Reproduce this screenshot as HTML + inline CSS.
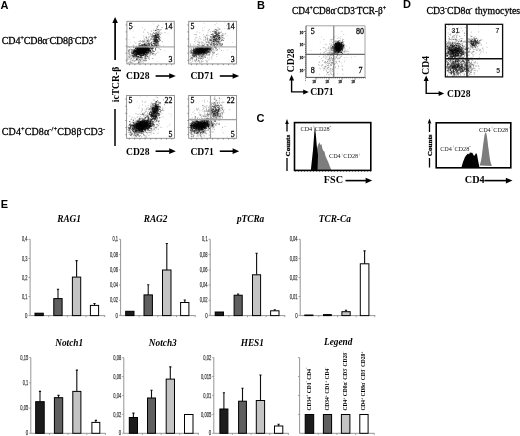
<!DOCTYPE html>
<html><head><meta charset="utf-8"><title>figure</title>
<style>
html,body{margin:0;padding:0;background:#fff;}
body{width:520px;height:436px;overflow:hidden;}
svg{display:block;}
.t{stroke:#000;stroke-width:0.28px;}
.t2{stroke:#444;stroke-width:0.25px;}
</style></head>
<body>
<svg width="520" height="436" viewBox="0 0 520 436">
<defs><filter id="bl" x="-5%" y="-5%" width="110%" height="110%"><feGaussianBlur stdDeviation="0.5"/></filter><filter id="gb" x="0" y="0" width="520" height="436" filterUnits="userSpaceOnUse"><feGaussianBlur stdDeviation="0.3"/></filter></defs>
<rect width="520" height="436" fill="#fff"/>
<g filter="url(#gb)">
<text x="0.6" y="9" font-family='"Liberation Sans", sans-serif' font-size="11" font-weight="bold" font-style="normal" text-anchor="start" fill="#000" >A</text>
<text x="256.9" y="8.8" font-family='"Liberation Sans", sans-serif' font-size="11" font-weight="bold" font-style="normal" text-anchor="start" fill="#000" >B</text>
<text x="256.4" y="121.5" font-family='"Liberation Sans", sans-serif' font-size="11" font-weight="bold" font-style="normal" text-anchor="start" fill="#000" >C</text>
<text x="403" y="8.4" font-family='"Liberation Sans", sans-serif' font-size="11" font-weight="bold" font-style="normal" text-anchor="start" fill="#000" >D</text>
<text x="0.8" y="208" font-family='"Liberation Sans", sans-serif' font-size="11" font-weight="bold" font-style="normal" text-anchor="start" fill="#000" >E</text>
<text x="1.8" y="43.7" font-family='"Liberation Serif", serif' font-size="10" font-weight="normal" font-style="normal" text-anchor="start" fill="#000" class="t" textLength="95.2" lengthAdjust="spacing"><tspan>CD4</tspan><tspan font-size="6.5" dy="-4.2">+</tspan><tspan dy="4.2">CD8&#945;</tspan><tspan font-size="6.5" dy="-4.2">-</tspan><tspan dy="4.2">CD8&#946;</tspan><tspan font-size="6.5" dy="-4.2">-</tspan><tspan dy="4.2">CD3</tspan><tspan font-size="6.5" dy="-4.2">+</tspan></text>
<text x="1.8" y="134.9" font-family='"Liberation Serif", serif' font-size="10" font-weight="normal" font-style="normal" text-anchor="start" fill="#000" class="t" textLength="103.4" lengthAdjust="spacing"><tspan>CD4</tspan><tspan font-size="6.5" dy="-4.2">+</tspan><tspan dy="4.2">CD8&#945;</tspan><tspan font-size="6.5" dy="-4.2">-/+</tspan><tspan dy="4.2">CD8&#946;</tspan><tspan font-size="6.5" dy="-4.2">-</tspan><tspan dy="4.2">CD3</tspan><tspan font-size="6.5" dy="-4.2">-</tspan></text>
<line x1="115.1" y1="60" x2="115.1" y2="22.6" stroke="#000" stroke-width="1.7"/><path d="M115.1 17.1L112.3 23.1L117.9 23.1Z" fill="#000"/>
<line x1="115" y1="109" x2="115" y2="146" stroke="#111" stroke-width="1.6"/>
<text x="0" y="0" font-family='"Liberation Serif", serif' font-size="9.6" font-weight="bold" font-style="normal" text-anchor="middle" fill="#000" transform="translate(119.2 84.5) rotate(-90)">icTCR-&#946;</text>
<clipPath id="c1"><rect x="126.9" y="21.3" width="47.4" height="42.6"/></clipPath><g clip-path="url(#c1)"><g filter="url(#bl)"><path d="M142.2 27.7h0.8M157.8 24.4h0.8M152.3 36.9h0.8M129.6 42.9h0.8M128.7 39.8h0.8M130.2 25.2h0.8M147 56.5h0.8M132.8 30.8h0.8M156.6 61.7h0.8M154.3 38.2h0.8M173.2 23.3h0.8M167.6 33.6h0.8M133.7 26.3h0.8M141.5 56.1h0.8M135.5 46.1h0.8M157.2 37.2h0.8M152.9 24h0.8M129.7 30.1h0.8M159.2 39.5h0.8M141.8 46.2h0.8M148.4 34.1h0.8M164.6 51.1h0.8M138.5 45.8h0.8M151.8 58.6h0.8M161.5 33.6h0.8M173.4 26.3h0.8M146.7 53.6h0.8M134.1 42.1h0.8M128.8 49.8h0.8M163.1 45.7h0.8" stroke="#000" stroke-width="0.8" stroke-opacity="0.25" fill="none"/><path d="M143.5 48.6h1M139.2 48.4h1M137.6 50.3h1M145.4 45.2h1M136.1 52.2h1M147.2 50.2h1M133.1 47.3h1M142.5 48.6h1M137.7 53.4h1M145.7 49.7h1M142.6 51h1M147.8 50.1h1M143.7 51h1M136.2 54.4h1M145.4 50.5h1M133.7 51h1M143.8 46.1h1M141.3 52.6h1M137.3 54.8h1M143.5 49.6h1M143 51.4h1M142.5 52.5h1M138.8 50.2h1M145.5 49.5h1M138.6 53.1h1M146.8 48.2h1M136.2 51.4h1M140.8 50h1M146.3 47.1h1M145.7 46.7h1M138.8 52.4h1M146.2 51h1M142.9 50.4h1M142.4 51.4h1M141 51.1h1M143.7 49.9h1M144.7 50.8h1M149.3 49.1h1M139.7 50.1h1M141.9 52.2h1M140.4 51.5h1M147.2 43.7h1M137.4 51.9h1M143.1 50.5h1M140.2 52.1h1M142.3 49.1h1M150.9 48.8h1M139.4 50.7h1M140.6 50.5h1M130.9 52h1M144.8 47.2h1M141.7 52.3h1M145.5 52.5h1M134.9 51.3h1M140.5 51.9h1M144.3 44.2h1M144.9 46.6h1M143.4 46.9h1M142.7 52.6h1M141 50.9h1M144.6 49.9h1M141.9 53.5h1M145.3 48.8h1M151.3 45.6h1M144.8 49h1M142.3 51.6h1M142.6 51.4h1M135 48.9h1M143.4 48h1M136.9 48.5h1M146.7 50.7h1M146.6 47.2h1M141 48.2h1M145.2 52.8h1M138.9 54.3h1M145.2 49.1h1M134.7 55h1M140.8 49.3h1M143.2 50.8h1M146.7 47h1M146.5 52.2h1M146.9 48.7h1M139.2 53.1h1M142 50.5h1M146.8 48.5h1M132.6 51.8h1M134.9 53.7h1M142.4 48.9h1M141.9 52h1M142.4 52.9h1M141.8 52.5h1M147.9 52.1h1M139.4 52.7h1M133.9 50.1h1M134.6 54.3h1M136.8 51.5h1M140.8 50.5h1M139.4 51.4h1M148.3 48.8h1M144 51.8h1M140.1 48.1h1M139.9 53h1M135 50.8h1M145.7 51h1M141.9 52h1M141.6 48h1M135.3 50.6h1M144.7 48.4h1M137.7 49.8h1M135.6 51.6h1M137.2 52.2h1M132.7 53.3h1M138.1 47.2h1M144.1 49.2h1M132.6 50.8h1M142.4 49.2h1M144.8 51.1h1M144.2 50.4h1M146.9 50.4h1M142.2 45.9h1M145.5 52.1h1M140.1 49.8h1M148 45.2h1M144.4 54.7h1M138.3 52.6h1M148.6 48.4h1M144.1 51.6h1M138 51.1h1M143 51.7h1M141.3 50.1h1M137.5 50.7h1M144.9 49.8h1M137.9 49.6h1M152.1 50.1h1M142.7 44.8h1M144.1 50.7h1M148.1 49.6h1M141.5 51.5h1M134.6 54.2h1M142.4 48.7h1M147.4 52.7h1M135.9 50.4h1M142.7 50.5h1M139.5 48.9h1M150 50.4h1M136.3 48.9h1M148.4 50.7h1M148.8 50.3h1M138.3 51.7h1M133 51h1M141.5 51.5h1M138.7 50.8h1M143.4 50.7h1M144 50.2h1M140.7 52.2h1M141.3 48.8h1M139.1 51h1M141.2 50.8h1M141.6 50.7h1M140.4 48.1h1M143.6 52h1M143.1 49.6h1M142.7 48.1h1M134.4 52.3h1M138.3 52.7h1M136.1 46.3h1M138.3 54.4h1M139.4 48.1h1M138.9 52.1h1M143.5 50.3h1M147.5 50.4h1M141.7 51.6h1M148.2 50.7h1M144.9 47.3h1M141.3 52h1M140.9 52.8h1M144.2 51.6h1M141.9 55.5h1M146.1 48.8h1M143.1 55.4h1M140.6 52.4h1M145.2 49.5h1M137.2 51.9h1M143.4 52.3h1M144.5 49.7h1M145 50.6h1M142.3 50.3h1M140.9 52h1M137.2 50.2h1M140.8 47.6h1M138.9 46.9h1M139.2 52.1h1M143.6 49.8h1M139.9 47.9h1M148.7 49.7h1M145.2 47.7h1M139.9 47h1M144.9 51.5h1M134.3 52.1h1M143 46.4h1M134.1 50.1h1M138.4 48.3h1M141.7 50.9h1M144.2 51.2h1M147.7 51.2h1M136.3 50.7h1M137 49.3h1M141.2 50.5h1M142.6 46.9h1M136.8 51.5h1M140.6 50h1M140.9 49h1M144.3 50.4h1M140.8 49.2h1M139.5 45.3h1M137.8 51.4h1M135.9 52.2h1M141.4 47.6h1M140.4 50h1M143.5 51.2h1M141 48.8h1M140.9 50.4h1M144.4 50.3h1M138.1 48.5h1M139.7 49.3h1M137.2 51.2h1M139.7 51.1h1M143.3 49.1h1M150.1 47.6h1M145.7 49.6h1M144.6 44.7h1M138.8 51.6h1M144.9 54.4h1M143.3 52.6h1M144.9 51.5h1M143.4 49.6h1M142.9 47.8h1M145.5 47.3h1M143.5 54.3h1M140.7 50.6h1M145.9 49.4h1M138.6 51.7h1M144 51.2h1M139.4 54.5h1M147.8 48.9h1M142.3 49.3h1M146.5 47.7h1M143.8 48.8h1M139.2 52.4h1M146.5 49.1h1M139.3 52.6h1M141.5 51h1M147.8 51.2h1M140.6 55.3h1M141.9 51.9h1M139 50.9h1M135.7 55.5h1M146.1 46.8h1M135 48.7h1M145.7 48.4h1M141.1 49.9h1M140.5 48.4h1M140.9 47.6h1M141.4 51.1h1M143.2 49.5h1M138.2 51.6h1M140.4 53.9h1M144.3 49.5h1M139.4 49.5h1M137.8 50.6h1M142.9 51.1h1M144.7 53.9h1M138.8 51.1h1M151.2 44.1h1M139.6 51.2h1M142.3 51h1M140.8 51.3h1M142.1 51.8h1M133.9 50.5h1M141 48.4h1M137.9 52.6h1M139.3 52.2h1M144.5 50.3h1M143.4 49.7h1M136.2 51.7h1M143 48.9h1M141.5 51.9h1M138.5 52.5h1M148.3 47.6h1M142 50h1M147.5 49.6h1M144.6 48.2h1M141.4 50.4h1M135.5 54.9h1M144.1 46.2h1M144.3 49.4h1M143.4 50.7h1M135.7 51.4h1M146.9 47.9h1M137 48.7h1M137 52.2h1M148.1 49.6h1M143.5 54.5h1M139.2 49.6h1M143.8 51h1M137.1 49.1h1M142.7 50.6h1M136.5 51.2h1M139.7 51.8h1M141 50.3h1M140.7 52.8h1M146.6 48.4h1M144.3 48.1h1M142.1 51.8h1M147 48.2h1M141.3 50.9h1M135.8 51.8h1M139.1 51.8h1M136.3 47.6h1M141.8 50.9h1M139.9 52.6h1M140.2 49.5h1M142.5 46.9h1M138.9 51h1M144.6 49.3h1M142.4 48.8h1M143.4 53.3h1M140 55.6h1M139.1 51h1M142.7 52.2h1M135.8 47.5h1M144.2 51.4h1M145.1 54.9h1M142.4 50.7h1M145.2 50.2h1M147.2 46.4h1M138.4 44.1h1M144.4 48.9h1M146 53.7h1M141.4 49.9h1M139.2 49.2h1M139.4 52.2h1M141.7 50.5h1M141.3 52.3h1M143.3 49.7h1M143.9 49.5h1M137.8 54.3h1M142.8 48.1h1M145.7 50.1h1M136.4 55h1M143.2 51.8h1M142.2 49.9h1M136.1 53.7h1M141.5 49.8h1M142.9 50.2h1M143.9 49h1M140.3 46.3h1M140.2 52.1h1M146.4 48.4h1M141.8 53.6h1M140.6 52.1h1M147.9 48.9h1M145.8 47.9h1M142.2 50.1h1M142.5 52.5h1M150.2 46.9h1M139.6 51.9h1M137.7 52.4h1M143.5 49.3h1M142.8 46.9h1M143.6 46.7h1M138.6 50h1M140.4 52.4h1M141.6 49.6h1M144.3 53h1M141.7 51.1h1M146.3 49.8h1M137.8 56.4h1M148.9 44.5h1M141.6 51.2h1M145.5 50.8h1M140 48.6h1M142.4 52.3h1M136.9 49.4h1M140.5 46.7h1M140.3 49.8h1M142.9 48.6h1M138 50.5h1M141 49.2h1M141.9 51.8h1M146.8 52.6h1M138.3 50.3h1M133 56.4h1M138.7 51h1M142.8 47.3h1M143.2 49.9h1M134.7 52.7h1M145.1 45.6h1M144.7 50h1M143.5 50.8h1M146.3 48.7h1M144.6 48.8h1M143.9 48.1h1M141.9 53.9h1M143.1 49.7h1M136.8 49.9h1M142.7 52h1M143.4 51h1M142 53.1h1M139.8 49.7h1M144.9 49.7h1M140.2 49.5h1M140.8 51.9h1M142.3 47.7h1M143.2 50.3h1M138.1 52.8h1M140.3 50h1M145.2 52.2h1M139.1 51.9h1M139.3 55.7h1M140.2 53.2h1M139.4 52.6h1M148.7 43.4h1M140.1 51.8h1M140.8 49.2h1M149.7 48.5h1M135.7 53.6h1M135.5 54.3h1M139.4 51.2h1M146.3 49.4h1M135.4 48.4h1M146.3 50.7h1M138.8 52.8h1M143.7 51.2h1M132.8 51.9h1M145.3 51h1M143.6 44.8h1M142.4 51.2h1M150.7 46.1h1M140.3 50.8h1M144.6 48.7h1M145.5 47.8h1M142.3 49.1h1M141.8 48.9h1M136 54h1M142.4 49h1M142.7 52.1h1M137.7 51.1h1M143.8 50.9h1M139.2 46.6h1M146.4 49.9h1M141.4 49.8h1M142.3 49.3h1M137.3 49.9h1M138.9 49.8h1M137.4 52.7h1M136.9 52.9h1M137.8 52h1M146.8 49.5h1M138.8 51.2h1M141.2 46.9h1M139.3 51.3h1M139.8 51h1M144.6 51.2h1M145.2 50.7h1M140.4 50.6h1M140.3 50h1M140 47.2h1M140.2 50.7h1M137.8 51.3h1M143.4 49.6h1M148.1 43.4h1M139.8 47.1h1M146.5 54.6h1M132.1 53h1M143.3 49.3h1M142.5 45.5h1M144.9 50.3h1M141.3 49.2h1M143.7 48.9h1M142.1 49.2h1M133 52.5h1M142.6 51.7h1M138.2 51.2h1M143.9 50.1h1M147.2 53.1h1M137.1 47.5h1M145.5 52.6h1M145.4 51.1h1M138.8 49.6h1M144.4 47.8h1M134.2 50.2h1M151.9 51.8h1M138.5 49.6h1M142 48.7h1M146.4 49h1M138 54h1M139.4 51.4h1M141.3 49.8h1M142.4 48.7h1M133.5 47.9h1M136.3 50.1h1M141.4 50.5h1M143.7 50.1h1M138.2 49.8h1M133.4 52.1h1M143.6 51h1M141 50.2h1M145.1 49.5h1M144.6 50.8h1M142.9 52.7h1M139.2 50.2h1M138.1 49.6h1M148.2 52.3h1M141.9 51.5h1M146.3 50.9h1M145.5 46.8h1M139.3 51.9h1M147 49.2h1M138.1 50.5h1M138.6 49.4h1M146.9 47.8h1M142.6 54.6h1M146.1 49.9h1M139.4 51.8h1M147.9 50.1h1M146.3 49.4h1M143.4 49.5h1M143.7 52.5h1M136.1 51.6h1M142.1 49.1h1M140.7 52.2h1M149.4 49.7h1M142 47.1h1M148.8 48.7h1M140.8 48.3h1M140.8 48.3h1M142 51.2h1M141.8 50.9h1M139 54h1M138.1 47.5h1M140.4 49.1h1M137.5 50.7h1M142 47.8h1M141.7 53.3h1M144 49.5h1M141.9 50h1M141.7 51.9h1M140 45.8h1M141 48.7h1M143.7 48.6h1M143.1 54.5h1M137 49.2h1M135 47.1h1M134.6 52.9h1M138.2 47.4h1M136.2 53h1M138.4 50.4h1M143.4 52.7h1M149.3 50.6h1M142.1 50.6h1M149 51.5h1M140.5 51.6h1M142.6 50.2h1M139 48.3h1M138.7 47.9h1M146.4 50.3h1M137.6 54.2h1M144 45.9h1M148.9 50.2h1M148.7 46.1h1M143.7 50.7h1M142.3 50.5h1M144.8 46.5h1M136.1 48.9h1M139.1 49.8h1M143 50.6h1M141.3 49.1h1M140.3 52.7h1M144.4 49.9h1M141 53.7h1M139.6 52.2h1M145.7 48.8h1M144.1 47.5h1M145.4 49.8h1M135.8 53.2h1M138.7 53.7h1M138.9 50.7h1M142.4 49.5h1M142.2 49.1h1M144 49.8h1M141 44.9h1M145.9 49.4h1M134.8 52.3h1M143.8 52h1M138.2 54.4h1M142.1 55.2h1M141.3 51.9h1M139.6 48.6h1M146.1 51.1h1M147.7 50.6h1M138.5 47.7h1M138.7 49.7h1M138.7 52.3h1M142.6 49.6h1M142.1 50h1M142.7 51.7h1M144.8 48.2h1M136.5 54.6h1M142.5 52.4h1M135.1 51.3h1M140.9 47.6h1M139.9 52.3h1M146.4 52.5h1M137.6 48.5h1M143.9 51.7h1M141.6 47.7h1M144.8 51.2h1M143.4 48.9h1M143 51.6h1M138.5 47.3h1M143 51h1M142 52.1h1M139.2 50.8h1M140.6 51.8h1M147.4 48.4h1M150 51.4h1M144.8 50.8h1M148.1 48.4h1M140.6 48.4h1M143.9 52.6h1M143.7 50.7h1M140.8 50.9h1M136.6 53.8h1M139.4 48.6h1M138.3 49.5h1M145.2 51.6h1M136.8 53.5h1M144.6 48.4h1M135.5 50.4h1M139.3 51.7h1M139.2 46.8h1M141.6 47.2h1M144.3 47.2h1M138.5 49.4h1M140.1 53.4h1M145 50.8h1M142 47.1h1M139.3 49.8h1M138 52.3h1M138.4 49.7h1M136.6 47.4h1M144.4 52.4h1M141.7 48.3h1M131.3 53.3h1M146.2 49.8h1M145.7 52.4h1M145.6 48.5h1M145.9 50.9h1M135.5 51.1h1M136.1 51.5h1M143.2 47.8h1M134.3 54.9h1M143.6 52.9h1M137 53.7h1M150.3 52.3h1M140.8 51.1h1M141.4 52.5h1M145.5 49.6h1M136.7 53.1h1M140 52.1h1M143.3 53.3h1M145.6 48.5h1M143.7 53.5h1M139.7 51.7h1M146.6 51.7h1M142.8 47.3h1M136.8 52.1h1M144.2 55h1M138.8 53.4h1M143.6 46.4h1M138.5 51.5h1M139.6 50.6h1M142.9 48.4h1M143 48.7h1M139.7 52h1M139.5 51.5h1M147.6 48.9h1M141.3 52h1M140.6 52.8h1M136.9 52.8h1M139.2 49.3h1M147.8 47.1h1M148.5 50h1M146.5 47.1h1M146.7 52.1h1M141 50.3h1M150.9 48.4h1M139.6 49.6h1M143.3 50.6h1M143 53.6h1M140.5 51.6h1M146.5 47.1h1M146.3 53h1M135.8 49.5h1M136.7 47.8h1M142.3 46.4h1M144.1 52.7h1M135.2 51.3h1M134.6 53.7h1M138.6 50.6h1M142 51.4h1M140.2 50.8h1M139.5 51.1h1M137.1 51.6h1M134 51.3h1M148.8 48.7h1M136.9 52.1h1M137 48.1h1M139.1 52.5h1M142.9 49.8h1M137.5 49.2h1M146.7 49.6h1M136.9 47.2h1M137.5 56.5h1M137.1 51.3h1M142.2 49.9h1M139.8 48h1M138.3 54.7h1M139 52.8h1M135 51.5h1M143 52.2h1M137.5 52.6h1M142.6 48.6h1M142.9 48.2h1M138.5 51.1h1M131.2 52.7h1M137 48.5h1M140.3 52.3h1M140.6 53.2h1M136.5 48.9h1M147.6 49.7h1M144.7 47.9h1M144.7 50.1h1M144 49.8h1M145.8 48h1M137.1 48.4h1M145.5 47.9h1M137.1 49.6h1M139.2 48.4h1M140.1 49.5h1M138.9 49.1h1M141.4 49.5h1M142.1 50.8h1M141.7 45.8h1M139.1 49.4h1M143.7 46.6h1M138.7 50.5h1M140.7 52.6h1M140.3 52.7h1M135.1 48.3h1M146.3 50.1h1M143.4 50.2h1M142.7 47.6h1M144.8 48.5h1M145.3 49.6h1M133.4 49.8h1M145.7 49.1h1M140.1 51.2h1M139.6 49.7h1M142 50.6h1M147.3 49.1h1M149.5 52.1h1M148.5 50.8h1M142.1 50.5h1M140.6 49.1h1M140.9 49.2h1M148 49.9h1M138.9 47.1h1M141.1 49.6h1M136.8 49.2h1M133.3 53.6h1M142.5 55.5h1M141.3 50.1h1M147 49.3h1M142 49.5h1M139.9 53.9h1M146.1 52.8h1M140.2 50.8h1M138.6 53.1h1M136.5 52.8h1M146.3 52.1h1M138.5 53.4h1M138.4 49.6h1M137.1 53.9h1M147.5 47.7h1M138.5 50.5h1M151.5 50h1M138.6 47.4h1M139.5 53.3h1" stroke="#000" stroke-width="1" stroke-opacity="0.6" fill="none"/><path d="M152.2 48.2h1M135.7 50.8h1M129.2 57.2h1M134.3 56.6h1M128.7 49.7h1M141.8 48.7h1M145.5 50.6h1M133.5 55.3h1M144.5 44.1h1M152.5 50.8h1M144 44.4h1M135.7 51.4h1M146.3 45.3h1M133.4 46h1M139.2 53.1h1M129.4 51.9h1M144.9 56.2h1M144.5 49.7h1M132.3 50.1h1M136.4 53h1M141.4 57.2h1M141.6 47.6h1M151 52.7h1M140.6 49.1h1M127.9 50.7h1M145.7 47.7h1M132.2 54h1M142.5 53.3h1M145.7 55.4h1M135.9 56h1M134.7 55.2h1M141.8 52.2h1M146.6 50.2h1M148.2 53h1M141 49.5h1M135.3 50.9h1M139.2 51.8h1M159.9 49.7h1M144.8 47.7h1M135.8 51.5h1M141 47.9h1M150.4 47.5h1M145.7 42.4h1M140.7 52.5h1M142.1 53.3h1M142.4 51.8h1M128 51.8h1M142.3 50.5h1M134.9 50.8h1M153.5 54.9h1M141 56h1M129 47.3h1M136.8 49.3h1M137.1 53h1M159.3 45.3h1M141 52.5h1M140.9 54.7h1M150.9 45.1h1M141.3 50.5h1M141.7 46h1M127.7 46.3h1M144 51.5h1M139.3 43.6h1M137.6 49.6h1M130.9 50.5h1M145.3 52.5h1M140.7 53.3h1M136.7 52.7h1M141.1 53.4h1M140 51.2h1M139.2 49.6h1M155.1 50.3h1M144.8 58.6h1M148.3 44.5h1M145.5 53.4h1M153.4 53.4h1M144.6 46.6h1M135.2 53.7h1M143 47.5h1M137.8 50.8h1M141.1 52.6h1M137.8 47.9h1M149.5 55.2h1M140.6 55.2h1M143.8 53.2h1M143 48.4h1M144.9 54.2h1M136.2 59.4h1M155.1 54.8h1M153.7 51.4h1M137.9 50.1h1M135.4 53.1h1M140.8 53.9h1M129.3 62h1M155 48.4h1M145.1 52.3h1M142.1 50.5h1M139.1 49h1M141.6 51.3h1M141.9 48.3h1M140.8 51.7h1M143.6 47.2h1M143.9 54.3h1M144 49.6h1M137.2 51.5h1M146.2 55.8h1M139 49.7h1M143 51.8h1M134.2 50.4h1M140.3 54h1M132.2 49.8h1M142.8 46.9h1M141.4 52.6h1M139.1 48.4h1M139.9 50.6h1M142 48.4h1M146.3 44.6h1M139.4 51.9h1M146.2 48.3h1M143.6 49h1M146.4 56.4h1M138.3 53.6h1M135.3 56.1h1M148.2 50.1h1M133.6 54.5h1M148.6 53.7h1M144.4 44.4h1M137.2 57.2h1M133.5 57h1M153 51.6h1M147.4 49h1M132.6 52.9h1M139.2 51.7h1M144.8 50.2h1M142 52.8h1M141.8 57.7h1M143.4 51.3h1M138.7 49.8h1M149.2 50.3h1M133.2 51.2h1M139.3 50.3h1M146.6 46.3h1M143.7 51.4h1M133 53.3h1M140.3 53.4h1M137.9 53.2h1M129.1 50.2h1M146.2 54h1M140 49.6h1M145.9 43.2h1M135.9 54.9h1M143.9 47.3h1M129.5 59h1M140.8 48.4h1M141.5 54.5h1M143.7 43.7h1M144.1 44.6h1M148 51.4h1M154.4 46.5h1M141.3 55.1h1M135.9 50.1h1M138.1 51.9h1M134 54.7h1M144 51.1h1M151.1 48.2h1M148.4 48h1M143.9 44.1h1M141.6 50.7h1M136.9 50.2h1M137.8 49.7h1M136.6 50.6h1M133.7 52.6h1M145.3 49.7h1M138.3 56.8h1M147.4 53.3h1M147.6 49h1M140.5 55.5h1M136.9 52h1M143.2 52.3h1M139.4 55.2h1M139.9 54.3h1M147.8 52.3h1M144.3 46.8h1M131.7 51.3h1M144.6 55.9h1M132.9 54.3h1M134.6 50.3h1M139.2 54.3h1M142.7 55.2h1M134.9 55.9h1M146.5 50.6h1M143.1 49.1h1M133.3 51.7h1M138.5 62.1h1M138.6 57.7h1M142 52.4h1M144.7 48h1M146.6 51.6h1M131.3 55.6h1M144.3 52.4h1M150.3 48.1h1M144.3 53.4h1M135.6 56.8h1M130.4 49.2h1M143.1 47.3h1M138.6 46.3h1M140.1 47.7h1M141.6 46h1M143.2 50.1h1M140.9 51.3h1M140.4 47h1M134.2 51.4h1M141.8 44.4h1M135.2 50.6h1M134 54.1h1M139 49.1h1M134.8 55.6h1M136.7 54.4h1M142 44.7h1M133.6 53.1h1M143.2 53.7h1M146.3 54h1M138 51.4h1M145.1 49.1h1M146.1 44.9h1M144.5 50.1h1M128.7 57.5h1M142.5 51.2h1M133.3 51.5h1M149.5 46.8h1M132.8 52.8h1M137.4 49.1h1M135.9 56.2h1M132.7 60.1h1M136.3 48.7h1M145.9 52.4h1M134.4 55.5h1M128.2 51h1M147.5 49.2h1M132.6 55.1h1M146.3 50.3h1M128.8 52.9h1M143.7 53.6h1M152.1 48.3h1M137.4 52.1h1M147.5 46.8h1M146.9 40.7h1M145.1 48.3h1M143.9 53.3h1M132.9 52.9h1M142.4 53.2h1M133.9 49.6h1M130.1 62.6h1M139.1 51.1h1M131.7 56.7h1M138.1 57.1h1M145.9 50.5h1M144.3 46.9h1M138 50.1h1M132.4 53.4h1M140.6 56.6h1M134.3 51.3h1M143.5 52.4h1M140.3 50h1M143.9 52.1h1M128.6 53.2h1M130.9 49.5h1M141.5 51.6h1M140.6 48.5h1M138.6 48.8h1M143.4 53.4h1M152.6 53.4h1M135.1 51.2h1M134.7 53.9h1M153.6 51.3h1M132.6 55.1h1M140.7 52.6h1M151.2 46.4h1M136.5 59.3h1M142.1 48.5h1M141.5 54.8h1M139.1 49.5h1M137.1 58.9h1M129.4 54.6h1M141.1 53.6h1M138.3 53.8h1M145.6 50h1M137.5 51.6h1M134.2 52.2h1M138.7 52.7h1M149.9 54.1h1M138.1 54.2h1M142.9 53.7h1M140.8 52.5h1M137 49.6h1M147 54.7h1M145 52.2h1M141.9 49.7h1M129.6 56.2h1M141.4 49.5h1M135.3 57.2h1M130.3 59.9h1M146.2 58.6h1M135.9 52.5h1M137.4 52.8h1M138.6 49.4h1M146.8 47.5h1M137.7 54.1h1M136.8 50.9h1M142.5 49.9h1M132.5 52.9h1M140.3 57.6h1M134.2 56.3h1M135.3 51.5h1M138.6 52.9h1M147.2 56.3h1M137.4 56.9h1M147.4 53h1M136.3 55.6h1M140.1 52.9h1M139.3 54.2h1M148.4 53.9h1M139.9 55.2h1M149.1 46.5h1M148.9 45.2h1M144.4 52.8h1M150.1 50.5h1M136.9 49.6h1M133.1 55.8h1M138.5 49.5h1M143.3 48.3h1M137.4 50.7h1M152.1 54.2h1M138.4 46.6h1M142.3 51.5h1M143.1 53h1M139.1 55.1h1M146 51.2h1M137.6 50.6h1M144.1 47h1M139 49.3h1M132.1 55.5h1M140.4 51.8h1M145 45.4h1M140.3 52.7h1M145 46.9h1M145.2 51.4h1M149.9 53.6h1M145.5 58h1M140.2 50.2h1M137.7 48.9h1M139 45.4h1M140.3 53.1h1M146.6 49.1h1M148.9 47.6h1M138.3 45.5h1M135.1 50h1M150.1 51.4h1M134 54.8h1M143.3 50.2h1M140.4 50.6h1M135.9 46.6h1M140.8 55.9h1M149.2 48.8h1M135.7 51.9h1M146.3 51.6h1M137.1 53.5h1M139.6 53.5h1M137 47.4h1M141.4 54h1M133.6 52.7h1" stroke="#000" stroke-width="1" stroke-opacity="0.4" fill="none"/><path d="M157.5 37.4h1M152.8 48.6h1M156.5 44.2h1M152.5 46.6h1M152.5 36h1M156.1 45.6h1M154.1 35.5h1M157.2 29.8h1M156.4 41.9h1M154.2 41.5h1M156.9 40.7h1M155.5 46.4h1M154.4 39.6h1M153.7 43.8h1M154.4 41.2h1M155.7 39.4h1M159 39.1h1M157.8 43.4h1M158.3 38.6h1M156.9 42.9h1M154.1 40.1h1M155.3 38.8h1M158.6 35.9h1M153.3 30.2h1M155 35.8h1M155.1 41.7h1M158.8 41h1M156.9 35.6h1M155.8 45.7h1M159.5 30h1M156.2 46.8h1M158.2 32.1h1M154.5 41.7h1M156.9 35.2h1M153.1 43.4h1M151.9 45.5h1M155.3 40.4h1M153.2 35.8h1M157.9 32.2h1M160.6 32.9h1M153 38.9h1M156 42.6h1M154.9 37.9h1M155.4 36.2h1M149.7 42.9h1M155.9 39.8h1M154.1 40h1M155.5 38.6h1M158.9 31.1h1M156.7 34h1M153.9 46h1M153.4 38.2h1M153.7 43.4h1M154.7 30.7h1M156.8 37.5h1M154.1 44h1M154 37h1M155.5 41h1M153.8 43.8h1M160.2 37.7h1M160.6 29.5h1M158.5 37.8h1M156 37.4h1M155.1 32.7h1M153.8 45.1h1M158 37.7h1M154.9 35.5h1M151.9 47.2h1M156.7 39.7h1M155.2 34h1M157.6 43.1h1M152.9 43.4h1M152.9 41.7h1M153.9 36.8h1M156.2 41.2h1M158.1 35.3h1M157.8 45.8h1M155.2 41.2h1M154 38.1h1M152.8 39.1h1M155 45.4h1M156.8 43.1h1M154.9 37.8h1M154.7 40h1M151.1 42.1h1M152.7 36.1h1M155.9 36.6h1M158.9 39h1M157.9 45h1M154.2 40.8h1M158.3 37.8h1M156 36.4h1M155.9 37.3h1M155 43.8h1M158.2 40h1M155.3 43.1h1M155.6 33.9h1M158.3 34.9h1M158 34.7h1M159.9 34.6h1M156.2 46.4h1M152.6 45.8h1M155 30.4h1M156.5 42.5h1M156.8 26.9h1M155.6 37.5h1M154.9 37.5h1M152.3 35.8h1M158.1 46.9h1M155.3 35.5h1M155.6 44.2h1M157.7 33.6h1M155.7 39.7h1M157.6 45.1h1M155.7 44.9h1M153.7 46.2h1M154.4 40.8h1M157.9 34.9h1M155.3 30.4h1M155.9 38.8h1M154.5 41.3h1M151.3 38.3h1M155.9 37.8h1M155.9 47.6h1M155.2 34.4h1M154.2 39.3h1M157.2 35.1h1M158.2 34.4h1M156.9 41.3h1M155 49.4h1M155.1 38.1h1M155.9 43.2h1M152.6 39.9h1M153.6 41.8h1M158.2 39.6h1M155.2 39.8h1M149.1 41.8h1M156.5 39.9h1M155.2 35.4h1M154.3 44.7h1M154.4 45.4h1M150.7 36.1h1M156.1 39h1M152.6 35.4h1M158.9 33.2h1M154.3 33.5h1M154 41.9h1M158 29.5h1M158.8 36.6h1M153.2 46.8h1M156.2 33.1h1M154.7 35.4h1M153.7 37.1h1M157 40.9h1M150.9 51.9h1M153.4 39.3h1M155.1 42.6h1M154.5 41.1h1M159.6 40h1M153.1 40.3h1M154.1 37h1M155.7 40.7h1M154.4 43h1M156 32.7h1M157.5 37.5h1M158.4 36.2h1M156.4 40.7h1M151.1 31.1h1M152.3 45.4h1M151.1 42.8h1M157.3 41.7h1M157.2 36.8h1M155.3 40.1h1M155.9 42.5h1M155.6 35.6h1M154.1 40.8h1M153 32.6h1M155 36.3h1M156.7 26.3h1M155 37.7h1M158.4 29.8h1M154.6 41.2h1M155.7 44.8h1M158.3 34.3h1M157 37.6h1M152.9 46.1h1M154.8 34.8h1M155.3 34.8h1M157.3 41.1h1M158 41.4h1M153.6 43.8h1M154.5 36.6h1M155.1 39.1h1M158.3 36.4h1M156.2 39h1M153.7 33.4h1M154.8 40.9h1M155.8 41.4h1M155.9 36.9h1M157 34.3h1M153 37h1M153 36.1h1M154.4 36.1h1M155.9 35.2h1M155.8 30.7h1M156.4 34.8h1M158.2 25.6h1M153.7 39.9h1M150.8 36.6h1M155.6 39.5h1M152.3 39.7h1M156.5 34.4h1M157 39h1M155.8 36.9h1M156.5 39.6h1M157.5 41.5h1M154.4 37.8h1M157.6 37.5h1M155.9 41.6h1M156.7 27.8h1M155.6 40.1h1M156.3 35.4h1M158 38.7h1M154.7 35.4h1M157 33.9h1M152.1 48.3h1M157.4 44.4h1M157.8 42.2h1M151.3 44.2h1M157.7 41.7h1M150.7 44.4h1M158.6 37h1M155.2 42.8h1M154.6 44.2h1M155.2 42.3h1M156.7 31.9h1M151.4 53.9h1M155.2 45.4h1M156.6 47.5h1M157 36.3h1M156.8 29.8h1M154.5 43.3h1M151 39.3h1M156.3 45.6h1M154.1 35.6h1M152.4 33.6h1M155.2 49.1h1M152.3 45.3h1M156.7 36.7h1M161.6 27.5h1M155.2 40h1M158.6 48.2h1M160 40.3h1M156.6 45.8h1M156.3 40.9h1M155.4 37h1M151.7 48h1M156 28.9h1M156.1 38.9h1M154.6 47.8h1M155.5 37.7h1M154 38.7h1M154.5 39.9h1M161.6 41.8h1M152.5 48h1M156.7 43.2h1M156.4 43.1h1M155.9 46h1M156.6 45.8h1M154.5 38.8h1" stroke="#000" stroke-width="1" stroke-opacity="0.4" fill="none"/><path d="M145.6 50.7h1M150.3 38.9h1M157.6 52.2h1M150.8 34.7h1M148.3 46.9h1M147.9 45.7h1M154.5 40.7h1M142.9 51.1h1M146.8 44.8h1M140 40.7h1M139.1 47.5h1M133.4 37.4h1M150.2 34.9h1M144.4 49h1M137.3 58.8h1M144.6 49.6h1M145.2 47.1h1M147.6 43.6h1M132.7 45.3h1M150.7 49.8h1M145.4 48.3h1M149.3 45.3h1M148.4 34.1h1M148 42.2h1M142.9 41.8h1M139.7 43h1M147.9 58.3h1M156.5 37.4h1M148.4 37.2h1M151.8 49.2h1M144 40.2h1M142.9 41h1M138.6 48.5h1M142.5 42.3h1M139.5 43.8h1M152.2 48.6h1M152.1 53.7h1M138.7 51.4h1M140.1 47.9h1M149.1 45.8h1M151.8 37.4h1M139.5 48.1h1M146.7 40.1h1M156.7 47.2h1M140.1 51h1M147.3 32.4h1M147.5 42.3h1M142.7 54.8h1M146.9 41.2h1M151.3 44.8h1M152.9 43.3h1M146 37.7h1M145 46.2h1M137.5 63.3h1M141.9 41.3h1M137.5 52.1h1M145.5 41.5h1M142.2 42.1h1M142.5 46.5h1M145.3 49.2h1M146.6 45.1h1M152.8 47.5h1M151 42.6h1M143.8 41.4h1M147 48.1h1M147.2 41.6h1M135.3 43.1h1M151.7 46.8h1M145.3 37.1h1M146.4 45.7h1M142.8 49h1M143.5 41.5h1M142.3 52.1h1M146.5 39.1h1M143.8 51.5h1M149.5 40.5h1M155.1 36.6h1M144.2 52.5h1M146.9 46.1h1M144.4 39.9h1M139.8 47.9h1M152 34.5h1M155.2 39.6h1M141.5 49.4h1M147.7 38.2h1M136.1 53.7h1M142 50.1h1M135.9 50.9h1M138.3 41.3h1M146.1 45.6h1M140.6 41.5h1M143.3 36.2h1M151.4 43.9h1M158.8 41h1M149.7 43.7h1M143.5 38.6h1M156.6 40.4h1M142.2 40.6h1M156.8 40.3h1M142.3 51.3h1M157.5 36.5h1M148.1 40.8h1M146.5 50.7h1M164.5 32.5h1M148.5 47.6h1M147.3 48.1h1M148.8 36.7h1M140.8 47.9h1M152.4 41.9h1M150.1 33.7h1M148 39.6h1M148.5 44.9h1M141 46.9h1M141.3 49.6h1M140.9 45.3h1M146.4 40.6h1M151.6 37h1M152.5 41.8h1M140.6 47.2h1M141.3 45.8h1M150.6 52.3h1M149 51.9h1M145.9 37.1h1M136 55.7h1M137.9 54.6h1M153.8 41.5h1M145.1 43.8h1M147.6 41.8h1M143 44.6h1M151.8 37h1M145.9 38h1M139.2 41.3h1M147.8 47.5h1M147.3 40.9h1M149.4 40.2h1M149.8 43.6h1M143.1 32.1h1M141.9 52.1h1M152.6 53.3h1M144.2 42.7h1M156.8 40.4h1M158.9 38.6h1M147.9 47.7h1M141.4 45.3h1M143.3 45.3h1M150 39.1h1M147.4 40.8h1M144.3 29.7h1M146.3 45.5h1" stroke="#000" stroke-width="1" stroke-opacity="0.3" fill="none"/><path d="M131.7 60.9h1M139.3 61.7h1M143.6 59.9h1M137.1 54.8h1M136.7 56.7h1M139.4 56.7h1M155.7 53.4h1M144.8 56.6h1M136.6 60.7h1M138 54.5h1M140.4 57.4h1M131.9 55.8h1M140.8 58.9h1M140.4 56.2h1M139.4 57.6h1M136.9 57.2h1M134.7 60.8h1M138.2 62.9h1M142.6 62.8h1M137.3 59.1h1M135.5 57.5h1M128 56.3h1M132.5 56.1h1M145 58.8h1M145.1 60.5h1M143.3 60.9h1M134.5 60.3h1M136.1 56.5h1M132.3 63h1M142.8 55.5h1M139.6 59.1h1M140.2 57h1M130.6 58.1h1M143 60.3h1M141.8 61.2h1M132.3 57.9h1M140 60.9h1M138.9 59.5h1M152.3 58.7h1M127.4 58.4h1M129.7 56h1M139.3 63h1M140.7 59.9h1M143.9 58.6h1M133 57.7h1M139.9 57.2h1M134.1 57h1M129.3 55h1M137.5 57h1M138.2 62.1h1M139.7 57.9h1M131.2 54.9h1M140.2 55.5h1M140.5 54.9h1M138.8 57.8h1M143.8 56.9h1M135.9 58.7h1M138.3 62.9h1M136.5 56.5h1M136.2 59.4h1M139.4 60h1M148.6 57.9h1M131 58.4h1M140.4 51.6h1M138.1 53.7h1M140.6 62h1M144 53.7h1M146 60.6h1M135.9 59.4h1M146.8 57h1M137.9 56.4h1M144.7 51.8h1M146.2 55.2h1M143.3 53.3h1M132.6 56.3h1M142.8 53.3h1M141.5 56.2h1M145.2 57.1h1M140.8 57.5h1M148.4 57h1M138.4 60h1M133.7 58.6h1M134.3 53.7h1M129.8 61.3h1M140.5 53.6h1M148.5 56h1M135.9 58.7h1M131.4 53.3h1M133.7 61.4h1M143.5 53.4h1M145 58.1h1M140.9 58.1h1M140.4 55.1h1M132.8 56h1M135.9 59.8h1M131 62.6h1M134.3 56.3h1M142.1 59.3h1M136 54.9h1M132.2 53.4h1M144.6 61.1h1M148.8 59.4h1M139.9 60.2h1M143.5 57.3h1M128.2 53.9h1M132.4 60.2h1M144.9 57h1M141.9 57.9h1M139.7 56.4h1M137.8 58h1M127.5 59.5h1M138 60.8h1M144.1 60.3h1M142.7 55.3h1M128.1 62.8h1M145 55.2h1M145.5 59.9h1" stroke="#000" stroke-width="1" stroke-opacity="0.35" fill="none"/></g></g><line x1="126.9" y1="46.8" x2="174.3" y2="46.8" stroke="#b0b0b0" stroke-width="1.3"/><rect x="126.9" y="21.3" width="47.4" height="42.6" fill="none" stroke="#8a8a8a" stroke-width="0.9"/><path d="M129.5 63.9v1.3M134.8 63.9v1.3M140.1 63.9v1.3M145.3 63.9v1.3M150.6 63.9v1.3M155.9 63.9v1.3M161.1 63.9v1.3M166.4 63.9v1.3M171.7 63.9v1.3" stroke="#666" stroke-width="0.7"/><path d="M126.9 24.9h-1.3M126.9 31.9h-1.3M126.9 39h-1.3M126.9 46.1h-1.3M126.9 53.2h-1.3M126.9 60.3h-1.3" stroke="#666" stroke-width="0.7"/><text x="128.8" y="29" font-family='"Liberation Serif", serif' font-size="7.8" font-weight="normal" font-style="normal" text-anchor="start" fill="#222" class="t">5</text><text x="172.4" y="29" font-family='"Liberation Serif", serif' font-size="7.8" font-weight="normal" font-style="normal" text-anchor="end" fill="#222" class="t">14</text><text x="172.4" y="62.4" font-family='"Liberation Serif", serif' font-size="7.8" font-weight="normal" font-style="normal" text-anchor="end" fill="#222" class="t">3</text>
<clipPath id="c2"><rect x="188.7" y="21.3" width="47.9" height="42.6"/></clipPath><g clip-path="url(#c2)"><g filter="url(#bl)"><path d="M206 49.5h0.8M219 37.3h0.8M213.7 50.1h0.8M232.2 42.5h0.8M206.1 62.9h0.8M191.4 56.9h0.8M221.4 45h0.8M210.1 53.3h0.8M231.4 52.3h0.8M224.6 22.8h0.8M204.3 27.1h0.8M234.3 59.3h0.8M195.6 46.3h0.8M216.3 23.3h0.8M207.5 53.1h0.8M219.4 33.3h0.8M225.2 33.7h0.8M214.8 39.2h0.8M235.6 48.9h0.8M227.3 50.1h0.8M206.9 62.3h0.8M222.7 50.7h0.8M202 28.2h0.8M216.3 56.5h0.8M226.7 36.1h0.8M195.4 43.3h0.8M230.7 28.2h0.8M224.1 28.6h0.8M203.6 23.6h0.8M203 37.6h0.8" stroke="#000" stroke-width="0.8" stroke-opacity="0.25" fill="none"/><path d="M211.1 47.5h1M202.5 51.6h1M203.3 49.7h1M199.2 52.6h1M203.5 50.9h1M197.8 52.3h1M204 49.6h1M204.2 53.5h1M193.4 53.2h1M195.6 49.4h1M200 51.7h1M200.6 48.7h1M194.8 50.9h1M200.6 49.3h1M195.3 54.7h1M197.3 51.1h1M198.4 50.1h1M200.9 50.1h1M202.9 48.2h1M195.4 55h1M200.8 51.9h1M205.8 50.5h1M200.4 48.1h1M194.6 53.6h1M203.8 50.9h1M193.3 48.6h1M196.1 49.6h1M201.1 48.8h1M207 48.2h1M198.8 52.5h1M201.8 48.9h1M204.8 53h1M195.7 51.3h1M195.7 48.4h1M203.6 51.2h1M204.9 50.4h1M192.6 52.3h1M197.7 49.3h1M196.5 52.8h1M200.3 54h1M202.1 47.1h1M204.9 51.8h1M200.5 48.6h1M207.6 46.9h1M199.8 47.6h1M195.1 48.9h1M205.7 51.6h1M198.7 48.8h1M200.7 51.3h1M194.2 50.1h1M200.6 51.8h1M201.3 51.3h1M194.8 47.7h1M201.8 48.8h1M200.2 50.1h1M202.5 48.9h1M206.7 49.4h1M203.2 51.2h1M205.2 50.4h1M193.4 51.1h1M208.6 49.7h1M203.3 50.9h1M197.9 50.1h1M198.5 53h1M202.9 53.2h1M203.5 53.2h1M202.3 48.3h1M208.1 49.6h1M205.8 49.9h1M199.5 51.2h1M195.8 49.6h1M197 50.5h1M195.2 51.6h1M202.8 53.6h1M208.4 48.9h1M204.4 49.5h1M202.4 50.2h1M198.6 51.2h1M194.8 52.6h1M199.2 49.1h1M199.5 51.8h1M198.2 52h1M203.7 52.6h1M196.3 51.4h1M203.4 52.6h1M202.1 51.6h1M194.5 50.9h1M207.6 48.7h1M209.5 47.5h1M199.1 48.2h1M203.5 50.5h1M209.2 49.1h1M199.3 48.5h1M200.8 52.2h1M204.3 52h1M204.4 49.8h1M203.4 50.3h1M195.9 54.6h1M202 48.5h1M202.5 50.7h1M205.4 52.1h1M206.8 47.7h1M193.2 52.7h1M202.3 50.9h1M196 50.8h1M201.9 51.7h1M210 49.1h1M197.5 47.2h1M205.2 49.4h1M200 49.1h1M203.2 47h1M201.3 50.7h1M202.5 52.5h1M200.4 50.8h1M203.8 47.3h1M199.6 51h1M204.5 48.4h1M204.3 50.5h1M194.1 49.5h1M194.9 52.1h1M201.9 51.6h1M204 49h1M205.6 51h1M202.9 51h1M195.6 52.3h1M196.1 49.5h1M199.4 51.1h1M200.5 50.1h1M196.7 51.8h1M197.2 48.9h1M201.7 52.9h1M198.7 49.2h1M207.2 52.2h1M199.5 50.5h1M202.7 55.3h1M201.7 52.1h1M202 47.2h1M195.8 49.5h1M202.7 50.4h1M208.2 48.6h1M202.1 50.5h1M202.2 54.3h1M202.5 52.8h1M206 48.4h1M203.5 49.4h1M201.3 50.8h1M200.7 49.8h1M207.2 48.8h1M204.3 52.8h1M203.8 51.7h1M207 51.2h1M207.5 46.7h1M209 48.9h1M193.2 51.1h1M194.9 51.8h1M194.2 50.3h1M202.1 50.6h1M197.4 50.9h1M200.4 50.8h1M200.7 50.2h1M203.9 47.2h1M198.8 51.3h1M198.9 50h1M199 51.3h1M206 49.2h1M199.8 51.4h1M199.1 47.6h1M201.8 49.7h1M198.6 52.2h1M200.8 49.6h1M191 49.7h1M200.8 50.4h1M202.7 50.6h1M198.3 48.9h1M196.1 51.3h1M196.2 52.9h1M194.6 48.8h1M199.4 47.8h1M207.3 47.5h1M200.5 50.2h1M196.7 48.4h1M193.3 53.7h1M205.9 53.3h1M194.8 52.8h1M201 52h1M198.9 52.3h1M204.8 50.8h1M206.8 49h1M207 48.1h1M206.8 44.5h1M200.6 49.3h1M201.2 52.3h1M203.9 50.1h1M207.4 46.6h1M197.9 53.8h1M201.4 46.9h1M201.8 48.3h1M207.4 51.2h1M199 53.2h1M197.6 52.9h1M203.2 49.9h1M194.7 51.4h1M191 51.7h1M193.4 54.3h1M195.9 47.4h1M203.4 50.7h1M199.4 54.6h1M204.1 50h1M197 46.3h1M203.2 51.8h1M197.8 48.8h1M200 47.9h1M201.1 51.9h1M207.2 49.7h1M201.9 51.7h1M206.6 48.8h1M195.4 50.4h1M195.2 50.2h1M200.4 51.3h1M201.5 50.6h1M199.4 51.6h1M204.8 51.1h1M207 48.8h1M200.3 53.6h1M201.8 51.1h1M199.7 52.5h1M198.8 49.3h1M200.4 49.9h1M204.2 49.2h1M201.2 50.1h1M202 49.2h1M204.9 47.2h1M198.9 49.8h1M203.5 50.1h1M202.7 49.6h1M197.4 49.4h1M199.2 50h1M202.1 50.9h1M204.9 49.5h1M197.3 49.5h1M201.2 51.1h1M209.1 49.2h1M208.9 52.1h1M196.8 53.6h1M206.1 51.8h1M201.1 52.2h1M198.8 50.9h1M201.5 53.5h1M200.2 52.4h1M200.8 49.4h1M202.1 51.5h1M198 52.3h1M197.5 49.8h1M201.6 50h1M196.1 48.8h1M201 51h1M198.9 51.3h1M194.5 52.6h1M202.6 50.7h1M198.3 51.3h1M201.7 52.3h1M202.1 50.8h1M198.1 52.7h1M205.6 48.7h1M203.6 50.5h1M200.1 48.5h1M207.5 45.9h1M201.9 49.7h1M205.5 48.9h1M201.2 51.6h1M202.5 49.3h1M203.8 50.6h1M204.8 48.9h1M200.5 50h1M197.4 51.8h1M203 52.6h1M199.6 51.5h1M205.6 49.4h1M201.1 50.8h1M197.6 49.6h1M205.5 49.9h1M200 48.6h1M201.7 52.4h1M195.7 50.1h1M206 52h1M207.1 48.3h1M203.1 48.8h1M202.9 49.5h1M202.1 52.6h1M202.1 49.9h1M201.1 51h1M198.7 51.4h1M203.9 52.6h1M191.8 50.5h1M195.9 53.1h1M211.1 48.8h1M201.7 52.4h1M190.5 52.5h1M198.5 50.3h1M202 49.3h1M205.4 49.6h1M203.3 54.5h1M199.3 52.5h1M197.8 53.4h1M204.9 50h1M205.5 52.4h1M206.6 49.4h1M201 52.5h1M194.4 50.9h1M203 51.1h1M209.2 51.9h1M202.3 51h1M195.2 51.5h1M201.8 50h1M201.3 51.5h1M196.6 50.5h1M193.8 54.1h1M195.8 48.7h1M203.9 49.6h1M204.7 49.1h1M209.9 49.9h1M201.5 50.7h1M200.2 52.1h1M209 48.1h1M196.5 52.5h1M204.7 47.2h1M197.6 49.6h1M203.3 50.9h1M197.4 49.4h1M202.9 46.6h1M203.4 49.8h1M209.1 50.5h1M198.3 50.7h1M199.4 49.7h1M201.5 52.1h1M194.5 51.6h1M207.3 50.5h1M197.1 50h1M196.7 48.7h1M205.6 49.7h1M197.4 48.9h1M199 50.1h1M207.8 48.3h1M201.7 52.3h1M203.5 49.7h1M192.3 54.8h1M203.1 49.4h1M200.1 49.1h1M196.6 49h1M203.1 51h1M201.8 51.7h1M203.1 50.3h1M197.4 52.3h1M205.9 50.6h1M205.8 48.7h1M197.2 53.5h1M198.5 51.5h1M200 50.8h1M199.5 50h1M194.1 55.3h1M201 47.3h1M196.7 49.6h1M196.9 47.1h1M203.7 52.8h1M200 52h1M202.8 48h1M205.2 46.8h1M198.3 50.5h1M206 49.7h1M200 49.4h1M201.2 50.6h1M204.3 52.2h1M203.8 50h1M200.7 53.3h1M201.6 50.4h1M208.7 51.6h1M203.1 49.9h1M198.6 52.9h1M199.3 52.6h1M197.6 51.5h1M202.5 50.5h1M201.9 51h1M195.8 49.8h1M200.8 53.7h1M200 49.2h1M198.1 51.2h1M205.5 48.6h1M203.2 50.4h1M199 49.4h1M199.9 49.6h1M202.4 47.3h1M205.7 50.8h1M203.7 52.5h1M202.7 47.3h1M201.2 51.3h1M197.6 49.4h1M202.8 51.1h1M199 50.6h1M198.5 50.1h1M200.9 52.4h1M194.1 51.5h1M207.5 49.7h1M201.7 51.8h1M196.3 49.5h1M193.5 49.7h1M202.1 51.8h1M198.9 49.9h1M202.7 51.2h1M201.2 47.3h1M197.7 47h1M201.5 49h1M198.6 53.6h1M206.4 50.2h1M202 50.6h1M198.4 51h1M208.3 47.5h1M198.1 51.4h1M204.7 51.2h1M196.8 51.2h1M199.3 48.8h1M201 49.8h1M204.7 50.5h1M197.6 51.4h1M199.1 49.9h1M199.2 52.7h1M198.5 48.2h1M197.9 52.6h1M209.2 47h1M199.2 50.4h1M195.2 52.5h1M200.7 51.1h1M209.9 48.2h1M204.3 51.3h1M198 50.2h1M207.4 50.4h1M201 48.7h1M204.6 50.7h1M210.3 51.1h1M204.2 50.3h1M200.9 49.7h1M202.1 50.7h1M203.8 51.8h1M201.9 49.5h1M204.6 52.4h1M197.5 52h1M203.2 51h1M202.8 50h1M201 53.4h1M207.4 46.8h1M190.6 53.5h1M197.9 50.4h1M194.4 52.6h1M200.4 49.8h1M205.3 53.7h1M207.2 51.2h1M199.3 52h1M201 52.5h1M203.2 50h1M202.8 49h1M204.6 52.3h1M199.5 51.8h1M194.3 53.6h1M204 48.2h1M208 49.3h1M193.3 49.9h1M204.3 49.4h1M204.8 47.1h1M200.7 52.3h1M198.3 52.3h1M199.5 51.5h1M202.9 53.9h1M196 52.9h1M205.8 47.6h1M201.9 54.3h1M204.1 44.9h1M199.2 48h1M201.8 49.2h1M198.2 49.7h1M201.8 49.6h1M197 51h1M202.2 48.9h1M204.8 47h1M202.3 49.6h1M207 48.2h1M197.6 49h1M209.1 49.9h1M196.3 51h1M197.4 53.9h1M201.8 46.9h1M202 51.9h1M201 51.4h1M200.4 51h1M201.4 49.3h1M202.3 50.6h1M200.4 49.5h1M196.7 51.9h1M203.3 46h1M199.1 53.3h1M204.3 48.7h1M206 47.8h1M198.2 54.4h1M198.9 50.6h1M193.7 50.4h1M195.9 51.4h1M193.7 53.9h1M199.1 49.9h1M198.5 52.4h1M206.9 48.6h1M208 51.8h1M206.4 49.9h1M194.9 53h1M199.2 51.3h1M193 51.8h1M201.4 48.9h1M202.6 53.1h1M201.5 49.3h1M209.8 45h1M197.2 52.1h1M197.6 47.4h1M202.2 51.7h1M198.1 53.7h1M203.3 52.1h1M194.5 51.9h1M208 52.5h1M206.2 49.5h1M201.3 49.4h1M205.1 48.5h1M200.6 47.1h1M195.2 54.8h1M201.1 50.9h1M191.8 52.5h1M208.8 46.4h1M191 52.4h1M198.5 50.7h1M195.2 49.5h1M196 52.7h1M200.9 52h1M196.6 52.5h1M199 51.1h1M204.6 49.8h1M198.8 48.2h1M201.3 51.8h1M198.2 51h1M193.1 50h1M202.9 52.4h1M198.9 48.2h1M198.7 48.4h1M200.3 54h1M202 50.1h1M204.9 49.1h1M202.2 50.6h1M202.1 47.8h1M204 51.4h1M190.5 48.2h1M197.6 53.8h1M201.1 51.7h1M203.4 51.6h1M198 50.2h1" stroke="#000" stroke-width="1" stroke-opacity="0.5" fill="none"/><path d="M202.9 52.7h1M204.1 51.7h1M197.3 55.2h1M203.7 53.9h1M195.6 52.5h1M196.6 51.1h1M201.5 52.2h1M193.3 45h1M195 53.9h1M194.5 53.7h1M197 49.1h1M208.8 54.8h1M199.3 51.4h1M205.8 46.4h1M194.6 55.7h1M205.9 48.9h1M194.9 53.4h1M190.2 51.6h1M197.2 44.5h1M204.4 52.9h1M206.5 45.9h1M190.8 50.6h1M192.2 59h1M193.2 51.7h1M201.6 52.5h1M209.3 46.5h1M206.1 50.8h1M192.1 53.3h1M191.3 57.8h1M195.5 55.2h1M208.6 48h1M193.9 52.9h1M193.3 55.3h1M200.8 49h1M195.7 54.4h1M191 58.1h1M194.5 51.8h1M194.5 57.3h1M206.3 54.2h1M204.5 50.9h1M212 51.3h1M203.3 52.6h1M205.2 51.3h1M198 46.9h1M213.4 45.1h1M213.9 52.6h1M196 52.9h1M198.8 45.6h1M197.9 52.7h1M207.4 46.4h1M202.3 51.2h1M201.1 51.7h1M196.8 47.8h1M203.3 52h1M204.6 54.4h1M190.3 46h1M193.9 53.7h1M200.3 53.6h1M221.8 46h1M198.5 49.8h1M202 52.6h1M194 56.5h1M208.1 51.3h1M199.1 50.8h1M193 51.1h1M206.4 47.5h1M196.8 54.6h1M212.4 47.1h1M207.3 48.1h1M202.9 52.4h1M192.7 55.8h1M212.4 49.4h1M201.2 47.6h1M212.4 49.4h1M191.6 55.2h1M189.6 51.1h1M214.9 46.8h1M195.2 50.5h1M196.4 53.7h1M209.5 46.7h1M202.1 45.5h1M210.5 49.3h1M196 56.8h1M200 55.6h1M208.3 55h1M194.5 52.5h1M202.4 50.4h1M210.1 47.4h1M207.6 54.2h1M193.5 50.9h1M202.6 50.4h1M200.3 49.9h1M199.7 52.9h1M204.7 48.2h1M198.8 49.3h1M198 47.4h1M206.9 52.2h1M198.8 49.5h1M196.5 50h1M190.2 58.1h1M222 43.8h1M192.3 54.5h1M203.4 46h1M196.6 52.3h1M199.7 49.8h1M198.9 50.7h1M208.5 49.6h1M199.5 49.9h1M195.2 50h1M201 56.8h1M207.8 50.7h1M212 52.4h1M201.3 50.7h1M192.6 53.5h1M197 47.1h1M192.2 58.7h1M201.7 52.6h1M201.1 49.8h1M203.7 54h1M198.1 53.3h1M206.8 48.7h1M200.8 49h1M204 49.6h1M207.5 47.7h1M211.5 48.4h1M193.7 49.8h1M204.1 48.1h1M213.1 53h1M202.8 46.6h1M199.5 49.3h1M214.9 47.1h1M206.2 54.2h1M193.2 51.6h1M202.1 52.5h1M192.2 53.4h1M199.8 54.3h1M196.4 51.1h1M204.7 48.7h1M218.5 46h1M206.3 53.4h1M206.5 49.6h1M194.1 51.7h1M204.7 50.9h1M204.3 52.4h1M193.4 49.7h1M209.7 48.2h1M190 58.8h1M193.8 49.7h1M206.1 46.9h1M194.5 55.6h1M195.7 59.8h1M202.1 59.2h1M200.9 51.4h1M195.5 51.5h1M196.5 51.9h1M204.7 46.7h1M192.6 46.3h1M210.3 49.4h1M199.9 51.2h1M207.1 51.1h1M205.8 49.9h1M199.1 51.4h1M204.7 50.7h1M206.5 55.5h1M213.6 53.2h1M199.5 57.7h1M193.9 52.2h1M206.8 49.6h1M199 50.5h1M208.1 42.5h1M209.3 53h1M199.8 53.1h1M193.9 55.9h1M220.6 45h1M209.6 49.5h1M197.4 50.4h1M198 47.9h1M191.5 58h1M200.2 53.1h1M202.4 52.4h1M204.9 53.6h1M191.8 51.1h1M193 54.6h1M202.4 51.1h1M195.7 53.2h1M199.8 49.2h1M202 49h1M206.9 52.1h1M195.6 54h1M200.1 49.2h1M192.8 47.6h1M192.4 53.8h1M208 48.1h1M201.3 52.2h1M205.6 51.8h1M208.9 52.2h1M195 53.5h1M200.4 53.1h1M198.4 54.2h1M208.7 47.3h1M196.4 52.8h1M203.5 51.2h1M205.1 46.9h1M206 53.9h1M207.9 51.3h1M198.6 52.9h1M198.7 46.8h1M195.8 52h1M196 49.3h1M198.2 50.6h1M200.5 51.2h1M201.7 54.1h1M201.2 52.4h1M190 44.2h1M197.6 53.9h1M197.3 50h1M191.9 55.5h1M196.5 52.8h1M208.1 51.6h1M215.4 48.3h1M207 52.3h1M195.5 52.3h1M195.6 49.1h1M201.7 48.7h1M211.2 47.2h1M196.3 52.3h1M196.5 52.2h1M195.1 47.9h1M210.7 50.9h1M200.8 49.8h1M199.2 52.5h1M190 50.7h1M194.5 56.2h1M193.3 56.1h1M198.2 60h1M199.5 51.6h1M209.8 52.3h1M205.9 47.1h1M208.7 55h1M199 50.1h1M193 55.7h1M202 51.1h1M192.3 57.7h1M206 50.3h1M209.7 46.8h1M205.6 47.4h1M209.6 48.9h1M208.2 48.7h1M203.3 54.3h1M193.8 52.8h1M194.7 54.9h1M195.6 51h1M199.2 55.1h1M192.8 52.6h1M197.4 50.2h1M194.5 51.9h1M200.5 46.6h1M201 47.6h1M201.3 58.1h1M193.3 52.4h1M198.8 54.6h1M195.8 46.7h1M202.3 54.2h1M196.6 54h1M193.3 56.5h1M199.2 49.5h1M202.1 56.3h1M193.5 48.8h1M192.4 49.2h1M199.8 52.5h1M199 52.2h1M208 49.1h1M190.2 46.2h1M201.3 49.1h1M198.5 52.9h1M202.4 46.2h1M193.4 52.8h1M199.6 55h1M195.5 45.9h1M207.2 45.1h1M193.5 53.7h1M194 60h1M201.9 52.7h1M198.1 58.5h1M203.3 48.6h1M207.8 44.9h1M196.1 53h1M200.5 48.4h1M211.7 53.8h1M193.8 53.6h1M195.4 50.9h1M206.9 50.6h1M199.3 51.8h1M192.6 56.4h1M195.5 56.2h1M196.6 50.6h1M210.3 50.2h1M195.3 50.6h1M205.1 56.2h1M204 49.5h1M191.9 50.8h1M199.3 52.3h1M196.1 56h1M193 50.5h1M203.7 52.2h1M197.8 54.7h1M191.1 57.9h1M216.1 54.5h1M201.8 57.1h1M201.1 55.3h1M198.7 52.2h1M202.7 45.6h1" stroke="#000" stroke-width="1" stroke-opacity="0.33" fill="none"/><path d="M213.9 46.3h1M206.5 38.3h1M218.6 40.1h1M215.4 44.9h1M218.7 28.9h1M213.3 36h1M216.8 35.9h1M214.2 46.2h1M205.8 42h1M218.4 41.5h1M216 38.3h1M216.9 39.4h1M213 41.4h1M213.4 37.3h1M215.9 32.1h1M218 38h1M212.4 37h1M210.4 44.3h1M215.9 48.1h1M213.6 41.2h1M213.7 33.3h1M215.4 40h1M219.1 37.2h1M218.6 43.4h1M213.4 36.6h1M211.6 45.9h1M213.5 42h1M219.1 37.3h1M214.2 39.4h1M214.7 31.4h1M212.7 39.1h1M215.1 46.8h1M209.8 39.5h1M211.4 43h1M218.1 39h1M220.9 37h1M215.2 32.6h1M213.8 38.2h1M217 44.6h1M215.8 34.3h1M215.3 35.7h1M214.9 35.8h1M213.3 37.3h1M214.5 36.9h1M211.5 37.9h1M217.2 41.5h1M215.3 32.1h1M212.9 31.5h1M214.3 36.1h1M209.9 40.3h1M211.8 33.8h1M213 41.7h1M222.1 37.3h1M215.5 35.9h1M215.5 37.1h1M224.7 34h1M216.3 34.1h1M217.6 35.7h1M218.7 33h1M222.4 40.2h1M209.9 40.4h1M215.5 32.1h1M217.8 35.7h1M218.8 35.7h1M218.7 39.2h1M217 39h1M215.2 36h1M216.8 41.7h1M212.8 48.7h1M222.3 33.4h1M219.4 38.3h1M217.4 34.3h1M221.9 34.9h1M216.4 34.4h1M220.9 45.2h1M212.3 35.1h1M217.5 36.1h1M215.8 32.6h1M217.7 32.8h1M216.5 50.1h1M213.6 45.8h1M217.7 35h1M215.7 33.2h1M215.8 41.5h1M219.1 37.2h1M212.4 37h1M221 40.3h1M217.6 27.9h1M214.2 40.4h1M211.9 44h1M215 33.5h1M214.3 37.2h1M219.6 35.8h1M210.5 36.7h1M216.3 45.8h1M211.2 44.6h1M217.7 40.6h1M214.4 33.3h1M212.2 42h1M215.8 43.3h1M221.6 39.1h1M214.2 47.3h1M212.3 35.1h1M215.2 36h1M217.2 34h1M220.8 32.1h1M214.9 29.4h1M211.2 40.1h1M218.1 37.4h1M218.1 41.5h1M214.2 37.5h1M215.4 47.9h1M214.3 39.6h1M216.7 44.2h1M216.4 43.4h1M212.9 36.2h1M210 36.7h1M223 40.5h1M216 39.4h1M217.6 31.7h1M214 36.8h1M217.3 34h1M216.3 34.4h1M212.5 34.1h1M212.8 41.6h1M219.7 41.5h1M215.8 35.2h1M211.6 34.6h1M219.9 44.4h1M216.9 37h1M215.6 40.1h1M215.6 40.1h1M213.6 37.8h1M214 43h1M211.1 43.6h1M216.2 35.6h1M216 38.6h1M214.9 39.9h1M215.6 29.6h1M218.2 38.3h1M220.8 40.8h1M208.7 42.9h1M213.4 40.3h1M221.9 44.5h1M212.7 37h1M210.5 40.4h1M218.6 33.4h1M216.6 42.8h1M219.1 35.3h1M214.8 32.3h1M211.7 38.8h1M215 44.3h1M217.1 36.6h1M210.3 44.7h1M216.5 38h1M213.8 32.5h1M218.8 33.7h1M217.3 41.4h1M216.2 30.1h1M216.1 45h1M214.5 31.5h1M219.2 39.3h1M213 43.6h1M214.8 40.1h1M215.4 34.2h1M217.4 34.1h1M211 34.5h1M218.9 44h1M221.9 44h1M220.8 40.1h1M214.3 40h1M212.4 41h1M214.4 39h1M213.5 36.9h1M219.2 37.5h1M213.7 39h1M218.9 37.6h1M213.7 30h1M211 42.4h1M215.3 40.3h1M219.1 40h1M217.9 35.9h1M210.5 40.2h1M215.2 40.7h1M212.8 36.8h1M222.9 35.1h1M215.2 44.4h1M215.2 38.5h1M208.8 40.6h1M213.5 43.9h1M216 36.2h1M217.5 37.2h1M213.1 45.1h1M218.9 39.1h1M217.8 42.4h1M217.7 38.6h1M215.9 40h1M217.4 40.1h1M214.4 37.4h1M218.2 33.6h1M215.3 41.7h1M216.7 36.8h1M216.3 35.8h1M219.3 36.8h1M211.9 31.4h1M216.7 39.2h1M215.6 31.6h1M216.2 34h1M214 37.7h1M213.4 39.1h1M214.1 35.5h1M214.1 44.9h1M220.1 43.4h1M213.7 37.7h1M218.1 42.4h1M211 36.9h1M213.1 41.2h1M218.4 35.9h1M222.8 37.9h1M223.7 38.6h1M214.1 47h1M214.8 35.6h1M220.6 38.7h1M218.5 32.4h1M220.7 43.7h1M216.5 41.6h1M214.8 35.6h1M210.8 39h1M219.1 42.8h1M218.2 41.9h1M214.2 31.4h1M217.8 39.2h1M219.3 37.3h1M212.9 39.7h1M215.6 30.1h1M214.8 33.6h1M213 34.9h1M217 49.6h1M221.7 37.1h1M219.6 38.4h1M217.8 35.1h1M217.1 30.2h1M222.1 35.5h1M218.3 35.6h1M217.8 32.7h1M214.1 42.2h1M219.4 29.3h1M219.7 32.4h1M216.4 40.7h1M214.3 36.2h1M214.9 39.8h1M217.7 45h1M215.3 47.6h1M211.6 45.9h1M214.5 41.5h1M215.5 38.4h1M212.8 39.4h1M222.1 39.9h1M215.9 38.1h1M218.4 37.5h1" stroke="#000" stroke-width="1" stroke-opacity="0.38" fill="none"/><path d="M207.6 45.2h1M218.6 43.7h1M198.1 45.1h1M209.6 48.2h1M213 39.3h1M221 35h1M220.6 45.6h1M218.4 38.8h1M206.6 34.3h1M193.2 48h1M215 46.5h1M209.3 49.6h1M215.3 49.3h1M193.9 46.2h1M197.6 42.7h1M215.6 33.1h1M200.3 45.4h1M211.7 38.3h1M213.6 43.9h1M196 34.9h1M197.3 41.5h1M216.1 34.1h1M200.9 50.1h1M204.7 39.3h1M217.1 44.3h1M206.8 39.2h1M195.3 37.4h1M210.8 44.5h1M200.9 47.8h1M226.1 25.7h1M197.2 53.8h1M202.7 43.3h1M210.9 41h1M215.3 42.7h1M215.3 40.1h1M196.3 59.2h1M198.5 55.9h1M204.8 36.2h1M210 48.2h1M200.2 48.3h1M199.2 42h1M206.5 52.8h1M211.6 41.2h1M206.8 45h1M209.5 43.9h1M198 55.3h1M193.8 34.6h1M208.4 35.3h1M205.8 44.2h1M204.5 49h1M204.4 43.8h1M199.7 46.4h1M200.1 48.3h1M218.9 43.9h1M206.1 35.7h1M216.7 44.6h1M214.6 24.8h1M206.2 42.3h1M211.3 34.4h1M211.1 57h1M208.1 30.3h1M211.1 50.7h1M204.5 49.4h1M203.5 36.4h1M206 52.1h1M213.4 36.4h1M212.7 36.1h1M208.6 43h1M199.4 50.6h1M196.5 32h1M199 43.1h1M198.5 42.5h1M195.3 34.6h1M213.3 40.9h1M208 41.7h1M206.7 42.5h1M195.3 40.8h1M210.4 48.8h1M213.2 51.1h1M197 48.1h1M206.3 52.6h1M217.1 34.8h1M211.3 40h1M199.9 47.4h1M204.4 55.8h1M214.4 47.6h1M202.5 30.6h1M212.7 41.3h1M191.1 53.9h1M218.8 48.5h1M202.3 52h1M208.8 41.9h1M206.6 47.8h1M212.8 45h1M200.5 39.1h1M219.7 45.3h1M203.1 46.1h1M207.5 32.1h1M217.4 54.1h1M206.8 39.4h1M221 36h1M207.2 41.1h1M203.1 34.4h1M194 41.7h1M212.9 40h1M209 29.3h1M207.1 53.6h1M196.3 37.9h1M200.9 45.2h1M210.7 50.6h1M220.5 46.5h1M209.5 39.2h1M199.4 38.6h1M219.3 45.2h1M205.1 39.2h1M213 43.8h1M204.7 37.6h1M207 40.2h1M213.8 44.1h1M208.8 40.2h1M219.6 41.9h1M218.1 43.2h1M212.6 43.4h1M194.5 39.2h1M202.4 50.7h1M213.7 41.3h1M212.9 52.8h1M199.2 36.7h1M195.5 48.5h1M213.9 44.9h1M207.9 48.9h1M204.6 40.6h1M206.6 49.3h1M210.3 34.7h1M200.6 48.5h1M218.1 29.8h1M199.7 51h1M208.7 39h1M208.2 46.5h1M195.1 50.7h1M213.7 46.2h1M214.7 39.1h1M201.1 56.3h1M210.4 37.8h1M217 45.1h1M199.3 32.8h1M201.6 42.1h1M201.1 46.9h1M200.8 50.2h1M216.4 30.7h1M212.5 37.3h1M210.3 41.2h1M213.7 35.4h1M209.8 37.3h1M208.5 43h1M209.9 31.9h1M201.8 56.2h1M214.5 50.9h1M200.6 49.1h1M216.2 50.4h1M205.4 42h1M211.6 40.7h1M204.1 50.7h1M191.2 46.4h1M214.8 36.2h1M205.9 47.1h1M216.1 42.2h1M198.8 44.9h1M213.8 39.3h1M205.2 50.8h1M221 50.4h1M197.7 44.7h1M203.3 48.5h1M207 51.4h1M191.6 59.3h1M201.9 45.1h1M211.4 42.8h1M204.5 55.4h1M209.5 39.3h1M205.2 37.7h1M197.8 47.3h1M209.8 43.1h1M197.8 40.1h1M200.2 58.5h1M207.2 38.6h1M216.6 42.1h1M202.4 42.6h1M215.6 41.2h1M219.1 39.4h1M201.3 43.3h1M203 48h1M210.5 46h1M207 37h1M202.9 40.1h1M206.5 35.6h1M200.6 42h1M202.1 45.1h1M216.5 36.8h1M196.5 48.1h1M213.6 43.8h1" stroke="#000" stroke-width="1" stroke-opacity="0.28" fill="none"/><path d="M199.4 62.7h1M204.5 57.3h1M205.1 53.1h1M197 54.5h1M199 61.7h1M195.1 61.6h1M192 61.1h1M203.8 56.7h1M198.8 57h1M199.1 56.5h1M192.3 56.2h1M198.6 54.4h1M200.7 62.1h1M196.4 57.1h1M198.6 54.9h1M197.8 57h1M197.5 61.4h1M198.8 52.7h1M196 55.2h1M190.1 56.1h1M197.5 55h1M196 59.6h1M202.6 58.6h1M197 53.1h1M202.5 61.3h1M205.4 60.4h1M199.6 58.1h1M197.9 60.6h1M196.4 63.2h1M202.5 56.1h1M198 52.4h1M193.7 56.1h1M212.3 54.7h1M203.4 57.2h1M196.3 58.8h1M209.3 57.9h1M197.6 57.5h1M201.9 55.6h1M198.7 58.5h1M196 58.1h1M199.9 59.1h1M192.3 55.5h1M195.5 60.4h1M199.5 52.2h1M190.6 62.6h1M200 53.3h1M192.7 57.4h1M206.3 61.7h1M195.9 56.1h1M209.2 54.2h1M207.1 58h1M198.6 60.7h1M200.8 54.6h1M201 60.9h1M201.6 61.4h1M202.6 57.6h1M200.5 58.1h1M194.3 56.7h1M198.7 55.7h1M189.5 52.8h1M200.9 58.5h1M198.6 53.6h1M203 55.9h1M201.1 55.7h1M206.6 60.9h1M199.5 52.1h1M195.8 56.2h1M200.7 56.6h1M200 52.3h1M194.3 61.2h1M189.5 59.7h1M211.5 58.9h1M189.9 60.6h1M195.6 60.6h1M204.9 57.5h1M208.4 59.8h1M195.2 54.2h1M212.3 55.8h1M200.4 56.7h1M195.2 52.4h1" stroke="#000" stroke-width="1" stroke-opacity="0.3" fill="none"/></g></g><line x1="188.7" y1="46.8" x2="236.6" y2="46.8" stroke="#b0b0b0" stroke-width="1.3"/><rect x="188.7" y="21.3" width="47.9" height="42.6" fill="none" stroke="#8a8a8a" stroke-width="0.9"/><path d="M191.4 63.9v1.3M196.7 63.9v1.3M202 63.9v1.3M207.3 63.9v1.3M212.6 63.9v1.3M218 63.9v1.3M223.3 63.9v1.3M228.6 63.9v1.3M233.9 63.9v1.3" stroke="#666" stroke-width="0.7"/><path d="M188.7 24.9h-1.3M188.7 31.9h-1.3M188.7 39h-1.3M188.7 46.1h-1.3M188.7 53.2h-1.3M188.7 60.3h-1.3" stroke="#666" stroke-width="0.7"/><text x="190.5" y="29" font-family='"Liberation Serif", serif' font-size="7.8" font-weight="normal" font-style="normal" text-anchor="start" fill="#222" class="t">5</text><text x="234.6" y="29" font-family='"Liberation Serif", serif' font-size="7.8" font-weight="normal" font-style="normal" text-anchor="end" fill="#222" class="t">14</text><text x="234.6" y="62.4" font-family='"Liberation Serif", serif' font-size="7.8" font-weight="normal" font-style="normal" text-anchor="end" fill="#222" class="t">3</text>
<clipPath id="c3"><rect x="126.6" y="95.5" width="47.9" height="42.8"/></clipPath><g clip-path="url(#c3)"><g filter="url(#bl)"><path d="M155.6 96.2h0.8M170.9 114.3h0.8M155.1 130.4h0.8M139.8 96.8h0.8M170.8 107.1h0.8M128.6 101.4h0.8M174.3 127.2h0.8M136.7 101.8h0.8M169.6 124h0.8M154.5 101.1h0.8M146.4 136h0.8M126.8 113.4h0.8M129.3 138.2h0.8M131.6 136.3h0.8M166.9 126.8h0.8M128.6 125.3h0.8M150.2 116.5h0.8M133.6 117.4h0.8M165 101.1h0.8M168.6 113.5h0.8M139.3 105.7h0.8M148.6 123.2h0.8M153.9 133.6h0.8M151.1 117.4h0.8M174 104.7h0.8M127.4 109.6h0.8M141.6 100.8h0.8M146.6 97h0.8M170.7 116.2h0.8M168.7 125.4h0.8" stroke="#000" stroke-width="0.8" stroke-opacity="0.25" fill="none"/><path d="M139.7 121.8h1M139.9 129.6h1M143.7 128h1M134.6 124.6h1M143.9 126.9h1M144.4 120.9h1M143.7 124.9h1M142.3 126.5h1M139.5 121.9h1M136.1 123.2h1M135.7 126.4h1M146.9 122.7h1M137.6 123.6h1M134 127.3h1M139.3 125.4h1M137.5 127.5h1M136.5 127.9h1M139 127.9h1M137.8 127.3h1M143.4 124.9h1M148.7 124.4h1M137.9 127.9h1M137.6 125h1M141.6 125.9h1M148.1 120h1M140.9 128.3h1M141 126.4h1M147.6 121.3h1M142.1 127.3h1M138.1 122.1h1M137.2 126.9h1M143.2 129.5h1M146.6 120.8h1M146.5 126.6h1M148.5 123.6h1M139.1 126.4h1M148.6 125.5h1M149.3 125.7h1M138.4 123.8h1M148.9 120.3h1M139.8 125.1h1M137.2 125.1h1M142.7 130.9h1M141 124.4h1M142.5 127.5h1M137.7 125.3h1M134.2 128.7h1M145.2 128.3h1M137.3 131.6h1M145.2 124.1h1M139.6 125.2h1M136.6 128.4h1M138.5 124.4h1M143.8 125.3h1M138.8 125.5h1M140 129h1M145.5 122.9h1M142 128.7h1M141.1 129.8h1M143.8 126.6h1M132.8 129.4h1M143.3 126.5h1M143.9 126.2h1M139.7 128h1M141.3 123.1h1M137.1 126.8h1M141.9 120.2h1M133 129.8h1M142.8 132h1M134.7 126.4h1M139.1 127.3h1M148.5 127.9h1M137.7 129.2h1M136.3 127.3h1M142.6 126.8h1M138.6 129.3h1M141.2 125.5h1M139.8 123.3h1M144.8 125.6h1M144.4 129.3h1M137.6 125.7h1M141.9 127.4h1M141.2 127.8h1M142.7 121.1h1M137.5 121.5h1M140 124.8h1M144.2 125.3h1M141.8 128.4h1M143.5 122.1h1M138.6 126.9h1M148.9 123.5h1M140.9 126.3h1M144.9 124.6h1M142.6 124.3h1M138.7 124.2h1M144.1 123.6h1M144.1 125.9h1M144.5 118.5h1M136.7 123.6h1M141.2 127.5h1M153.4 126.7h1M147.7 125.1h1M140.1 127.1h1M132.4 129.7h1M141.8 126.9h1M136.4 124h1M138.7 126h1M142.9 124.4h1M143.4 126.7h1M136.4 126.4h1M134.4 125.7h1M145.1 123h1M149.9 124.9h1M145.5 124.9h1M145.8 127.2h1M141.7 124.2h1M140 130.4h1M140.5 124.6h1M137.6 122.3h1M139.5 126.7h1M139 124.2h1M143.5 126.2h1M139.7 126.6h1M137.6 128.4h1M137 125.7h1M141.9 124.4h1M137.5 131.4h1M147.3 120.1h1M141.4 122.5h1M142.2 122.2h1M144.3 126.2h1M149.6 126.7h1M139.9 128.1h1M139.4 125.7h1M138.4 121.9h1M143.2 120.3h1M140.7 126.9h1M141.2 121.8h1M139 127.7h1M147.1 128.1h1M133.7 128.2h1M139.8 127.7h1M134 126.8h1M144.3 123.4h1M139.4 123.6h1M145.8 121.4h1M137.3 125.6h1M141.1 130.6h1M142.3 123.3h1M144.2 125.7h1M142.7 125.1h1M143 122.4h1M136 125.7h1M137 128.1h1M150.6 126.5h1M143.6 125.9h1M137.9 123.2h1M143.2 121.6h1M142.8 124.9h1M144.8 124.9h1M141.7 124.1h1M133.8 126.3h1M145.1 127.2h1M147.1 121.9h1M137.7 128h1M140.8 131.8h1M142.1 121.7h1M139.8 129.6h1M133.6 127.6h1M136.2 130.5h1M139 123.6h1M133.6 125.5h1M130 126.8h1M151.1 123.7h1M139.8 123.1h1M142.8 124.1h1M138.4 129.5h1M143 123.1h1M148 124h1M143.8 125.4h1M147 125.8h1M140.3 127.5h1M139.8 126.2h1M148.2 121.5h1M136.8 125.6h1M139.9 128.9h1M135.6 132.2h1M148.3 123h1M142.1 124.5h1M144.8 126.4h1M145.2 126.5h1M149.9 123.3h1M144.5 124.4h1M141.8 126h1M141.4 126.3h1M137.7 125.9h1M138.3 123.4h1M138.1 125h1M140.1 122.1h1M139.8 123.2h1M138 126.7h1M146.5 125.1h1M139.1 125h1M146.6 120.5h1M145.8 121h1M138.7 126.2h1M141.3 129.5h1M143.7 124.9h1M145.7 124.7h1M138.5 128.8h1M148.7 127h1M137.3 131h1M140 127.7h1M147.9 129.8h1M133.9 124.7h1M146.9 125.5h1M138.7 119.1h1M143.4 124.7h1M131.3 134.1h1M130.2 126.6h1M141.6 126h1M144.7 124.2h1M137.4 125.5h1M131.7 124.9h1M149.9 122.1h1M142.1 129.9h1M146.2 124.8h1M144.6 124.2h1M138 128.6h1M142.9 129h1M140.2 124.9h1M142.9 124.7h1M139.7 123.7h1M142.8 126h1M149.6 123.7h1M134 128.2h1M151.4 122.3h1M137.9 125.9h1M128.7 127.4h1M139.9 122.2h1M143.6 123h1M133 125.6h1M145.2 129.3h1M147.1 124.8h1M139.1 125.4h1M145.5 123.4h1M143.8 127.3h1M137.2 125h1M143.5 125.1h1M140.7 124.4h1M142.1 129.8h1M146.7 120.5h1M141.8 125.7h1M141 122.3h1M141 126h1M138.6 126.9h1M130 124.3h1M142.1 126.3h1M140.5 124.6h1M142.8 127.8h1M145.4 124.5h1M140 128.4h1M144.3 127h1M139.9 123.8h1M142 123.9h1M147 126.4h1M132.2 129.1h1M147.9 126.6h1M139 124h1M146.3 126.9h1M141.2 122.8h1M134.9 127.5h1M137.5 124.7h1M144 127.5h1M132.1 125.9h1M147.2 124.2h1M140.3 127.3h1M135.9 123.8h1M142.4 129.1h1M146 124.5h1M145.8 123.6h1M135.5 122.8h1M143.1 127.3h1M143.1 125.1h1M140.3 128.4h1M140.6 122.2h1M147.2 122.7h1M143.2 125.1h1M146.3 125.1h1M147 124.8h1M139.2 124.8h1M144 123h1M145.5 124.1h1M137 124.4h1M141.7 129.7h1M144.9 124.8h1M138.4 130.7h1M140.3 125.8h1M140.3 129h1M142.1 124.3h1M141.8 123h1M136.8 126.1h1M129.4 130.9h1M149.7 121.1h1M140.1 122h1M142.4 125.8h1M144.1 121.7h1M138.5 124.6h1M141.5 131h1M140.6 125.6h1M139.6 127.8h1M153.4 125.8h1M147.7 121.6h1M146.2 124.6h1M147.5 126.8h1M143.6 121h1M141.8 124.2h1M143.5 125.2h1M145.4 120.8h1M138.2 126h1M142.7 124.3h1M141.4 125.7h1M146.1 124.3h1M141.7 121.1h1M129.2 124.6h1M142 119.9h1M143.3 124.9h1M141.2 123.8h1M140 127.8h1M143.1 125.1h1M139.4 126.4h1M146.8 124.3h1M139.3 123.1h1M141.5 123.3h1M135.6 128.9h1M137.7 121.4h1M139.2 130.4h1M140.4 122.5h1M137 128.2h1M143.4 125.6h1M140.9 126.8h1M148.6 125.2h1M140.1 122.4h1M144.2 128.7h1M143.8 122h1M143 128.3h1M138.9 127.2h1M147.7 128.1h1M133.6 123h1M143.5 126.8h1M139.9 125.8h1M140.3 128.7h1M131.8 128.2h1M135.5 125.1h1M134.3 124.8h1M141.4 125.6h1M149.3 123.3h1M143.2 126h1M143.4 128.6h1M142.2 125.7h1M141 125.6h1M141.7 127.9h1M141.6 125.6h1M141.7 127.3h1M139.9 128.1h1M139.3 127.6h1M150.1 124.2h1M140.5 122.9h1M144.8 124.8h1M145.2 123.1h1M144.7 129.2h1M143.1 124.4h1M135.7 126.7h1M144.7 126.3h1M136 124.2h1M136.7 124.1h1M140.4 126.4h1M150.1 124.1h1M147.1 120.3h1M148.7 125.9h1M143.9 127h1M145.2 129.3h1M144.2 120.7h1M134.5 130.9h1M141.8 128.6h1M139.7 124.3h1M140.1 126.6h1M142 123.9h1M144.2 126.4h1M136.9 123.8h1M132.6 126.6h1M141.2 123.9h1M138.8 125.8h1M141.9 126.8h1M145.4 125.7h1M146 122.2h1M144.4 125.8h1M136.5 124.9h1M143.5 125.3h1M135.6 125.4h1M148.7 126h1M142.5 128.5h1M137.4 126h1M145.6 123.8h1M136.8 127.9h1M147.4 118.1h1M141.6 122.5h1M139.5 122.5h1M152.7 121.5h1M141.3 123.8h1M136.9 125.4h1M143.3 129.4h1M143.5 128.9h1M136.8 126.7h1M138.8 122.3h1M158 121.4h1M142.2 123.5h1M138.4 123.6h1M145.9 123.6h1M140.9 126.1h1M136.2 127.2h1M141 126.7h1M139.8 126h1M144.3 127.3h1M138.9 128.4h1M137 126h1M142.2 125.7h1M129.9 125.6h1M141.1 127.8h1M139.1 129.7h1M133.5 127.4h1M143.9 125h1M143.1 127.4h1M138.2 127.6h1M146.1 124h1M130.6 124.9h1M137.2 123.9h1M143 123.2h1M152.8 124.5h1M135.6 126.1h1M148.6 125.6h1M137.5 128.9h1M140.5 131.1h1M139.3 127.4h1M143.8 123.9h1M141.4 128.3h1M143.7 124.9h1M144.3 129.1h1M145.9 125.7h1M142.2 121.6h1M141.9 124.2h1M144.5 123.4h1M143 122.6h1M145.1 123h1M141.7 126.9h1M140.1 125.8h1M147.1 128.6h1M133 125.1h1M145 127h1M139.4 126.2h1M141.8 131h1M140 122.9h1M134 124h1M147.1 123.4h1M150.5 125.1h1M143.5 126.6h1M145.5 126.9h1M136.9 125.1h1M139.1 126.3h1M139.8 122.9h1M139.3 130.3h1M150.5 121.5h1M143.2 125.1h1M138.1 128h1M142 129.4h1M143.4 124.3h1M129.7 127.8h1M144.9 123h1M145.8 126.2h1M133.6 126.7h1M143.3 126.9h1M142.2 125.3h1M139.8 125.2h1M141 123h1M144.2 124.1h1M143.6 123.8h1M143.4 125.4h1M145.7 125.7h1M145.6 124.2h1M141.1 124.9h1M135.9 126.4h1M146.7 126.3h1M137.9 127h1M144.2 121.6h1M143.2 125.9h1M145 125.4h1M132.8 122.5h1M150.1 122.7h1M147.8 127.2h1M141.3 122.8h1M147.6 124.1h1M144 126.1h1M146.2 126.9h1M134.5 123.6h1M142.1 125.4h1M144.9 124.5h1M141.7 130.4h1M148.2 126.9h1M145.7 122.7h1M141.1 125.4h1M136.2 124.5h1M141.6 122.5h1M144.1 126.1h1M140.3 124.9h1M144.4 126h1M142.5 122.3h1M135.3 131.8h1M138.4 125.3h1M133 125.4h1M138.6 128h1M129.1 124.8h1M139.4 124.8h1M137.8 125.2h1M134.6 127.6h1M146.9 124.7h1M139.7 128.9h1M143.2 122.7h1M138.7 124.6h1M141.9 128.3h1M138.3 125.8h1M141.4 122.6h1M139.7 127.4h1M145.6 120.1h1M144.5 124.2h1M147.5 125.7h1M150.4 124.4h1M139.3 124h1M135.4 128.1h1M144.2 126.9h1M142.3 121.7h1M139.6 125.3h1M142.6 127.1h1M147.9 124.8h1M131.8 125.1h1M131.6 125.8h1M136.3 127.2h1M141.1 128.3h1M146.1 123.4h1M145.7 124.6h1M144.2 128.2h1M136.4 126.4h1M148 122.3h1M142.5 125.6h1M139 122.9h1M138 123.9h1M146.4 125.1h1M144 122.1h1M143.8 125.4h1M145.8 122.8h1M145.8 127.9h1M149.1 121.7h1M135.8 123.2h1M146.1 126h1M142.6 123.2h1M147.9 128h1M141.3 125.3h1M147 125.5h1M147.3 123.3h1M142.8 124.4h1M138.8 125.4h1M140.5 126.9h1M140.2 125.9h1M137.3 123.4h1M147.4 121.9h1M150 125.9h1M131 126.2h1M139.7 125.9h1M140.4 124.3h1M147 124h1M145.4 123h1M139.1 129.2h1M139.7 123.2h1M141.3 128.1h1M140.4 124h1M144.8 127.2h1M140.4 125h1M141.2 132.1h1M141.5 129.7h1M141 126.6h1M132.5 127.8h1M141.6 124.7h1M139 122.8h1M135 127.3h1M138.6 125.9h1M140.5 124.5h1M139.2 130.5h1M136.4 125.4h1M139.6 123.1h1M137.7 128.4h1M145.7 124.9h1M156.3 124.3h1M146.6 122.5h1M147.1 128.3h1M140.7 130h1M137.4 123.7h1M140.9 123.7h1M143.8 122.4h1M140.9 120.9h1M141.9 127.9h1M140.5 126.5h1M145.8 122h1M135.9 126.9h1M142.6 124.6h1M137.8 129.2h1M136.2 126h1M141.7 127.2h1M139.1 124h1M150 121.7h1M145 124.4h1M139.4 125.8h1M140.5 126.5h1M130.2 127.8h1M141.4 123.2h1M140.9 131.2h1M150 125.2h1M142.4 124.6h1M147.5 123.2h1M138.2 127.9h1M136.8 124.6h1M147.2 120.4h1M141.3 125.8h1M142 121.9h1M140.3 124.9h1M150.5 126h1M138.6 128.2h1M144.4 124.6h1M140.3 125.1h1M134.4 125.5h1M146.4 127.9h1M149.6 122.9h1M143.1 119.4h1M139.7 122.9h1M144.4 120.9h1M136.4 123.9h1M143.7 127h1M138.3 130.5h1M141.8 123.4h1M143.1 125.1h1M145.4 125.5h1M151.8 126.1h1M139.1 127.9h1M144.4 122.5h1M137.8 124.4h1M130.9 129.3h1M141.2 128.5h1M139.1 126.2h1M145.2 127h1M142.4 122.8h1M151.7 125.4h1M148.4 127.9h1M148 125.1h1M143.9 126.5h1M135.2 128.8h1M137.4 127.4h1M137.4 128.1h1M140.6 131.7h1M142.6 126.5h1M137.4 125.7h1M141.1 124.9h1M139.2 123.9h1M144.7 123.9h1M138.1 127.1h1M137.8 125.9h1M138.8 123.9h1M140.1 123.8h1M136.1 127.5h1M139.5 122.4h1M139.9 126.3h1M143.6 125.9h1M142.9 126.6h1M139 124.1h1M144.1 124h1M141.9 127h1M146.3 127.4h1M138.3 125.3h1M143.3 121.7h1M136.2 128.1h1M138.4 124h1M145.4 126h1M145.4 123.9h1M140.1 125h1M141.9 120.6h1M138.8 127.8h1M138 126.1h1M142.3 126.6h1M138.9 123.4h1M152.2 121.5h1M148.3 119.9h1M141.9 124.9h1M150.9 128.4h1M145.4 122.3h1M137.6 124.5h1M139.4 126.6h1M137.9 125.7h1M148.8 127.4h1M132.8 125.1h1M140.5 128.8h1M141 130.2h1M143.9 128.4h1M137.6 125.6h1M146.3 125.8h1M133.1 126.6h1M142.6 126.8h1M139.6 130.1h1M142.9 128.7h1M143.4 125.3h1M139.6 123.1h1M145.7 126.4h1M145.5 123.8h1M136.9 125.6h1M140.2 125.8h1M145.5 122.5h1M139.7 127.5h1M146.6 129.7h1M143.5 123.1h1M136.6 124.7h1M142 126h1M141 124.2h1M140.7 125.5h1M144.2 125.1h1M137.4 123.6h1M148.1 123.9h1M140.8 125.6h1M146.4 123.7h1M142.2 124.8h1M143.6 122.6h1M143 127.6h1M147.1 125.8h1M143.6 128.8h1M145.4 128h1M135.7 124.1h1M145 124.1h1M139.2 123.7h1M147.5 121.4h1M141.3 122.2h1M141.9 130.8h1M152.1 122.1h1M137.9 130.1h1M136.9 122.2h1M142.6 122.7h1M135.7 129.4h1M137.8 123.8h1M142.2 124.9h1M146.6 124.7h1M149.1 126.6h1M150 126.4h1M142.1 126.7h1M140.9 121.9h1M136.7 128.3h1M130.7 125.8h1M135.9 126.6h1M137.1 127h1M140.5 124.6h1M136.8 121.2h1M141.3 122.5h1M140.4 126.6h1M146.5 126.1h1M147.4 120.9h1M145.3 128.4h1M142.8 122.6h1M143.1 123.9h1M139.2 128.5h1M140.2 123.1h1M139.5 130.6h1M138.2 127.8h1M142.9 128h1M139.9 123.6h1M138.3 123.8h1M153.1 123.5h1M140.8 128.6h1M144.4 124.5h1M144.4 125.5h1M147.3 128.2h1M140.2 125.7h1M141.4 128.4h1M143.6 126.9h1M145.2 123.2h1M142.8 128.5h1M146 126.5h1M140.2 124.9h1M137.7 125.7h1M140.6 122.3h1M146.3 122.7h1M143 126.6h1M138.3 121.9h1M146 125.5h1M141 128.3h1M145 122.5h1M140.4 121.6h1M141.1 128.9h1M138.3 128.1h1M134.8 126.2h1M146.5 128.5h1M143.9 126.8h1M148 118.3h1M135 131.4h1M152.7 124.5h1M142 126h1M141.4 124.1h1M141.4 125.2h1M144.8 126.4h1M146.2 125.9h1M138 129.6h1M129.9 128.2h1M142.8 124h1M149.3 121.3h1M136.2 125.4h1M143.8 126.9h1M142.4 126.9h1M138.2 124.8h1M141.5 122.3h1M142.2 124.4h1M144.1 122.6h1M139 124.7h1M139.5 123.6h1M139.8 122.7h1M144.2 126.5h1M141.4 125.1h1M137.2 124.1h1M140.2 123.6h1M136.5 127h1M141.3 124.6h1M138 126.1h1M138.3 125.2h1M142.7 127h1M144.6 123.4h1M146.3 121.7h1M141.5 128.6h1M152 123.6h1M139.8 125h1M136.2 126.3h1M139.4 124.2h1M146.4 122.6h1M149.4 125.8h1M144.1 123.6h1M138.4 121.4h1M142.6 124.6h1M142.9 123.6h1M143 121.6h1M132.3 128.6h1M144.7 117.4h1M147 123.5h1M140.1 122.2h1M137.6 128h1M138.3 126.1h1M141.9 130.1h1M144.8 121.7h1M138.9 123.3h1M135.2 125.2h1M146.4 124.6h1M144.4 124.6h1M139.8 126.1h1M142.2 129.9h1M149.6 124.7h1M143.2 120.4h1M142.2 131h1M138.5 128.1h1M146.7 123.5h1M140.4 124.7h1M145 124.8h1M148.7 126.8h1M142.8 131.4h1M139.9 124.4h1M140.1 123.7h1M139.7 125.7h1M144.7 121.1h1M135.1 125h1M140.5 126.8h1M138.9 129.6h1M139.2 125.5h1M142.4 128.1h1M142.9 125.3h1M139.3 126.4h1M143.1 124.3h1M140.6 121.3h1M139.8 128.7h1M147.7 124h1M133.1 131.7h1M142.1 131.5h1M140.3 128.2h1M139.5 129.2h1M146.1 122h1M148.6 130.8h1M140 122.9h1M142.6 124.3h1M134.5 124.5h1M141.9 121.8h1M146.5 125.5h1M141.5 128.8h1M137.9 127.9h1M135.5 126h1M144.1 123.7h1M141.4 127.1h1M148.8 127.1h1M143.4 124.5h1M136.1 130.7h1M148.6 118.9h1M145.3 124.6h1M144.8 125.6h1M140.7 125.7h1M141.9 128.2h1M140.2 124.5h1M144.7 126.4h1M143.6 125.7h1M148.5 126.7h1M142.4 124.8h1M143.5 120.6h1M138.9 124.4h1M142.1 124.5h1M152.6 124.9h1M144.4 130.3h1M141.4 124.8h1M147.3 126.2h1M146.1 127.4h1M139.7 124.3h1M138.5 126.4h1M145.4 122.2h1M138.6 122.9h1M150.6 125.5h1M141.9 122.5h1M136.8 125h1M141.1 122.6h1M141.2 128.5h1M141.6 125.7h1M132.3 126.8h1M140.6 124h1M135.5 126.6h1M136.8 125.2h1M134.6 126.7h1M145.1 122.7h1M142.2 121.7h1M144.3 126.2h1M140.3 127.9h1M137.8 126.4h1M148.8 123.9h1M137.2 129.2h1M143.7 124.4h1M132.8 122.9h1M135.7 130.3h1M142.4 123.3h1" stroke="#000" stroke-width="1" stroke-opacity="0.55" fill="none"/><path d="M149.1 130.5h1M135.3 129.2h1M129.9 129.8h1M151.7 119.2h1M140.5 124.1h1M140 126.9h1M143 129.4h1M144.6 129.7h1M148 129.3h1M136.4 128.8h1M137.5 123.9h1M153.7 125.3h1M139.5 118.8h1M139.5 129.6h1M138.9 124.7h1M150.1 123.6h1M138.3 126.5h1M139.7 130.6h1M144.3 125.6h1M138 126.1h1M151.5 123.4h1M143.9 120h1M143.1 128.6h1M149.2 126.2h1M144.6 127h1M148.9 132.7h1M141.4 123.3h1M144.4 125.4h1M145.3 128.6h1M141.3 124.7h1M141.8 121.6h1M141.8 122.9h1M143.6 126.4h1M138.4 122.4h1M140.5 123.9h1M140.1 129.2h1M146 120.7h1M147.6 130.4h1M148.2 126.2h1M141.1 133h1M137.5 121.3h1M141.3 127.4h1M133 123.3h1M153.7 124.6h1M145.3 123.4h1M130.5 127.6h1M149 122.5h1M128.6 127.9h1M138.7 126.9h1M133.5 126.6h1M137.5 130.3h1M142.1 129.5h1M138.9 118.8h1M128 130.7h1M146.9 128.7h1M138.9 120.1h1M137.6 128.5h1M149.4 123.6h1M136.4 124.3h1M147.9 128.5h1M129.3 133h1M133.6 122.2h1M129.6 125.7h1M157.5 133.1h1M131.9 125.5h1M141.9 127.8h1M136.4 121.3h1M137.4 124.5h1M128.8 129.1h1M129.8 121.8h1M151.2 128.2h1M150.2 125.2h1M137.8 126.7h1M132 130.8h1M142.2 125.1h1M128.2 128.3h1M152.2 129.9h1M146.1 124.2h1M141.8 128.4h1M142.5 130.1h1M134.7 118.8h1M131.9 130.5h1M147.7 125.2h1M144.2 126.1h1M141.4 124.6h1M138.7 131.3h1M138.8 126.7h1M149.1 128.7h1M138.2 127.9h1M134 128.1h1M142.7 126.1h1M141.9 127.6h1M140.8 124.6h1M134.1 126.7h1M151 123.8h1M136 125.5h1M133 129.6h1M134.7 131h1M146.9 127.5h1M147.4 125h1M128.9 128.3h1M143.8 120.1h1M133.2 131.9h1M144.3 130.9h1M145 126h1M144 129.1h1M140.3 125.8h1M142.5 125h1M156 120.9h1M129.7 123.5h1M147.2 123.8h1M141.5 125.5h1M141.5 120.9h1M140.8 124.3h1M148.2 127.5h1M131.6 124.4h1M145.1 130.2h1M145.6 125h1M146.4 116.6h1M136.4 123.5h1M134.1 129.8h1M142.6 127.2h1M140.1 128.9h1M145.4 123.5h1M146.2 122h1M151.4 119.7h1M138 122.9h1M141.7 131.3h1M136.8 133.9h1M150.2 126.2h1M137.3 130.5h1M147 125.2h1M156.7 121.1h1M131.6 127.3h1M145.5 132.1h1M129 129.1h1M148.6 122.5h1M136.8 122.6h1M146.2 128.6h1M144.7 126.7h1M147.1 124.9h1M145.9 128.6h1M149.6 126.8h1M141.6 129h1M129.1 121.8h1M151.5 125.1h1M133.2 125.6h1M139.6 126.9h1M136.1 131h1M134.4 133.9h1M144 119.5h1M132.4 128.2h1M142.1 124.6h1M140.8 127.1h1M133 128.1h1M155.4 121.4h1M134.2 130.1h1M150.3 128.7h1M136.3 127h1M141.8 125.5h1M144 130h1M144.3 125.8h1M140.4 133.3h1M133.6 135.3h1M145.6 125.9h1M136.8 134.1h1M149.4 128.4h1M153.5 117.4h1M141.1 125.2h1M135.7 127.6h1M144.5 127.8h1M138.8 121.8h1M144.8 128.1h1M155.5 127.4h1M140 122.2h1M158.6 120.8h1M142.4 129h1M144.9 130.8h1M133.2 125.2h1M141 121.7h1M137.3 132.3h1M142.5 125.8h1M136.8 127.3h1M139.7 122.5h1M145.1 120.8h1M149.1 123.7h1M142 122.9h1M153.8 129.4h1M155.5 127.3h1M149.4 122.6h1M149.2 123.3h1M139.4 121.5h1M141.2 127.9h1M139.4 122.5h1M147.3 128.8h1M140.5 129.5h1M146.7 121.7h1M139.1 119.6h1M133.8 129.3h1M134.9 129h1M141.7 118.4h1M138.3 132.7h1M140.8 126.9h1M134.7 121.4h1M138.8 123.5h1M140.1 119.2h1M151.3 131.2h1M135.7 128.6h1M135 130.8h1M134.7 127h1M149.9 126.9h1M137.4 121.2h1M130.5 132.9h1M144.1 126.1h1M149.3 125.5h1M135.5 127h1M139.9 126.6h1M158.1 125.6h1M142.3 125.2h1M135.3 123.6h1M127.4 127h1M128.9 121.4h1M132.8 120.1h1M150.9 129.5h1M135.3 135.3h1M143.5 116.3h1M140.1 122.7h1M128.4 127.6h1M148.8 126.7h1M130.1 125.8h1M136.1 131.7h1M139.3 122.9h1M133 120.2h1M135.3 130.9h1M127.5 129.5h1M140.3 129.7h1M133.3 131.3h1M152.8 133.2h1M129.3 128.4h1M139.2 127.2h1M134.3 130.9h1M157.8 129.3h1M133.6 125.5h1M145.7 126.1h1M136.1 132h1M144.8 129.7h1M140.2 131.5h1M136.6 122.9h1M139.6 121.3h1M149.7 127.7h1M129 129.2h1M146.2 124.1h1M143 123.8h1M140 126.3h1M143.3 122.3h1M133 129.1h1M137.4 129.1h1M136.2 122.2h1M145.8 126.6h1M145.4 124.3h1M138.9 131.7h1M130 135.1h1M144.1 125.7h1M141.6 128.6h1M135.4 128.5h1M132.7 120.7h1M142 126.6h1M145.4 127.8h1M145.9 128.6h1M134 132.3h1M158.7 121.1h1M132.3 130.6h1M147.6 129.2h1M150.3 119.4h1M143.5 127.8h1M148.6 121.6h1M140.5 125.1h1M139.3 126.1h1M138.3 120h1M140.3 126.8h1M135.5 113.6h1M135.3 124.9h1M135.6 133.6h1M146.8 124.7h1M134.1 129.5h1M137.4 132.8h1M148.1 124.7h1M144.2 122.8h1M130.1 131.6h1M151.7 123.4h1M135.7 120.4h1M154.6 119.4h1M133.7 126.9h1M149 125.2h1M140.4 126.6h1M146.4 125.3h1M141.6 126h1M133.7 132.9h1M134.8 122.4h1M137.5 127.2h1M145.2 120h1M131.8 128.7h1M142.4 121.9h1M132.8 128.5h1M138.4 120.6h1M135.4 133.1h1M133.9 131.7h1M130.9 134h1M151.2 122.2h1M136.2 129.7h1M132.3 130.1h1M149.1 126h1M142.7 125.5h1M146.9 122.2h1M151.5 124.5h1M137.2 120.8h1M137.6 127.9h1M148.1 118.9h1M139.2 124.1h1M132.2 128h1M135.8 130.7h1M143.9 124.6h1M140.8 122.7h1M132.8 125h1M139.6 123.4h1M137 123.8h1M141.4 121.9h1M140.4 126.9h1M146.7 122.5h1M131.6 122.3h1M145.3 123.2h1M147.3 125h1M137.4 119.8h1M136.3 130.3h1M136.7 129.8h1M129.8 132.3h1M160.5 127.3h1M141.9 121.5h1M136.4 124.7h1M140.5 118.7h1M135 130.5h1M142 129.1h1M145.7 121.2h1M131.5 129.9h1M140.8 126.8h1M135.5 131.3h1M144.7 130.2h1M138.5 129.5h1M139.5 123h1M138.9 120.4h1M139.4 127.4h1M144.6 121.7h1M130.8 125.4h1M158.7 123.8h1M134.8 124.9h1M152 120h1M139.7 126.3h1M135 124.7h1M128.3 125.4h1M150.4 130.2h1M139 129.5h1M143.8 126.4h1M140.4 131.2h1M144.3 125h1M139.5 130.3h1M135.9 124.5h1M138.3 125h1M149.5 126.3h1M139.5 124.6h1M150.6 126.4h1M155.5 127.4h1M138.7 124.7h1M138.7 127.5h1M146.3 127.4h1M150.4 118.9h1M139.8 121.1h1M133 125.5h1M135.4 123.7h1M130.7 132.6h1M138.9 130.5h1M131.3 119.1h1M137 130.5h1M136.9 128.7h1M134 133h1M144.2 129.9h1M139.4 131.6h1M140.7 124.6h1M136.1 127.5h1M133.4 123.1h1M141.9 129h1M139 130h1M150.6 119.8h1M141.6 122.6h1M136.2 128h1M146.7 127.5h1M146.2 132.5h1M138.7 131h1M150.8 126.6h1M128.1 128.1h1M137.4 120.8h1M140.6 129.4h1M138.6 126.1h1M150.2 122.4h1M134 127.8h1M148.6 127.4h1M140.7 124.6h1M149.6 128.3h1M128.7 129.9h1" stroke="#000" stroke-width="1" stroke-opacity="0.35" fill="none"/><path d="M146.9 116.6h1M156.7 109.1h1M151.7 109.3h1M149.6 112.9h1M155.4 103.3h1M153 116.8h1M151.8 109.1h1M158.7 113.5h1M152.9 112h1M157.6 107.5h1M156.2 104.2h1M152.5 103.6h1M156.2 113.4h1M154.8 117.4h1M154.3 112.6h1M154.9 113.8h1M152.3 109.6h1M154.1 111.6h1M152.8 110.4h1M155 112.5h1M154.9 115.5h1M154.7 116.2h1M154.9 118.2h1M156.8 109.1h1M158.8 118h1M156.7 115.6h1M156 106.4h1M156 110.2h1M156.1 101.7h1M159.6 107.3h1M151.3 112.9h1M156.8 108.3h1M154.2 112.6h1M154.2 113.9h1M156.8 110.4h1M148 120.1h1M154.8 106.8h1M155.6 114.6h1M150.2 121.6h1M147.3 115.7h1M154 112.8h1M155.5 110.7h1M156.8 105.9h1M151.3 119.5h1M146.8 115.3h1M150.1 106.2h1M157.1 110.2h1M154.9 104.4h1M154.4 110.6h1M154.8 104.1h1M154.4 113.5h1M156.6 114.5h1M156.8 117.8h1M145.7 117.1h1M155.5 106.8h1M154.4 116.1h1M152.2 105h1M156.8 109.5h1M157.8 113.4h1M154.8 105.2h1M158 104.2h1M152.9 104.8h1M156.6 120.2h1M154.4 109.6h1M154.7 117.5h1M149.9 120.8h1M152.6 116.4h1M148.8 109.7h1M150.4 119.9h1M155.5 105.7h1M160 109.7h1M156 105.9h1M155.9 112.8h1M154.3 109.5h1M154 107.9h1M149.6 116h1M158.3 105.9h1M151.2 112.6h1M160.2 112.1h1M154 110.2h1M155.3 110.9h1M156 116.6h1M154 118.9h1M154.6 108.9h1M164 104.8h1M153.5 100h1M156.6 107h1M159.6 102.8h1M154.6 109.7h1M150.5 115.8h1M153 113.2h1M153 111.8h1M153.3 111.5h1M155.1 108.4h1M155.8 111h1M153.4 106.2h1M154 117.7h1M151.8 108.8h1M154.3 116.4h1M157.6 106.7h1M153.5 115.5h1M155.3 110.6h1M151.4 111.5h1M154.3 111.6h1M156.7 117.8h1M152.3 112h1M153.6 111.7h1M157.4 116.6h1M155.4 108.6h1M153.7 113h1M152 116.1h1M156 106.2h1M162.9 99.9h1M154 110.8h1M155.6 117.1h1M156.2 119.4h1M155.1 112.2h1M157 112h1M152 108.6h1M155.4 114.7h1M150.4 116.1h1M157 105h1M154.4 116.3h1M156.2 110.5h1M151.2 116h1M155.1 111.6h1M154.8 106.6h1M150.4 108.7h1M156.3 115.6h1M151 117.9h1M155.1 106.9h1M155.2 118.3h1M155 105.8h1M157.2 100.6h1M152.8 118.3h1M156 108.4h1M156.8 109.8h1M158 110.7h1M159.9 111.3h1M156.1 107.4h1M151 112.2h1M156.5 107.4h1M156.4 110h1M153.2 110.8h1M154.6 115h1M157 114h1M153.6 108h1M156.8 106.4h1M154.5 109.7h1M154 112.2h1M155.1 119.5h1M155.4 116.6h1M150.7 115.4h1M159.3 106.3h1M161.3 110.6h1M146.6 117.8h1M155.6 108h1M151.8 115.9h1M155.6 110h1M158.4 108.1h1M153.1 108.4h1M151.9 114.1h1M155.2 106.7h1M155.8 102.4h1M154.8 112.1h1M156.3 110.8h1M156.6 107.6h1M154.4 112.2h1M150.9 113.3h1M154.8 111.8h1M151 120.1h1M155.4 108.1h1M151.7 113.6h1M154.9 107.8h1M151.6 115.2h1M153.5 116.2h1M155.9 106.2h1M156.2 113.5h1M153.3 109.7h1M151.2 114.6h1M152.9 113.4h1M155.4 110.5h1M155.7 110.6h1M152.1 108.9h1M150.7 114.1h1M156.8 109.3h1M155.7 113h1M158 108h1M155.7 107.1h1M151.2 117.1h1M150.7 106.1h1M154.8 115.3h1M155 102h1M149.9 112h1M156.1 116.2h1M151.1 117h1M153.3 114.1h1M152.1 118.4h1M155.8 101.6h1M153.5 112.1h1M156 108.5h1M155.3 106.3h1M153.8 111.7h1M153.1 119h1M149.1 112.5h1M156.9 106.6h1M154.7 111.5h1M151.2 114.1h1M158.3 115.7h1M155.1 116.7h1M153 115.7h1M152.3 111.8h1M154.6 117.8h1M154.2 110h1M155.7 111.4h1M153.9 115.1h1M151.6 114.9h1M155.7 110.6h1M152.2 107.9h1M153.3 115.6h1M148.9 113.4h1M156.3 106.6h1M156.1 113.8h1M156.7 107.4h1M150.8 114.8h1M157.4 114h1M154.6 109.4h1M149.2 114.7h1M152.8 116.9h1M151.5 115.7h1M152.1 113.6h1M158.6 109.3h1M156.7 112.1h1M152 111.8h1M156.9 108.8h1M154.5 108.8h1M152.9 110.1h1M157.1 109.8h1M157.9 110.6h1M151.6 115.8h1M158.6 109.5h1M157.3 106.7h1M154 109.6h1M157.7 106.4h1M154.1 108.1h1M156.2 106.1h1M148 123.1h1M156.8 105h1M158 106.2h1M148 117.6h1M158.5 108.6h1M151.3 112.9h1M158.7 115.4h1M157.5 106.7h1M149.8 112.1h1M156.8 112.7h1M152.9 117.6h1M151.2 115.8h1M157.2 109.3h1M154.7 112.1h1M157 107.6h1M153.8 111.7h1M154.5 111.6h1M155.3 110.8h1M152.1 115.7h1M153.3 109.7h1M153.7 105.9h1M155.6 111.6h1M153.6 113.4h1M153.3 114.4h1M158.4 114.2h1M151.9 118.6h1M158.1 104.7h1M157.4 113.3h1M157.9 107h1M153.2 108.1h1M157.1 106.9h1M151.7 115.2h1M152.8 111.6h1M154.4 103.5h1M154.4 110.9h1M150 114.8h1M155.4 115.9h1M154.6 106.2h1M154.1 112.2h1M154.8 108.8h1M153 107.6h1M154.9 109.3h1M158.8 111.4h1M156.1 109.8h1M155.2 107.1h1M155.1 104.6h1M148 116h1M151.5 112.7h1M154.9 108.9h1M156.9 109.5h1M156 110.2h1M155.7 116.3h1M153.4 116.3h1M153.9 118.6h1M156 104.7h1M154.7 112.7h1M153.9 110.4h1M155.3 105.9h1M159.5 109.2h1M153.8 103.9h1M152.5 110.8h1M157.3 115h1M154.2 105.6h1M151.9 110.4h1M157.1 109.9h1M156 120.9h1M157.4 102.2h1M157.2 111.8h1M154.9 116.2h1M152 111.1h1M155.8 108.3h1M156.3 111.4h1M151.3 119.4h1M153 118.7h1M152.9 115.9h1M152.5 111.7h1M159.6 102.7h1M156.1 110.6h1M156.9 113h1M155.8 105.9h1M162.3 110.1h1M154.6 108.1h1M153.5 112.3h1M150.1 115.2h1M153.2 113.9h1M150.1 107.9h1M154.2 109.6h1M152.6 112.4h1M156.6 107.5h1M149 113.4h1M152.5 115.9h1M156.7 111.6h1M151.5 109h1M151.3 116.4h1M149.4 114.4h1M151.5 108h1M152 107.6h1M153 112.8h1M152.3 114.1h1M158.4 113.3h1M152 110h1M154.7 109.9h1M155.9 117.2h1M158.6 115h1M148.4 109.2h1M157 108.4h1M152 115.1h1M156.1 106.7h1M156.7 97.7h1M155.9 106.2h1M155.7 106.3h1M152.9 108.7h1M162.4 108.1h1M152.3 108.4h1M156.1 115.6h1M156.5 110.5h1M155.7 108.2h1M155 107.9h1M152.2 106.2h1M158.6 114.4h1M152.8 110.5h1M152 116.5h1M155.2 108.7h1M155.7 113.3h1M153.8 107.7h1M156.7 104.4h1M151.2 115.3h1M155.2 116.9h1M154.1 108.6h1M154.4 109.2h1M157.8 111.3h1M158.5 109.2h1M153.5 118.8h1M153.5 108.2h1M155 104.1h1M154.5 108.5h1M160.2 110.8h1M148.4 114.2h1M156.8 111.9h1M154.3 114.8h1M153.1 111.3h1M152.9 118.8h1M157.6 113.1h1M150.3 114.5h1M153 116.5h1M154.4 112.3h1M156.9 108.7h1M150.3 121h1M151.4 115h1M155.1 115.5h1M159.3 106.5h1M159.1 103.1h1M154.2 113h1M155.6 116.8h1M152.6 109.7h1M154.9 108.3h1M153.3 108.1h1M155.6 118.1h1M154.3 119.3h1M156 106.8h1M152.7 111.9h1M155.5 117.4h1M151.3 115.1h1M152.5 113.7h1M154.9 118.5h1M153 112.2h1M156 109.9h1M154 114.1h1M151.4 107.6h1M159.4 114.9h1M155.3 103.1h1M151.6 113.1h1M155.5 113.8h1M156.6 109.2h1M159.5 107.6h1M156 110.6h1M149.4 114.3h1M153 114.4h1M157.3 113h1M153.2 110.1h1M152.6 117.7h1M154.6 118.9h1M157.1 108.6h1M155.5 116.3h1M153.6 113.4h1M155.2 105.8h1M153.4 114.8h1M156.2 101.5h1M151.3 115.7h1M153.7 116.5h1M153.2 109.2h1M153 107.5h1M155.5 112.4h1M153 112.5h1M151.9 109h1M152.7 104h1M152.6 105.8h1M156.6 118.5h1M158.1 109.7h1M157.3 106.9h1M152.9 112.2h1M150.5 111.3h1M158.3 102.8h1M149 108.7h1M154 112h1M151.1 113.3h1M155.6 108.4h1M158 113.6h1M154 120.1h1M153.6 110.2h1M150.7 109.4h1M152.6 122.7h1M155.5 112.7h1M152.5 107h1M151.7 104.3h1M154.4 112.9h1M152.6 110h1M151.8 113.7h1M156.6 109.4h1M154.8 105.8h1M150.8 120.8h1M153.4 115.2h1M154.1 118.3h1M154.8 107.3h1M155.8 116.2h1M151.6 115.9h1M154.5 111.3h1M158.2 115h1M155.6 110.3h1M153.7 116.2h1M156.4 108.5h1M155.7 111.2h1M155.4 110.8h1M151.2 103h1" stroke="#000" stroke-width="1" stroke-opacity="0.45" fill="none"/><path d="M138.3 107.9h1M146.4 132.8h1M150.2 112.1h1M142.1 104.9h1M152.6 120.9h1M144.5 110h1M151.5 110.7h1M145.4 120.3h1M153.1 128.2h1M154.4 128h1M146.2 109.3h1M148.1 117.3h1M160.3 117.7h1M159.9 103.8h1M153.4 130.1h1M144.1 122.3h1M153.5 105.8h1M143.4 114.8h1M152.2 117h1M149.9 120.4h1M142.2 118.3h1M157.4 125.1h1M147.9 117.5h1M155.5 112.3h1M156 113.1h1M155 113.4h1M139.8 116.5h1M156.7 124.6h1M157.3 108.2h1M158.1 101.8h1M146.3 124.9h1M142.5 127.5h1M152.2 118.6h1M142.5 123.7h1M153 113.1h1M153.8 113.1h1M148.8 114.2h1M139.8 121.6h1M148.1 111.4h1M131.6 117.2h1M154.5 110.8h1M147.9 126.1h1M141.8 110.4h1M142.4 114.5h1M143.7 113.3h1M149.9 119h1M144 118.3h1M149.9 121.7h1M146.4 123.6h1M154.3 111.2h1M141.4 119.4h1M136.1 121.4h1M140.6 120.9h1M147.6 121.1h1M150 118.7h1M148.6 118.6h1M143.8 124.8h1M159 117.4h1M141.8 124.4h1M141.4 127.2h1M145.2 115.6h1M142.9 118.8h1M144.6 112.4h1M149.1 118.1h1M150.7 114.8h1M155.8 128.4h1M154.7 114.7h1M142.2 125.6h1M142 101.8h1M148.3 119.6h1M148.5 117.4h1M151.8 124.5h1M149.1 114.2h1M153.8 128.2h1M141.2 117.9h1M150.3 116.5h1M154.3 122.5h1M155.8 114.6h1M147.9 116.6h1M150.1 122.9h1M137.2 116.9h1M142 114.1h1M147.9 125.8h1M137.2 128.8h1M139.7 121.1h1M141.3 114.5h1M139.8 123.3h1M149.5 124h1M157.4 108.3h1M142.4 118.8h1M153.8 119.8h1M144.2 123.2h1M151.7 122.8h1M144.9 117.6h1M138.6 113.9h1M151.9 119.5h1M155.2 113.9h1M142.2 114.4h1M138.9 118.1h1M150.1 116.2h1M134.6 125.6h1M142.7 113.1h1M149.6 119.7h1M137.4 114.5h1M147 119.6h1M151.8 125.7h1M145.3 111.5h1M150.1 110.8h1M152.2 114.8h1M151.5 107.3h1M153.5 116.3h1M145.2 124.1h1M162 109.8h1M143.1 119.3h1M156.2 113.1h1M154.1 108h1M149.9 104.1h1M146 116.2h1M149.4 125h1M145.7 121.2h1M161.3 113.7h1M143.1 115.1h1M137.9 126.9h1M156.8 119h1M156.7 126.7h1M144.4 102.6h1M145.7 124.5h1M148.6 122.7h1M159.9 103.1h1M160.2 107.8h1M139.9 123.4h1M151.1 110.6h1M153.9 106.5h1M150 122.3h1M144.8 115.1h1M150.1 120.3h1M162.5 116.8h1M158.5 109.4h1M138.4 123.4h1M142.2 113.8h1M144.8 118.8h1M151.4 121.3h1M146.7 126.3h1M150.8 120.5h1M150.8 106h1M154.6 107.1h1M154 120.8h1M147.8 105.6h1M152.8 122h1M147 117.1h1M154 124.8h1M141.6 114.6h1M139.8 118.8h1M147.8 119.7h1M141.6 108.9h1M141.3 126.7h1M147.5 107.5h1M145 101.3h1M163.3 110.6h1M140.3 126.2h1M146.2 114.9h1M145.1 117.4h1M144.3 113h1M146.7 122h1M146.4 108.4h1M150.6 126.7h1M157.8 122.3h1M136.7 117.3h1M128.9 116.2h1M142.2 113.4h1M139.4 118h1M149.8 121.9h1M145.1 106.1h1M155.4 109.4h1M142.2 120.9h1M140.9 111.8h1M154.9 107.9h1M146.4 122.1h1M159.3 112.7h1M144.3 122.8h1M155.7 114.4h1M150.1 112h1M141.8 109h1M140 114.3h1M153.2 124.3h1M130.5 119.5h1M142.4 120.3h1M152 108.5h1M147.7 126.1h1M152 118.1h1M150.2 110h1M147 112.9h1M144.3 120.6h1M146.1 109h1M145.7 123.1h1M151.2 119.6h1M143.4 114.3h1M154.6 116.8h1M134.7 132.7h1M145.9 123.4h1M156.1 109.3h1M143.3 122.2h1M150.5 119.4h1M140.8 123.9h1M155.5 116.9h1M155.7 120.4h1M147.5 126.4h1M145.8 111.3h1M147.2 119.5h1M154.6 122.3h1M147.3 113.7h1M159.4 106.6h1M146.5 124.9h1M142.9 114.8h1M146 127.1h1M142.2 121.8h1M144.7 117.9h1M143.8 121.1h1M155.1 119.8h1" stroke="#000" stroke-width="1" stroke-opacity="0.25" fill="none"/><path d="M134.8 129h1M128.1 132.5h1M137.2 132.9h1M128.6 130.6h1M132.5 134.5h1M134.5 134.4h1M140.1 126.7h1M135.6 136.3h1M133.9 132.9h1M136.2 128.8h1M150.1 132.1h1M140.8 131.2h1M145.4 136h1M144.1 135.4h1M141.2 136.7h1M139.4 132.9h1M141.9 129.8h1M137.9 130.4h1M135.4 129.7h1M131.9 133.1h1M137.7 135h1M136.4 134.4h1M141.1 130.4h1M135.5 130.9h1M150.3 130.5h1M139.9 130.2h1M141.2 128.7h1M142.7 133.1h1M134.6 128.9h1M147 130.8h1M145.7 125.3h1M147.7 132.6h1M143 134.4h1M134.8 132.9h1M130.1 128.5h1M137.7 134.7h1M138 128.9h1M142.1 132.8h1M141.5 131.7h1M135.4 135.7h1M145.3 128.9h1M130.3 135.4h1M139.2 132.7h1M131.1 135.6h1M138.1 133.2h1M139.3 131h1M139.4 132.9h1M141.3 133.7h1M129.3 130.4h1M135.4 136h1M133.1 135.9h1M143.5 135.2h1M150.6 132.5h1M138.9 136.2h1M139.4 135.5h1M136.2 136.8h1M139.1 126.8h1M143.5 132h1M131.7 131.6h1M135.3 136h1M139 132.3h1M136.9 129.9h1M133.1 131.1h1M135.6 129.1h1M134.6 135.5h1M139.7 132.5h1M139.1 131.8h1M129.9 135.2h1M150.5 134.1h1M129.7 134.1h1M134.9 131.7h1M139.4 127.8h1M135.7 131.1h1M131 134.4h1M146.9 133.8h1M143.2 134.8h1M136.6 134.3h1M145 131.3h1M136.1 128.4h1M142.4 133.6h1M138.6 136.5h1M137.5 134.9h1M145.3 130.1h1M131.8 133.7h1M136.7 130.8h1M136.2 130.4h1M137.8 131.4h1M147.2 129.4h1M140.5 132.8h1M146.5 129.7h1M134.2 137.7h1M133 131.4h1M134.6 129.6h1M144.4 137.1h1M136.1 130.3h1M128.8 134.5h1M133.8 134.2h1M140.8 133.8h1M137.8 132.5h1M134.9 131.2h1M137.9 134.1h1M142.6 131.9h1M144.4 129.8h1M148.5 135.4h1M145.7 137.3h1M129.8 132.2h1M139.8 135.7h1M137.5 128.7h1M144.4 132h1M139.6 131.6h1M136.3 128.5h1M141 130.7h1M136.8 135.4h1M141.9 128.9h1M135.9 132.5h1M137.5 129.4h1M137.5 135.5h1" stroke="#000" stroke-width="1" stroke-opacity="0.3" fill="none"/></g></g><rect x="126.6" y="95.5" width="47.9" height="42.8" fill="none" stroke="#8a8a8a" stroke-width="0.9"/><path d="M129.3 138.3v1.3M134.6 138.3v1.3M139.9 138.3v1.3M145.2 138.3v1.3M150.6 138.3v1.3M155.9 138.3v1.3M161.2 138.3v1.3M166.5 138.3v1.3M171.8 138.3v1.3" stroke="#666" stroke-width="0.7"/><path d="M126.6 99.1h-1.3M126.6 106.2h-1.3M126.6 113.3h-1.3M126.6 120.5h-1.3M126.6 127.6h-1.3M126.6 134.7h-1.3" stroke="#666" stroke-width="0.7"/><text x="128.5" y="103" font-family='"Liberation Serif", serif' font-size="7.8" font-weight="normal" font-style="normal" text-anchor="start" fill="#222" class="t">5</text><text x="172.4" y="103" font-family='"Liberation Serif", serif' font-size="7.8" font-weight="normal" font-style="normal" text-anchor="end" fill="#222" class="t">22</text><text x="172.4" y="136.8" font-family='"Liberation Serif", serif' font-size="7.8" font-weight="normal" font-style="normal" text-anchor="end" fill="#222" class="t">5</text>
<clipPath id="c4"><rect x="188.7" y="95.5" width="47.9" height="42.8"/></clipPath><g clip-path="url(#c4)"><g filter="url(#bl)"><path d="M195.3 131.5h0.8M226.9 136.8h0.8M221 102.4h0.8M208.9 138.1h0.8M188.7 110.1h0.8M195.8 102.8h0.8M201.9 122h0.8M191.9 132.6h0.8M209.3 102.9h0.8M193.5 118h0.8M205.4 116.9h0.8M193.9 110.7h0.8M212.9 99.1h0.8M212.7 131.5h0.8M217 101h0.8M218.9 99h0.8M195.5 95.9h0.8M214.1 103.1h0.8M202.1 100.7h0.8M231.6 101.7h0.8M221 130h0.8M210.2 120.4h0.8M204.7 130.5h0.8M221.5 98.8h0.8M222.4 101.5h0.8M211.7 103.4h0.8M211.9 123.5h0.8M223.8 109.4h0.8M191.3 114.8h0.8M232.5 119.1h0.8" stroke="#000" stroke-width="0.8" stroke-opacity="0.25" fill="none"/><path d="M193.2 123.7h1M191.5 122.5h1M206.8 123.3h1M200.3 124.1h1M199.3 128.7h1M190.9 124.5h1M199.9 123.4h1M203.2 127.5h1M204 126.3h1M199 127.5h1M195.3 123.4h1M198.2 125h1M205.1 122.5h1M204.7 123h1M193 122.7h1M198.9 122.4h1M200.5 125.3h1M197 121.6h1M197.2 126.6h1M191.2 127.9h1M199.4 124.2h1M200.7 126.5h1M199.2 123.7h1M203.1 123.4h1M201.5 127.1h1M206.2 127.7h1M204.4 124.9h1M198.6 125.8h1M202.9 131.1h1M202.4 123.2h1M206.3 121h1M203.9 122h1M194.2 125h1M197.8 122.7h1M202.4 124.7h1M205.6 122.3h1M191.1 127.9h1M198.7 127.5h1M200.5 129.3h1M193.1 122.2h1M197.7 128.5h1M206.7 121.5h1M196.1 121.9h1M195.2 123.9h1M201.9 127.4h1M210.8 123h1M203.5 125.2h1M200.7 129.2h1M203.3 128.1h1M201.2 126.9h1M201.9 124.8h1M196.1 124.9h1M199.5 124.5h1M197.7 124.1h1M203.5 124.2h1M198.9 124.9h1M205.6 123.3h1M206 122.6h1M207 125.5h1M197.3 126.6h1M204.6 122.6h1M198.5 126.1h1M198.4 124.9h1M199.7 125.9h1M203.6 127.8h1M198.8 131.6h1M198.5 129.2h1M198.5 122.4h1M197.3 124.9h1M204 120.4h1M196.5 125.5h1M202.7 125.7h1M203.5 124.4h1M198.7 127.9h1M207.8 124.9h1M200 123.4h1M209.6 124.7h1M202 121.6h1M203.1 129.9h1M198.7 125h1M206.8 123.9h1M204.1 128.7h1M193.7 124.4h1M202.8 125.1h1M199.7 124.9h1M200.2 126h1M197.2 125.1h1M200.3 122.9h1M201 120.5h1M202.5 124.6h1M194.3 128.9h1M194.5 130.3h1M196.4 128.3h1M199.7 128.7h1M198.8 127.6h1M197.5 121.7h1M201.5 126h1M201.9 128.5h1M195.6 122.9h1M200.5 123.7h1M199 125.4h1M196 128.1h1M199.5 129.1h1M201 127.3h1M198 124.1h1M196.8 123.8h1M201.7 125.3h1M194 122.9h1M194.9 122.1h1M194.9 122.8h1M202.5 122.4h1M196.7 125.4h1M199.8 126.2h1M203.3 126.1h1M198.3 128.1h1M201.1 123.6h1M206.3 121.9h1M202.1 127.6h1M200.2 125.9h1M200.3 126.6h1M200.6 125.2h1M202.3 120.9h1M200.6 124.5h1M208.9 124.6h1M196.6 127.1h1M197.4 123.1h1M198.4 126.5h1M205.4 126.7h1M200.6 124.8h1M200.8 127.7h1M199.3 127.8h1M195.8 125.8h1M203.4 126.2h1M200.3 124.1h1M190.9 125.6h1M195.4 125h1M206.7 122.7h1M203.5 124.7h1M194.4 126.3h1M202.7 122.4h1M194 125.3h1M202.8 123.6h1M201.6 126h1M199.7 126.2h1M205.4 124.1h1M200.7 122.9h1M196.1 125.6h1M203.1 123.4h1M193.3 128.1h1M209.9 118.4h1M194.6 126.3h1M201.5 123h1M201.4 127.3h1M198.4 127h1M199.9 123.3h1M196.5 124.4h1M206.1 126.8h1M200.2 121.9h1M197.1 124.8h1M190.5 126.5h1M200.5 122.4h1M197.4 124.6h1M208.3 125.5h1M203.1 125h1M193.8 128h1M195.8 121.8h1M202.8 124.1h1M199.7 126.4h1M198.6 126.3h1M205.4 123.8h1M197.9 125.6h1M202.4 124.1h1M199.7 123.8h1M199.3 126.5h1M195.7 125.5h1M192.5 124.8h1M200 126.3h1M194.7 125.8h1M195.3 126.6h1M200.9 126h1M198.1 122.5h1M196.5 122.9h1M196.4 125.6h1M204.3 123.3h1M196 126.2h1M190.5 130.7h1M192.7 128.4h1M204.3 126.6h1M199.2 126.9h1M198.2 127.5h1M196.3 124.1h1M201.1 124.1h1M202.4 123.1h1M200.5 123.1h1M199.7 129.8h1M194.2 123.5h1M192 125.9h1M206.9 123.3h1M203.8 124.3h1M197.2 129.8h1M204 120.8h1M195.1 126.8h1M202.5 124.4h1M201.1 126.2h1M198.2 127.6h1M195.8 127.4h1M203.8 125.1h1M197.9 125.5h1M189.3 127.3h1M192.4 122.1h1M202.8 122.9h1M201.2 125.2h1M191.1 124.6h1M198.4 126.4h1M199.5 122.7h1M197.1 125.9h1M193.5 125.2h1M196.4 121.3h1M207.7 126h1M197.6 127.5h1M195.1 129.1h1M197.8 125.8h1M196.9 125.9h1M201 125.2h1M195.9 127.4h1M202.1 124.9h1M204.1 123.1h1M205.4 124.1h1M206.4 123.4h1M198.4 125.9h1M205 127.5h1M197.2 124.1h1M203.4 127.3h1M202.7 124.2h1M205.4 124.4h1M200.5 126.5h1M196.2 121h1M200.7 126.6h1M201.7 126.1h1M200.6 127.3h1M200.5 128.3h1M200 126.9h1M197.1 126.3h1M201.5 125.3h1M206.6 124.4h1M204.8 125.3h1M204.3 122.8h1M198.1 127.5h1M195.9 126.6h1M202.2 125.3h1M201.7 126.1h1M198.5 126.3h1M197 124.7h1M192.2 126.1h1M191.7 126.5h1M200.2 122.9h1M199.9 125.8h1M197.6 123.7h1M199.1 126.2h1M204.3 128.7h1M190.5 127.3h1M201.3 123.7h1M201.6 129.4h1M200.4 128h1M204.3 123.7h1M206.1 120.7h1M198.4 124h1M200.5 125.3h1M204.6 123.4h1M207.9 120.6h1M201.3 130.7h1M199.2 126.7h1M198.3 132.4h1M203.5 124h1M190.8 127h1M202.3 120.6h1M197.4 126.8h1M191.8 123.6h1M201.7 127.4h1M204.7 123.2h1M201.3 121.3h1M192.9 127.4h1M197.4 123.5h1M190.8 126h1M209.2 119.7h1M195 128.3h1M190.5 125.3h1M200.1 127.6h1M199.7 129.1h1M199.3 125.1h1M201.6 125.7h1M192.3 124.3h1M198.5 126.2h1M193.7 124.6h1M196.2 126.5h1M197.7 126.8h1M201 123.2h1M197.8 122.9h1M200.2 126.9h1M194.4 122.3h1M201.8 124.4h1M199.5 126.3h1M201.5 127h1M196.8 121.1h1M197.2 125h1M197.7 126.4h1M198.7 128.1h1M196.6 125.7h1M198.5 129.9h1M194.8 123.9h1M198 127.1h1M199.5 124.9h1M192.1 122h1M198.4 124.9h1M207.8 124.9h1M201.8 127h1M195 123.3h1M198.2 128.6h1M203.9 123.5h1M194 128h1M204.2 122.3h1M206.7 122.7h1M202.9 124.4h1M197.8 124.3h1M202.9 126.1h1M203.2 124.2h1M196.2 130.3h1M207.4 123.8h1M194.6 129.1h1M200.1 125.3h1M203.6 125.5h1M200.6 129.3h1M190.9 127.9h1M194.9 126.1h1M198.8 126h1M210.2 122.9h1M203.9 126h1M200.7 124.1h1M202.5 125.4h1M206.5 126.1h1M195.3 119.7h1M206.7 125.3h1M200.1 123.9h1M211.6 126.4h1M199.8 124.5h1M202.6 127.7h1M202.2 126.9h1M200.8 125.9h1M193.6 126.4h1M199.7 125.1h1M198.5 126.1h1M196.7 125.3h1M194.1 131h1M195 123.4h1M196.9 124.8h1M193.8 121h1M207.5 126.3h1M197.9 126.7h1M193.8 122.7h1M201.2 126.3h1M196.3 125.7h1M204.5 125h1M200.5 126.4h1M189.3 124h1M193.6 126.6h1M196 121.8h1M203.6 124.3h1M204.8 128.8h1M191.4 123.7h1M205 127.5h1M201.5 125.8h1M203 126.2h1M193.7 127.7h1M204 123.8h1M195.1 124.9h1M196.9 126.8h1M203.2 124.8h1M197.5 121.8h1M197.2 123.5h1M197 126.4h1M201.3 132.5h1M195.2 124.8h1M194 125.5h1M198.4 127.6h1M190.6 128.5h1M202.4 123.8h1M196.3 126.2h1M201.9 124.6h1M198.8 125.4h1M194.5 126.6h1M202.2 125h1M194.1 126.1h1M199.1 126h1M197.8 127.3h1M204.9 126.3h1M201 127.7h1M199.3 125h1M192.7 126.3h1M205 122.5h1M202.8 122.2h1M201.4 128.9h1M199.4 122.9h1M200.8 124.8h1M203.1 123.7h1M191.2 125.5h1M202.6 127h1M200.8 125.2h1M202.7 124.4h1M197.4 126.1h1M204.5 123.6h1M201.6 123.7h1M196.1 126.1h1M193 124.4h1M193.7 124.9h1M195.8 130.7h1M202.4 125.1h1M192.5 121.3h1M201.4 123.7h1M204.3 123.8h1M193.1 124.9h1M191.9 123.4h1M202.7 123.8h1M202.6 123.7h1M198.2 124.3h1M196.7 124.3h1M206.5 124.2h1M190.8 130.1h1M205.7 126.8h1M198.9 125.1h1M197.2 125.9h1M201.7 125h1M195.3 123.9h1M207.8 127.6h1M193.4 124.8h1M199.4 126.5h1M199 125.9h1M201.5 127.4h1M193.6 128.4h1M201.7 126.1h1M192.3 125.8h1M198.4 126.8h1M202.9 126.3h1M193.7 128.7h1M200 127.2h1M199.2 123.9h1M212 124.9h1M202.9 123.9h1M198.7 127.7h1M202.1 128.6h1M204.8 122.3h1M192.5 128.7h1M202.2 124.4h1M197.9 124.4h1M207.9 123.8h1M193.2 128.1h1M199.1 126.1h1M197.6 125.5h1M190.7 127.7h1M196.1 125h1M201.3 127.7h1M202.3 127h1M195.2 126.6h1M201.6 126.9h1M196.4 125.4h1M197.3 127.9h1M204.5 123.7h1M198.8 125.9h1M195.1 125.7h1M203.7 126.3h1M196 124.5h1M198.5 122.5h1M200.9 125.4h1M193 125.7h1M196.2 125.2h1M195.7 128.6h1M195.1 127.5h1M200.8 128.1h1M199.1 125.4h1M199.2 121.5h1M210.8 123.3h1M197.6 123.3h1M199.2 128.6h1M196 126.7h1M204.6 126.5h1M197 122.1h1M201.5 126.2h1M197.8 124.7h1M207.3 121h1M196.8 124.5h1M191.8 125h1M196 128.3h1M190.8 123.8h1M200.2 122.1h1M189.7 125.4h1M193.4 124.2h1M198.8 126.3h1M196.3 125.2h1M202.8 124.6h1M202.7 123.7h1M202.1 127.5h1M193.7 132.2h1M197.8 124.9h1M198.8 126.4h1M193.7 126.2h1M197 128.5h1M191.4 127.8h1M197.7 124.1h1M200 124.8h1M199.7 125.8h1M205 123.7h1M206.6 118.9h1M208.4 126.5h1M206.9 124.7h1M200.5 123.1h1M205.4 122.2h1M195.6 125.9h1M200.6 125.9h1M193.8 125.4h1M202.1 127.3h1M203.2 125.6h1M198 124.4h1M197 125.5h1M201.8 124h1M208.9 122h1M203.2 124.4h1M198.6 124.7h1M206.6 123.7h1M202.1 125.2h1M203.1 126h1M207 122.8h1M196 129.2h1M205.5 124.6h1M198.1 126h1M205.4 123h1M206.3 124.3h1M197.6 124.8h1M189.6 127.4h1M193 125.1h1M195.2 126.4h1M202.8 124.9h1M200.4 126h1M207.2 125.4h1M206.8 124.2h1M200.9 123.8h1M202 123.3h1M201.5 123.8h1M198.1 128h1M200.3 126.8h1M197.8 121.8h1M206.3 124h1M196.6 127.6h1M193.8 124.6h1M204.7 123.2h1M204.7 124h1M198.4 125.6h1M197.3 127.8h1M204.6 124.7h1M202.5 126h1M207 121.1h1M204.5 126.5h1M197.9 125.6h1M198.1 128h1M194.2 127.3h1M205.7 125.6h1M197 124.8h1M204.3 122.8h1M191.6 126h1M192.5 127.2h1M195.6 127.8h1M198.5 122.6h1M195.6 124.6h1M195.8 128.3h1M194.8 126.7h1M196.8 126.9h1M192.2 123.2h1M202.2 127.8h1M192.8 125.7h1M196.8 123.9h1M204 124.8h1M192.8 125.8h1M205.5 123.1h1M196.8 124.1h1M200 124.1h1M203.4 123.1h1M192.6 127.2h1M200.8 125.6h1M196.6 124.9h1M202.9 132.3h1M195.6 125.5h1M197.4 126.7h1M199.6 126.4h1M207.1 123.7h1M198.2 126.3h1M209.3 123.2h1M207.8 126.5h1M194.9 126.8h1M205.7 124.6h1M200.8 129.5h1M201.7 129.3h1M195.6 129.2h1M196.4 120.9h1M195.4 125h1M199.4 126.9h1M202.8 125.9h1M196.4 129.3h1M205.1 124.6h1M196.7 125.6h1M198.2 124.1h1M199.2 124.1h1M202.3 123.6h1M201.8 125.6h1M200.4 126.3h1M195.3 131.1h1M196.4 127.2h1M199.4 124.5h1M208 126.3h1M198.3 126.6h1M203.1 128h1M204.2 124.3h1M197.9 123.2h1M200.9 126.9h1M197.8 126.9h1M199.9 124.3h1M194 128.3h1M211.6 124.7h1M194 124h1M200.8 126.5h1M206 119.6h1M208.3 124.4h1M200.2 126h1M197.7 125h1M204 121.2h1M199.1 126.5h1M191.6 126.1h1M206.8 125.1h1M203 126.3h1M200.6 125.9h1M195.5 125.5h1M207.9 121.7h1M198.3 123h1M196.7 124.2h1M193.7 126.6h1M195.1 127h1M207.3 119.1h1M198.1 121.3h1M199 126.2h1M200.8 127.6h1M199.7 121.8h1M206.4 122.5h1M199.1 126h1M195.3 126.1h1M206.1 121h1M191.4 125.6h1M198.3 122.9h1M201 122.5h1M202.2 124.8h1M199.9 122.6h1M198.6 126.4h1M190.8 124.4h1M204.6 128.6h1M202.6 124.8h1M194.2 125.3h1M198.4 126.4h1M199 130.4h1M205.2 120.1h1M193.9 126.1h1M204.3 125.5h1M206.1 125.6h1M211.9 125.2h1M202.1 128h1M197.2 124.5h1M194.7 126.5h1M201.8 126.9h1M206.5 125.6h1M205.3 124h1M195.1 127.4h1M204.7 127.3h1M198.6 124.5h1M197.9 126.3h1M199.2 125h1M200.6 124.6h1M200.9 123.9h1M192 125.7h1M208.3 122.4h1M204.2 127.4h1M197 126.2h1M206.9 124.7h1M189.9 125.5h1M196 126h1M200.7 124.3h1M197.8 123.9h1M202.3 125.3h1M201 124.1h1M201.8 124.4h1M200.9 124.8h1M196 123.6h1M190.2 123.8h1M202.6 131.5h1M191.4 124.8h1M200.4 132.4h1M198.2 123.1h1M202.1 129.2h1M205.1 122.2h1M198.8 124.1h1M202.7 121.9h1M201 125.5h1M202.3 125.8h1M199.7 121.7h1M197.7 123.6h1M202 124.5h1M200.5 127.4h1M199.5 128.8h1M203.1 121.8h1M197.1 128.1h1M197.5 128h1M196.8 125.4h1M204 121.5h1M199.7 124.4h1M200.8 128.6h1M201.5 122.3h1M203.9 123.8h1M200.6 127.5h1M198.3 127.4h1M200.1 123.4h1M197.6 122.8h1M205.2 124.8h1M203.8 122.4h1M203.2 122.3h1M200.8 125.1h1M196.8 126.3h1M199.4 123.5h1M195.6 123.2h1M206.1 124.7h1M198 126.9h1M195.1 123.5h1M201.6 128.3h1M201 125.4h1M207.4 121h1M213.7 121h1M198.8 122.7h1M193.7 125.6h1M210.9 121.8h1M196.6 126.3h1M194.6 125.5h1M202.8 120.4h1M198 124.9h1M197 125.4h1M190.8 125.6h1M196.7 123.6h1M206.1 128.5h1M203.1 123h1M206.4 125.4h1M195.8 127.1h1M196.9 126.8h1M204.2 127h1M194.5 125.8h1M199.2 122.8h1M201.7 126.4h1M192.8 125.1h1M193.9 123.5h1M194.8 128.8h1M196.2 125h1M204.5 126.7h1M205.6 120.2h1M202.6 121.3h1M196.4 124.9h1M197.3 129.6h1M199 127.8h1M198.6 125.3h1M202.1 125.9h1M201.4 121.5h1M202 125.6h1M202.3 124.8h1M201.1 122.4h1M204.5 122.1h1M206.5 126.4h1M199.1 124.7h1M203.1 124.2h1M193.9 126.7h1M193.6 125.2h1M208.3 125.7h1M197.3 125.5h1M196.4 125.7h1M192.8 127.6h1M199.4 124.1h1M197.3 131h1M197.3 124.6h1" stroke="#000" stroke-width="1" stroke-opacity="0.55" fill="none"/><path d="M195.4 124.9h1M210.1 127h1M203.3 126.8h1M190.4 118.8h1M211.6 126.9h1M201.7 126.7h1M201.5 125.9h1M197 118.6h1M204.2 125.6h1M207.4 126h1M198.2 128.4h1M201.2 124.3h1M197 124.9h1M197.6 124.8h1M208.7 135.1h1M199.7 130h1M196.4 126h1M193.8 122.1h1M193.4 125.1h1M201 124.7h1M190.9 126h1M210.8 121.4h1M201 129.4h1M193.7 124.9h1M222.1 127.3h1M196.2 127.1h1M200.8 126.4h1M203.3 124.5h1M200.5 121.1h1M198.3 131.5h1M201.4 123.5h1M201.5 129.5h1M194.9 125.2h1M199.1 124.1h1M200.8 126.2h1M191 125.1h1M190.9 128.3h1M202.3 128h1M193.2 125.1h1M208.2 126.4h1M204.8 126.1h1M203.2 128.9h1M210.4 131.7h1M198.4 129.2h1M206.6 126.6h1M201.4 121.3h1M207.6 121.8h1M194.7 123.7h1M203.7 122.1h1M203.7 127.5h1M200.6 124.7h1M205.1 129.9h1M196.1 122.8h1M195.1 123.6h1M198.2 125.7h1M193.8 125.4h1M192.6 127.9h1M205.4 118.9h1M202.4 131h1M198.4 129.5h1M201.9 122.5h1M207.1 122.9h1M202.4 124.2h1M198.5 126.8h1M209 118.8h1M191.8 127.5h1M207.1 124.3h1M198.9 128h1M211.2 121.2h1M205 120.7h1M208.8 128.1h1M205.4 122.3h1M190.7 129.6h1M202.3 128.1h1M208.8 128.3h1M197.9 126.3h1M203.7 128.1h1M198.3 124.4h1M193.3 130.6h1M199.1 114.1h1M202.3 123.7h1M190.3 125.6h1M190.3 125.8h1M196.2 128.3h1M191.6 120.8h1M194.8 121.9h1M205.4 124.5h1M199.8 125.9h1M202.7 129.1h1M208.1 124.4h1M190.2 126.1h1M204.4 122.1h1M208.9 121.4h1M192 130h1M199.4 127.2h1M197.7 126.4h1M196.6 133.1h1M204.8 124.9h1M203.9 128.4h1M196.2 127.2h1M201.2 123.8h1M194.2 126.1h1M197.6 124.9h1M204.9 125.6h1M213.1 127.2h1M197 124h1M203.5 124.2h1M197.7 125.5h1M204.6 126h1M214.6 121.3h1M199.4 127.2h1M196.5 124.7h1M212.2 119.2h1M201.7 119.6h1M201.6 119h1M191.9 131.1h1M211.5 124.8h1M201.3 121.9h1M196.7 121.8h1M199.3 125.8h1M201.3 128.6h1M194.2 119.1h1M190.7 122.9h1M197.1 124.9h1M200.3 130.7h1M199.7 122.3h1M197.3 123.3h1M198.5 128.2h1M192 129.6h1M213.9 129.4h1M212.1 124.6h1M191 134.3h1M199.7 126.8h1M196.9 123.1h1M203.9 120.5h1M190.1 129.3h1M196.8 123.5h1M204.4 130.4h1M197.8 125.8h1M204.6 128.6h1M208 127.3h1M195.3 128.5h1M199.2 120.2h1M209.4 126.7h1M210.1 124.4h1M205.3 125h1M201.6 129h1M200.7 128h1M200.3 130.2h1M204 119.6h1M212.5 125.8h1M195.9 124.4h1M214.7 124.2h1M204.1 127.5h1M196.4 132.6h1M215.2 121.1h1M207.6 119.2h1M197.5 126.6h1M200.7 127.9h1M203.2 126.9h1M199.1 127.2h1M196.8 133.3h1M201.1 130.2h1M200.7 125.4h1M198 121.8h1M215.5 125.3h1M200.7 124.3h1M209.3 123.5h1M196.3 124.6h1M211.5 125.5h1M198.6 124h1M209.6 125.7h1M198 129.4h1M206 121.7h1M209 128.5h1M197.6 121.7h1M207.9 123.7h1M198.4 125.2h1M198.4 129.1h1M192.2 129h1M209.1 128.4h1M205.5 126.2h1M198.5 125.8h1M194.4 132.6h1M198.7 122.7h1M206.9 130.3h1M201.9 124.6h1M192.2 129.3h1M197.9 124h1M203.8 121h1M204.3 117h1M194.8 121.8h1M198.6 129h1M191.2 132h1M194.8 125.1h1M207 122.5h1M210.6 123.8h1M198.9 122.8h1M208.4 124.6h1M196.1 123.3h1M195.4 126.3h1M195.2 129.4h1M199.5 123.9h1M204.1 130.4h1M208 125.4h1M205.4 119.9h1M195.1 130.2h1M199.4 126.3h1M204.8 126.6h1M203.1 123.9h1M198.5 130.7h1M195.8 121.6h1M198 129.4h1M213.2 124.7h1M195.9 128.7h1M202.9 129.7h1M204.2 128h1M204 126.9h1M193.4 126.4h1M212.4 128.9h1M207.3 126.3h1M199.5 127.3h1M198.2 130h1M197.5 123.7h1M194.2 123.9h1M203.9 131.6h1M204.8 124.2h1M203.9 122.6h1M198.3 126.3h1M200.6 128.6h1M205 131.8h1M206.1 124.2h1M201.6 122.9h1M195.6 125.5h1M207.2 122.6h1M191.4 126.6h1M197.4 122.4h1M194.3 125.4h1M203.3 127.6h1M209.6 123.8h1M204.8 125.6h1M192 125h1M215.9 123.2h1M212.5 127.1h1M212.1 123.7h1M206.8 124h1M191.7 123.2h1M202.6 120.1h1M202.5 122.7h1M202.2 121h1M206.3 124.3h1M199.9 120.4h1M202.9 127.3h1M196.2 131.3h1M210.8 125.6h1M203.8 127.1h1M199 130.7h1M195.2 118h1M200.6 127.4h1M205.7 121.4h1M209.9 121.8h1M205.2 127.8h1M202.1 129.6h1M197.7 133.4h1M203.6 124.1h1M219 123.3h1M189.3 132.4h1M211.1 122.5h1M193.7 130.8h1M200.3 122.7h1M196.9 126.7h1M208.1 130.2h1M196.6 131.8h1M189.8 129.9h1M199.5 127.6h1M196.8 124h1M202.9 129.5h1M196.9 122.8h1M190.9 129.1h1M204.6 127.6h1M195.7 125.1h1M212.8 122.9h1M201.7 129.2h1M212.5 125.5h1M203.7 132.1h1M196.6 120.3h1M194.8 125.7h1M209.9 125.7h1M209 125.1h1M200.3 124h1M191.7 128.9h1M203.2 127.5h1M196.3 125.1h1M203.3 127.6h1M214.2 121h1M207.8 128h1M198.5 126.7h1M200.6 131.2h1M218.7 124.5h1M198.9 129.4h1M203.8 124.8h1M206.1 128.1h1M197.9 129.2h1M198.2 126.8h1M190.6 132.4h1M197.7 126.9h1M200.4 128.6h1M196.5 129.1h1M193.7 121.8h1M204.1 126h1M205.7 118.5h1M200.8 123.7h1M198.8 124.8h1M197.3 124.1h1M206.8 119.1h1M214.4 121.4h1M193.3 122.9h1M193.6 131.2h1M205.6 128.3h1M202.9 126.4h1M195.7 123.3h1M206 133.7h1M198.3 130.6h1M195.3 126.8h1M212.5 124h1M204.6 123.4h1M213.2 119.9h1M204.2 124.6h1M201.9 127h1M210.2 127.6h1M208.1 126.1h1M193.3 131.6h1M211.6 126h1M205.9 124.4h1M190.4 130.7h1M196 133.2h1M205.3 125.2h1M196 126.9h1M192.9 125.7h1M211.6 123.3h1M213.5 123.8h1M202.9 122.4h1M197.9 124.8h1M191.2 133.9h1M204.5 125.1h1M192.5 127.2h1M192.3 123.7h1M200 133.5h1M195 116.7h1M190.1 126.9h1M200.4 123.3h1M213.3 126h1M195 121h1M201.2 123.5h1M207.1 121.4h1M208.7 123.2h1M201.6 124.9h1" stroke="#000" stroke-width="1" stroke-opacity="0.35" fill="none"/><path d="M216.2 116.3h1M214.1 106h1M220.5 116.1h1M220.5 116.1h1M214.2 118.3h1M213.3 108.1h1M213.3 113.5h1M212.5 109.2h1M212.6 108.9h1M217.8 116.4h1M212.3 122.4h1M212.5 112.3h1M215.4 99.9h1M210.2 115.7h1M207.3 123.3h1M214.5 111.7h1M219.2 111.4h1M213.6 107.3h1M211.6 112.6h1M213.2 112.7h1M210.6 107.6h1M221.5 113.4h1M213.8 116h1M214.7 117.9h1M210.7 113.5h1M211.1 113.1h1M221.8 119.1h1M212 112h1M217.2 107.4h1M216.8 105.7h1M217.5 115.4h1M214 113.7h1M223 111.1h1M208.7 111h1M214.3 106.6h1M217.2 115.8h1M215.7 118.6h1M213.4 108.2h1M218.7 98h1M205.9 110.6h1M214.4 110.7h1M211.8 111h1M219.1 108.2h1M217.1 110.1h1M214.5 111h1M219.6 113.8h1M217.2 111.6h1M207.3 113.7h1M214.9 111h1M214.7 103h1M218.4 120h1M221.7 102.8h1M217.9 105.3h1M214.9 108h1M213.7 106.5h1M212.9 113.9h1M219.6 115.8h1M215.2 109.8h1M214.3 110.3h1M213.2 109.3h1M218 110h1M212.5 109.5h1M215.4 110.2h1M213.6 113.7h1M215.8 105.7h1M217.5 107.5h1M216.9 114.8h1M216.4 112.3h1M210.8 108.8h1M214.9 113.6h1M211.5 109.1h1M209.9 110.5h1M215.2 111.1h1M219.9 114.9h1M214.9 107.7h1M213 114h1M218.5 108.7h1M215 108.4h1M217.2 111.8h1M213.4 105.9h1M220.5 104.7h1M222.2 109.2h1M217.4 113.7h1M216.9 116.4h1M213.5 110.2h1M217.8 113.7h1M213.2 106.5h1M210.1 110.9h1M214.6 102.9h1M213 111.7h1M215.8 109.6h1M215.1 113.7h1M211.8 106h1M217.6 114.5h1M211.1 106.3h1M219.2 114.9h1M213.7 115.2h1M218.4 118h1M211.6 103.6h1M213.4 110h1M213.7 111.5h1M219 116.6h1M218.3 111.1h1M220.1 113.6h1M215.9 110.6h1M207.2 119.6h1M214.2 114.7h1M222.7 110.9h1M210.4 114.6h1M216.6 106.2h1M218.2 111.1h1M214 98.1h1M211.5 111.7h1M210.8 114.5h1M222.1 113.3h1M215.9 110.3h1M217.9 111.2h1M217.3 117.8h1M218.7 106.5h1M217.5 109.7h1M215.3 115.3h1M212.7 111.1h1M220.6 107.5h1M213.8 113.8h1M213.4 115.2h1M213 102.9h1M216.4 110.1h1M215.3 115.2h1M218.8 109.5h1M215.4 101.2h1M211.6 111.1h1M217 103.7h1M217.7 110.8h1M219 109.5h1M219.2 105.9h1M209.6 105.7h1M217 112.9h1M208.7 110.1h1M215.9 118.8h1M217.2 113.4h1M209.5 111.4h1M208.8 108h1M214.6 105.8h1M211.8 109.3h1M217.5 107.8h1M215.5 114h1M213.4 119.5h1M214.6 106.9h1M207.9 114.4h1M217.5 110.1h1M216.2 110.1h1M218 111h1M215.9 110.3h1M214 99.6h1M217.9 105h1M215.8 113.7h1M221.9 108.1h1M214.8 115h1M213.3 107.4h1M214.8 120.4h1M217.8 115.6h1M211.3 113h1M219.9 105.3h1M215.2 109.6h1M218.6 102.8h1M217.4 110.9h1M215.9 100.5h1M208.6 106.8h1M216.9 112.9h1M218.9 103h1M214.6 116.9h1M209.4 112.7h1M212.2 112.7h1M216.7 103h1M210.5 115.8h1M213.7 116.2h1M215.4 114.9h1M213.6 111.3h1M213.1 114.5h1M212.2 115.4h1M221.3 105.8h1M214 112.9h1M220 116.9h1M216.8 102.5h1M218.3 108.3h1M215.4 112.5h1M209.5 114.7h1M217.6 113.7h1M216.7 112.5h1M210.8 107.3h1M218 109.5h1M214.8 112.3h1M215.1 111.8h1M216.7 110.8h1M211.6 108.6h1M218.8 107.9h1M216.4 112.2h1M214.4 96.9h1M215.6 106.9h1M212.2 114.5h1M212.2 111.7h1M215.3 111.5h1M223.3 102.5h1M218.4 110.4h1M214.7 107.3h1M215.1 110.8h1M210.7 117.6h1M212.7 109.5h1M210.7 110.5h1M215.3 115.8h1M218.7 108.8h1M220.4 111h1M218.8 119.4h1M214.6 105.3h1M215.7 117.5h1M215.5 115.8h1M216.3 115h1M219.7 109.9h1M210.5 109.1h1M213.4 104.5h1M213.9 113.7h1M210.2 102.4h1M218.4 106.9h1M212.6 116.6h1M218.5 112.8h1M219 98.2h1M216.6 112.6h1M210.3 110.6h1M216.6 110.2h1M216.9 115.1h1M215.4 109.4h1M210.2 115.1h1M212.9 111.7h1M219.5 115h1M210.9 109.4h1M214 102.5h1M211.9 112.8h1M216.3 109.8h1M216.6 105.2h1M212.6 109.3h1M217.9 109.5h1M214.2 112h1M220.9 105.5h1M216.6 111.7h1M214.6 111.6h1M208.5 109.5h1M215.3 104.7h1M217.9 110.4h1M213.3 113.8h1M212.6 106.7h1M217 115h1M222.1 109.6h1M211.5 102.8h1M211 110.3h1M214.8 107.3h1M212.3 106.7h1M212.9 115.8h1M216 117.2h1M217.1 114.5h1M218.5 113.3h1M219.2 116.7h1M220.9 112.6h1M210.4 121.7h1M213.7 112.8h1M214.4 107.1h1M217.4 105.6h1M213.4 117h1M214.8 114.4h1M216.8 112.7h1M214.9 113.4h1M211.4 112.7h1M212.1 106.4h1M214.2 104h1M208.2 111.1h1M216.2 113.9h1M222.2 112.6h1M218.1 107.5h1M218.3 105.6h1M222.3 107.2h1M213.1 113.7h1M206.7 115.4h1M211.7 110.9h1M218.1 111.8h1M218.5 108.7h1M218.8 100.8h1M220.6 108.3h1M212.2 110.1h1M221.2 108.2h1M215.2 108.8h1M213 103.9h1M216.4 114.1h1M212.4 111.1h1M216.2 112.5h1M214.4 110.6h1M216.8 105.7h1M213.9 114.1h1M212.1 116.3h1M215.1 105.3h1M215.2 104.1h1" stroke="#000" stroke-width="1" stroke-opacity="0.35" fill="none"/><path d="M206.7 105.8h1M206.5 114.8h1M206.2 119.2h1M207.4 112.1h1M211.4 110.6h1M217 119h1M212.2 119h1M199.5 124h1M196.3 121h1M204.2 100.1h1M199.5 115.3h1M200.7 119.8h1M208.1 107.8h1M197.5 109.4h1M196.3 108.5h1M198.1 124.2h1M210.7 108.6h1M207.2 110.8h1M219.3 120.3h1M201.3 116.2h1M222.1 117.5h1M208.7 119.2h1M195.3 120.8h1M204.6 116.4h1M204.6 107.2h1M205.9 130.6h1M195.3 123.1h1M213.4 115.5h1M202.9 107.9h1M199.4 110.2h1M221.4 110h1M212.6 114.1h1M207.7 123.3h1M214.8 115.6h1M213.1 117.3h1M206.3 119.2h1M206.9 114.5h1M217.5 123.9h1M197.2 131h1M207.4 123.6h1M199.5 119.1h1M213.8 111.6h1M206 108.7h1M203.9 128.7h1M207.8 115h1M194.6 116.4h1M199.8 119.8h1M204.5 113.5h1M202.7 119.2h1M211 104.5h1M200.5 127.1h1M196.1 119.6h1M213 124.4h1M209.5 121.6h1M205.7 111.5h1M202.5 105.2h1M216.8 120h1M207.9 120.8h1M204 127.4h1M200.3 114.6h1M196.8 110.4h1M217.3 123.2h1M196.7 120.7h1M208.5 111.5h1M197.3 123.8h1M214.2 112.6h1M198.8 118.7h1M193.6 123.3h1M218.5 116.6h1M207.6 118.5h1M203.8 118.7h1M203.4 119.2h1M204 119h1M211.7 113.2h1M199.6 123.6h1M203.9 114.5h1M208.5 109.7h1M215 115.1h1M200.3 115.3h1M203.6 112h1M207.1 101.2h1M207 113.7h1M201.3 123.4h1M205 120.1h1M203.2 116.3h1M213.3 118.6h1M213.8 112h1M216.2 108.5h1M192.4 112.2h1M194.7 117.5h1M195.8 124.6h1M207.1 115.7h1M208.3 114.5h1M204.4 115.4h1M204.1 110.3h1M220.1 118.5h1M213.7 127h1M203 124.2h1M197.7 125.3h1M204.8 123.9h1M210.5 120.2h1M212.6 116.2h1M209.7 124.9h1M210.8 117h1M216.1 109.1h1M222 114.5h1M203.4 108.6h1M214.4 109.7h1M208 116.2h1M215.3 115.4h1M192.7 119.9h1M209.9 115.5h1M214 115.7h1M216.1 106h1M217 112.7h1M211 118.2h1M206.8 120.8h1M207.7 120.4h1M205.2 124.7h1M194.8 118.8h1M207.4 117.4h1M200.5 117.2h1M211.7 120.1h1M214.5 108.6h1M205.7 114.7h1M195.4 119.8h1M210.9 104.9h1M229.3 109.6h1M219.3 110.1h1M192.6 127.2h1M216.2 106.9h1M217.8 114.7h1M214.5 116.6h1M212.9 116.9h1M216.4 113.4h1M212.6 115.6h1M205.5 111.2h1M191.9 118.1h1M194.4 113.6h1M210.8 111.7h1M224.6 126.4h1M211 110.7h1M209.1 113.5h1M214.9 125.1h1M221.6 116h1M214.1 123.6h1M215.2 117.1h1M197.4 117.6h1M207.6 114.3h1M197.8 108.2h1M201.7 118.4h1M206.1 109.5h1M211.3 125.4h1M202.6 105.7h1M205.8 116.7h1M216.2 112h1M217.4 112.2h1M218.9 118h1M218.1 110.9h1M222.6 132.8h1M199.3 121.8h1M208.3 110.6h1M212.3 111.9h1M213 113.8h1M203.7 124.8h1M223.4 112.7h1M204.1 106.4h1M209.2 114.6h1M196.2 109.6h1M212.9 119h1M218.4 124.4h1M195.2 125.2h1M210.9 123.1h1M204.1 111.3h1M207.9 118.4h1M199.8 115h1M211.4 119.3h1M206.9 119.3h1M202.7 116.3h1M211.2 120h1M217.5 109.1h1M215.8 123.9h1M211.7 110.9h1M205.8 107.3h1M190.7 120.4h1M198.4 112.2h1M212.8 109.7h1M207.9 116h1M202.4 111h1M214.6 98.6h1M208.9 119.5h1M205.4 116.3h1M209.9 115.9h1M207.9 122.6h1M214.8 121.4h1M202.1 105.8h1M194.4 119.9h1M205.5 106.1h1M206.9 124.3h1M207.4 111.2h1M206.7 117h1M203.4 116.1h1M203.4 119.6h1M222 117h1M205.3 132.3h1M202.3 109.5h1M197.5 122.5h1M206.9 111.9h1M201.1 118h1M210.8 118.3h1M204.1 102h1M203.9 119.6h1M211.9 118.5h1M201.5 129.5h1M198.5 119.6h1M202.6 115.4h1M204.2 123h1M213.5 114.6h1" stroke="#000" stroke-width="1" stroke-opacity="0.25" fill="none"/><path d="M189.7 130.2h1M196.8 133.2h1M193.9 131.3h1M212.4 132.2h1M195.4 125h1M192.7 136.7h1M202 128.6h1M201.7 132.5h1M192.5 134.3h1M193.5 131.2h1M197.2 132.6h1M194.6 132.9h1M197.1 132.6h1M199.4 130.2h1M204.3 133h1M198.4 129.9h1M190.4 128.5h1M191.8 131h1M197 127h1M193.9 132.7h1M199.3 134.2h1M195.1 131.6h1M195.7 133.6h1M193.1 131.6h1M198 131h1M190.8 135.9h1M200 129.4h1M208.5 129.8h1M192 131h1M200.2 136.3h1M205.1 133.6h1M197.5 133.9h1M192.5 130h1M200.2 132.6h1M198.5 129.1h1M198.5 127.9h1M202.5 132.1h1M193.4 130.7h1M193 135.9h1M197.2 132.8h1M191.5 128.3h1M198.5 130.8h1M200 135h1M196.4 133.6h1M198.1 132.7h1M194.1 132.7h1M199.6 132.2h1M194.5 127.9h1M190.9 136.5h1M203 132.9h1M198.8 131.6h1M201.1 134.8h1M195.7 132.9h1M202.7 127.5h1M191.7 130.4h1M190.4 130.8h1M192.2 130.9h1M199.9 128.7h1M197.7 136h1M198.2 128.5h1M193.6 135.4h1M195.6 130.2h1M201.7 130h1M190.7 133.8h1M197.2 130.2h1M199.8 135.2h1M203.4 132.3h1M199.8 133.4h1M193.3 130.4h1M192.4 129.3h1M203.5 132h1M193.8 126.8h1M198.1 131.9h1M191.2 131.7h1M190.1 133.4h1M197.7 126h1M190.6 130.2h1M201.7 133.7h1M200.8 136.8h1M195.5 130.6h1M200.4 129.6h1M192.1 134.7h1M204.6 126.9h1M199.8 132h1M202.4 131.1h1M196.4 136.1h1M193.7 133.2h1M200.8 131.7h1M202.2 133.5h1M201.9 127.2h1M191.1 132.9h1M203.9 136.1h1M197.2 129.9h1M190.8 126.5h1M194.2 133.7h1M196.7 127.8h1M196.6 132.2h1M192.8 136.2h1M199.6 135.2h1M197.7 129.2h1M203.4 135.2h1M193.8 128.2h1M201.8 130.4h1M190.4 131.8h1M200.3 129.9h1M197.3 134.9h1M201.4 127.6h1M201.3 137.1h1M202.4 131.8h1M199.3 127.5h1M193.8 130.5h1M209.1 132h1M191.5 136.9h1M204.2 127.3h1M196 127.2h1M203.1 125.5h1M207.8 129h1M200.2 133h1M202.1 129.2h1M202.2 131.2h1" stroke="#000" stroke-width="1" stroke-opacity="0.3" fill="none"/></g></g><line x1="210.5" y1="95.5" x2="210.5" y2="138.3" stroke="#a0a0a0" stroke-width="1.2"/><line x1="188.7" y1="119.6" x2="236.6" y2="119.6" stroke="#a0a0a0" stroke-width="1.2"/><rect x="188.7" y="95.5" width="47.9" height="42.8" fill="none" stroke="#8a8a8a" stroke-width="0.9"/><path d="M191.4 138.3v1.3M196.7 138.3v1.3M202 138.3v1.3M207.3 138.3v1.3M212.6 138.3v1.3M218 138.3v1.3M223.3 138.3v1.3M228.6 138.3v1.3M233.9 138.3v1.3" stroke="#666" stroke-width="0.7"/><path d="M188.7 99.1h-1.3M188.7 106.2h-1.3M188.7 113.3h-1.3M188.7 120.5h-1.3M188.7 127.6h-1.3M188.7 134.7h-1.3" stroke="#666" stroke-width="0.7"/><text x="190.5" y="103" font-family='"Liberation Serif", serif' font-size="7.8" font-weight="normal" font-style="normal" text-anchor="start" fill="#222" class="t">5</text><text x="234.6" y="103" font-family='"Liberation Serif", serif' font-size="7.8" font-weight="normal" font-style="normal" text-anchor="end" fill="#222" class="t">22</text><text x="234.6" y="136.8" font-family='"Liberation Serif", serif' font-size="7.8" font-weight="normal" font-style="normal" text-anchor="end" fill="#222" class="t">5</text>
<text x="126" y="79.4" font-family='"Liberation Serif", serif' font-size="9.6" font-weight="bold" font-style="normal" text-anchor="start" fill="#000" >CD28</text>
<line x1="155.6" y1="76" x2="169.7" y2="76" stroke="#000" stroke-width="1.6"/><path d="M175.8 76L169.2 73.2L169.2 78.8Z" fill="#000"/>
<text x="190.4" y="79.4" font-family='"Liberation Serif", serif' font-size="9.6" font-weight="bold" font-style="normal" text-anchor="start" fill="#000" >CD71</text>
<line x1="219.8" y1="76" x2="233.1" y2="76" stroke="#000" stroke-width="1.6"/><path d="M239.2 76L232.6 73.2L232.6 78.8Z" fill="#000"/>
<text x="126" y="154.7" font-family='"Liberation Serif", serif' font-size="9.6" font-weight="bold" font-style="normal" text-anchor="start" fill="#000" >CD28</text>
<line x1="155.6" y1="151.2" x2="169.7" y2="151.2" stroke="#000" stroke-width="1.6"/><path d="M175.8 151.2L169.2 148.3L169.2 154Z" fill="#000"/>
<text x="190.4" y="154.7" font-family='"Liberation Serif", serif' font-size="9.6" font-weight="bold" font-style="normal" text-anchor="start" fill="#000" >CD71</text>
<line x1="219.8" y1="151.2" x2="233.1" y2="151.2" stroke="#000" stroke-width="1.6"/><path d="M239.2 151.2L232.6 148.3L232.6 154Z" fill="#000"/>
<text x="292" y="13.5" font-family='"Liberation Serif", serif' font-size="9.3" font-weight="normal" font-style="normal" text-anchor="start" fill="#000" class="t"><tspan>CD4</tspan><tspan font-size="5.8" dy="-3.8">+</tspan><tspan dy="3.8">CD8&#945;</tspan><tspan font-size="5.8" dy="-3.8">-</tspan><tspan dy="3.8">CD3</tspan><tspan font-size="5.8" dy="-3.8">-</tspan><tspan dy="3.8">TCR-&#946;</tspan><tspan font-size="5.8" dy="-3.8">+</tspan></text>
<clipPath id="c5"><rect x="306" y="25.8" width="59" height="51.6"/></clipPath><g clip-path="url(#c5)"><g filter="url(#bl)"><path d="M319.8 42.1h0.8M341.8 69.1h0.8M329.6 62.8h0.8M319 74.4h0.8M325.6 44.2h0.8M331.1 55.6h0.8M331.2 65.5h0.8M323 68.6h0.8M326.8 52.4h0.8M342.2 66.3h0.8M337.7 68.5h0.8M329.4 50.2h0.8M332.1 70.8h0.8M322.7 64.8h0.8M330.8 74.7h0.8M337.2 73.8h0.8M329.2 54.9h0.8M324.7 44.5h0.8M326.5 44.8h0.8M334.9 59.3h0.8M337.9 66.8h0.8M344.2 57.6h0.8M334.6 57.7h0.8M330.9 50h0.8M326.4 49.6h0.8M331.7 54.2h0.8M332.8 63.4h0.8M344.7 59.9h0.8M344.8 49h0.8M334.4 59.9h0.8M330.2 54.8h0.8M324.4 76.3h0.8M320 69.1h0.8M330.9 50.2h0.8M326.3 74.8h0.8M327.1 59.7h0.8M329.2 63.1h0.8M333.1 57.8h0.8M320.9 37.1h0.8M335.6 36.1h0.8" stroke="#000" stroke-width="0.8" stroke-opacity="0.25" fill="none"/><path d="M335.9 47h0.9M337.6 45.1h0.9M339 47.6h0.9M336.1 50.2h0.9M336.5 42.8h0.9M340.5 46.4h0.9M341 48.2h0.9M335.8 49.8h0.9M338.8 49.4h0.9M337.8 50.8h0.9M339.8 46.5h0.9M334.4 47.1h0.9M337.9 44.9h0.9M337.3 50.7h0.9M336.7 49.8h0.9M335.7 45h0.9M339.8 46.8h0.9M338.2 49.6h0.9M341.3 44.4h0.9M339 47.7h0.9M338.1 51.4h0.9M337.2 45.9h0.9M338.8 42.5h0.9M338.5 45.2h0.9M338.5 45.5h0.9M338.9 46.6h0.9M336.2 48.5h0.9M339.4 43.5h0.9M334.9 46.6h0.9M336.9 50.3h0.9M341.2 48.3h0.9M340.1 46.5h0.9M334.7 47.9h0.9M333.9 51h0.9M338.3 49.9h0.9M336.3 43.5h0.9M337.3 48.3h0.9M337.3 46h0.9M337.9 46.8h0.9M340.8 44.2h0.9M332.9 47h0.9M338.3 43.7h0.9M337.6 48.2h0.9M338.5 47.9h0.9M336.1 43.9h0.9M339.8 46.4h0.9M334.7 50.8h0.9M339.4 40.7h0.9M343.4 47.6h0.9M334.2 49.4h0.9M338.5 50.1h0.9M337.8 43.4h0.9M337.4 46.2h0.9M338.4 46.8h0.9M339 44.4h0.9M336.5 46h0.9M338.6 43.3h0.9M337.7 52.7h0.9M333.8 49.6h0.9M337.9 49.5h0.9M337.8 47.8h0.9M338.5 48.3h0.9M335.1 46.9h0.9M341.7 50.5h0.9M335.9 45h0.9M337.3 49.7h0.9M339.7 45.9h0.9M332.5 47.1h0.9M334.1 50h0.9M341 48.8h0.9M339 48.5h0.9M341.8 49.7h0.9M340.9 44.6h0.9M336.6 47.2h0.9M332.8 46.6h0.9M337.7 47.1h0.9M343.3 46.7h0.9M337.3 46.9h0.9M337 43.9h0.9M340.2 47.3h0.9M338.5 47.3h0.9M336 43.5h0.9M337.1 48.4h0.9M337.5 48.9h0.9M336 46.5h0.9M338 47h0.9M338.1 50.5h0.9M336.8 47.5h0.9M336.3 48.5h0.9M338.2 45.5h0.9M335.5 44.4h0.9M337.1 47.6h0.9M336.6 47h0.9M338 52.7h0.9M340.3 52.6h0.9M338 47.7h0.9M342 48.1h0.9M339.2 46h0.9M336.5 49h0.9M336.4 45.7h0.9M334.4 47.9h0.9M337.5 48.5h0.9M335.8 44.3h0.9M340.1 47.3h0.9M339.5 44.5h0.9M334.9 41.3h0.9M338.4 49.5h0.9M340.6 51.3h0.9M333.7 44.7h0.9M336.5 45.4h0.9M337.2 45.4h0.9M334.5 47.1h0.9M338 45.4h0.9M337.8 44.2h0.9M337 46.4h0.9M336.7 47h0.9M334.9 44.1h0.9M335.9 48.9h0.9M335.6 45h0.9M342.1 46.6h0.9M336.9 45.2h0.9M341 48.4h0.9M338.3 50.9h0.9M335.1 43.3h0.9M340.2 48.2h0.9M336.6 49.1h0.9M337.5 51.7h0.9M334.9 48h0.9M339.9 49.3h0.9M336.9 46.3h0.9M336.7 48.8h0.9M336.8 46.9h0.9M340 46.9h0.9M338.2 46.9h0.9M337.7 42.1h0.9M335.6 48.1h0.9M336.3 45.8h0.9M337.8 52.5h0.9M336 45h0.9M333.7 48.3h0.9M337.6 45.3h0.9M336.8 49.5h0.9M340 48.1h0.9M340.3 49.6h0.9M336.7 49h0.9M338 49h0.9M338.3 52.2h0.9M334.9 48h0.9M335.3 52.6h0.9M336.6 46.3h0.9M337.7 47.1h0.9M341.5 47.1h0.9M338.3 49.7h0.9M341 45h0.9M338.4 44.1h0.9M338.8 50.5h0.9M336.5 46.6h0.9M340.3 48.2h0.9M339.5 46.1h0.9M337 46.3h0.9M341.2 43.7h0.9M336.6 50.8h0.9M337.5 44.7h0.9M338.2 46.7h0.9M337.4 48.4h0.9M339.4 43.7h0.9M338.1 50.7h0.9M334.7 47h0.9M335.1 48.8h0.9M335.8 46.4h0.9M336.8 48.3h0.9M334.8 43.9h0.9M338.1 50.4h0.9M336.6 48.2h0.9M338.3 47.5h0.9M337.7 45.9h0.9M337.2 50h0.9M338.7 50.2h0.9M336.1 47.5h0.9M336.3 44.1h0.9M339.7 46.5h0.9M338.2 43.9h0.9M337.1 46.9h0.9M336.8 49.6h0.9M338.7 47.5h0.9M338.2 46.2h0.9M336.1 46.5h0.9M335.4 46.8h0.9M337.4 49.8h0.9M336.7 52.9h0.9M336.5 47.5h0.9M337.6 45.8h0.9M337.6 43.1h0.9M340.2 45.8h0.9M337.6 43h0.9M338.9 44.2h0.9M340.7 44.8h0.9M336.1 48.8h0.9M340.5 42.6h0.9M334 51h0.9M338.7 43.6h0.9M336.7 48.8h0.9M336.8 50.7h0.9M336.1 47.6h0.9M340.2 50.7h0.9M338.2 48.6h0.9M336.9 47h0.9M336.4 48.1h0.9M339.5 44.8h0.9M335.1 47.3h0.9M342.1 47.7h0.9M338 47.1h0.9M334 45.5h0.9M341 42.3h0.9M341.6 44.4h0.9M342.2 53.4h0.9M341 46.9h0.9M339 45.9h0.9M336.7 47.7h0.9M330.7 48.5h0.9M337 44.6h0.9M337.1 48.7h0.9M336 48h0.9M334.7 47.4h0.9M335.1 49h0.9M335.4 48.7h0.9M333.3 47.6h0.9M340.1 45.2h0.9M337.8 45.2h0.9M338.7 49h0.9M340.2 50.3h0.9M340.6 45.5h0.9M337.9 48.4h0.9M338.1 44.1h0.9M342.1 53.2h0.9M337.8 41h0.9M341.7 46.8h0.9M342.7 44.7h0.9M338.8 49.1h0.9M334.5 46.4h0.9M338.8 48.8h0.9M338.5 41h0.9M332.4 48.1h0.9M341.2 43.6h0.9M338.5 49.4h0.9M335.5 43.4h0.9M338.3 46.1h0.9M337.5 46.7h0.9M337.4 47.9h0.9M336.5 47.1h0.9M336.4 45.1h0.9M338.4 45.2h0.9M338.9 47.1h0.9M340.1 48.6h0.9M333.3 47.1h0.9M339.1 47.5h0.9M337.8 49.8h0.9M339.2 44h0.9M337.9 49.6h0.9M338 44.2h0.9M339.4 48.6h0.9M340.2 47.6h0.9M337.9 49.2h0.9M335.3 51.3h0.9M338.6 47.7h0.9M339.3 49.1h0.9M332.8 49.4h0.9M337.4 45.3h0.9M339.7 49.4h0.9M338.5 45.7h0.9M337.9 44.9h0.9M343.2 45.6h0.9M339.6 51.1h0.9M335.8 45.9h0.9M332.7 46.6h0.9M334.8 47.6h0.9M337.2 47.2h0.9M337.8 46.1h0.9M337.9 47h0.9M336.1 46.4h0.9M336.4 44.1h0.9M337.6 42.8h0.9M338.8 47.1h0.9M338 49.9h0.9M339.8 46.1h0.9M338.4 50h0.9M337.3 48.1h0.9M338.6 44.7h0.9M338.3 46.3h0.9M337.1 48.2h0.9M339.1 45h0.9M337.1 46.7h0.9M335.6 48.1h0.9M337.2 45.5h0.9M339.7 47h0.9M335.1 47h0.9M337.3 47.9h0.9M342.6 48.5h0.9M340.8 46.8h0.9M338.7 48.4h0.9M337.4 47.8h0.9M336.7 48.8h0.9M335.7 51.3h0.9M329.5 43.9h0.9M337.4 48.1h0.9M338 43.3h0.9M338.6 45.1h0.9M338.1 46.2h0.9M337.1 43.6h0.9M334.8 45.9h0.9M335.3 47.8h0.9M334.6 47.7h0.9M338.9 45.4h0.9M335.6 46.4h0.9M339.4 50.5h0.9M342.4 47.4h0.9M339 47.6h0.9M337.6 44.6h0.9M336.9 49.8h0.9M340.7 45.8h0.9M334.1 51.7h0.9M337.7 48.3h0.9M337.3 42.9h0.9M338.4 44.9h0.9M337 45.7h0.9M337.1 52.9h0.9M341 42.5h0.9M334.3 46h0.9M336.2 49h0.9M341.1 45.4h0.9M338.9 46.7h0.9M333.3 50h0.9M341.5 45.2h0.9M339.1 46h0.9M337.5 46.1h0.9M337.4 47.3h0.9M336.3 47.8h0.9M334.8 49.1h0.9M335.6 42.8h0.9M339.5 46.4h0.9M336.5 49.4h0.9M337.6 51.8h0.9M338.6 43.8h0.9M336.6 45.6h0.9M337 51.2h0.9M343.7 51.3h0.9M338.7 48.5h0.9M338 41.9h0.9M340.7 51.9h0.9M336.5 47.1h0.9M336.1 46.7h0.9M335.8 44.5h0.9M340.3 42.6h0.9M339.9 44.5h0.9M337.1 42.4h0.9M339.1 44.8h0.9M343.2 45h0.9M338.2 48.8h0.9M335.5 45.2h0.9M335.3 48.5h0.9M338.3 49.6h0.9M334.5 45h0.9M337.4 46.1h0.9M338.4 49.9h0.9M338 45.3h0.9M337.6 45.5h0.9M336.2 51.6h0.9M339.2 51.5h0.9M337.2 47h0.9M334.9 47.8h0.9M339.3 48.8h0.9M335.1 47.4h0.9M339.7 46.1h0.9M339.2 46h0.9M337.7 45.8h0.9M334.4 45.2h0.9M338 46.5h0.9M337.7 45.8h0.9M339.6 46.8h0.9M338.5 46.1h0.9M340.5 46.9h0.9M338.6 52.4h0.9M338.6 43.5h0.9M336.2 48h0.9M334.8 43.7h0.9M337.4 43.4h0.9M340.1 48.2h0.9M337 50.1h0.9M336.2 44.4h0.9M339.7 47.2h0.9M337.2 49.7h0.9M337.4 48.7h0.9M338.2 49.9h0.9M338.9 46.1h0.9M341 46.3h0.9M341.5 44.2h0.9M337.8 41.9h0.9M338.8 50.4h0.9M336.8 48.3h0.9M337.2 50.6h0.9M338.4 48h0.9M340.1 43.6h0.9M339.2 47.5h0.9M340.5 47.3h0.9M339 47.1h0.9M335.5 46h0.9M337.3 44h0.9M337.6 46.1h0.9M341.7 46.6h0.9M338 47.4h0.9M339.2 43.4h0.9M333.8 51h0.9M335.8 45.1h0.9M340.3 47.9h0.9M335.9 49h0.9M335.2 51.1h0.9M337 48h0.9M337.7 51.8h0.9M335.6 47h0.9M342.4 42.3h0.9M336.6 47.9h0.9M337.2 48.3h0.9M340.2 44.5h0.9M336.3 50.3h0.9M342 40.8h0.9M338.9 49.6h0.9M336.2 45.1h0.9M335.2 46.7h0.9M335.2 48.9h0.9M336.2 48.4h0.9M334.2 49.3h0.9M339.2 49.4h0.9M338.3 52.7h0.9M339.8 47.3h0.9M341.2 46.3h0.9M338 51.1h0.9M336.7 47.2h0.9M338.2 47.6h0.9M337.2 49.6h0.9M342.4 46.3h0.9M334.5 46.1h0.9M334.6 44.2h0.9M335.4 49.7h0.9M338 48.9h0.9M337.5 49.6h0.9M336.8 50.3h0.9M339.6 47.7h0.9M334.5 44.6h0.9M338.3 44.7h0.9M337.3 46.8h0.9M340.7 45.6h0.9M338 46.1h0.9M336 48.2h0.9M339.8 43.8h0.9M341 52.5h0.9M338 48.4h0.9M335.4 46.2h0.9M338.4 47h0.9M340.7 45.1h0.9M337.2 48.5h0.9M337.5 46.6h0.9M337.4 48.2h0.9M333.5 53.4h0.9M339.3 44.7h0.9M335.7 44.5h0.9M338.7 42.8h0.9M343.1 45.9h0.9M334.6 52.1h0.9M337.7 48.4h0.9M337.3 46.6h0.9M342.2 42.5h0.9M338.3 45.4h0.9M336.9 47.1h0.9M333.7 48.7h0.9M338.1 48.5h0.9M336.4 49h0.9M336.7 49h0.9M340.7 48.7h0.9M334.5 47.4h0.9M335.4 51.8h0.9M338.1 44.2h0.9M334.4 50.3h0.9M335.5 48.2h0.9M337 46.9h0.9M336.7 47.2h0.9M341.3 45.1h0.9M338.8 48.3h0.9M336.2 44.6h0.9M335.7 48.6h0.9M338.1 49.6h0.9M338.5 47.5h0.9M337.7 47.8h0.9M337.8 48.8h0.9M335.8 49.7h0.9M341.3 47h0.9M339 44.4h0.9M337.9 43.8h0.9M339.9 47.3h0.9M340.1 49.9h0.9M336.1 49.1h0.9M341.1 52.4h0.9M337.5 48.5h0.9M336.3 48.7h0.9M339 50.6h0.9M337.4 47.4h0.9M338.8 46.8h0.9M342.3 42h0.9M333.9 46h0.9M339.2 47.3h0.9M338.6 43.6h0.9M339 48.5h0.9M341.3 49.2h0.9M336.4 45.5h0.9M335.2 46.1h0.9M337.5 50.2h0.9M341.4 47.4h0.9M339 46.8h0.9M334.9 48.5h0.9M336.1 43.4h0.9M335.9 50.7h0.9M335.2 50.4h0.9M334.7 47.1h0.9M338.8 46.3h0.9M335.6 47.2h0.9M341.4 48.8h0.9M338.2 48.6h0.9M340.3 50.3h0.9M337.1 45.1h0.9M335.5 47.4h0.9M337.1 47.2h0.9M336.4 53.1h0.9M336.2 50.6h0.9M335.8 45.4h0.9M335.1 44.7h0.9M334.1 45.3h0.9M337.2 48.8h0.9M333.8 48.3h0.9M337.5 47.2h0.9M332.9 48.3h0.9M339.2 49.9h0.9M337.1 50.1h0.9M337.9 45.1h0.9M338.9 49.5h0.9M338.2 47.1h0.9M337.2 48.8h0.9M333.7 47.9h0.9M334.9 46h0.9M338.2 50.1h0.9M337.7 45h0.9M343.7 48h0.9M331.7 47h0.9M336.1 45.8h0.9M340 52.2h0.9M337.9 44.1h0.9M339.6 47.4h0.9M336.8 47.7h0.9M335.1 47.7h0.9M338.5 50h0.9M342.2 45.7h0.9M338.6 45.4h0.9M338 49.9h0.9M339.1 46.5h0.9M341.7 49.3h0.9M340.4 47.4h0.9M340.7 46.9h0.9M339.7 47.3h0.9M337.7 43.6h0.9M339.9 48.6h0.9M336.3 47.4h0.9M339.1 48.7h0.9M333.1 50.7h0.9M335.4 51.7h0.9M340.3 47.5h0.9M338.2 47.9h0.9M336.8 50.8h0.9M336.2 46h0.9M337.2 43.5h0.9M340 44.4h0.9M341.1 49.4h0.9M342.2 45.8h0.9M337 46.2h0.9M339.5 45.1h0.9M337 41.8h0.9M337.8 47.7h0.9M342.2 45.2h0.9M339.9 48.6h0.9M339.7 44.6h0.9M329.9 46.1h0.9M339.9 47.6h0.9M341 52.3h0.9M336.2 46.3h0.9M341.2 43.3h0.9M332.1 47.9h0.9M338.5 50.8h0.9M339.4 47.1h0.9M336.4 42.9h0.9M338.9 45.8h0.9M336.9 48h0.9M333.1 47h0.9M336.3 51.9h0.9M337.5 49.9h0.9M335.5 43.5h0.9M339.7 46.4h0.9M334.7 49.8h0.9M338.9 43.1h0.9M337.2 52h0.9M338 44h0.9M335.8 50.5h0.9M341.1 48.9h0.9M334.3 49.2h0.9M335.9 46h0.9M336.6 49.8h0.9M338.9 48.6h0.9M336.7 46h0.9M340.2 45.8h0.9M337.1 48.5h0.9M337.3 49.6h0.9M339 48.8h0.9M343 45.9h0.9M342.5 44.1h0.9M335.9 41.2h0.9M336.2 45.3h0.9M339.3 50.2h0.9M343 45.9h0.9M340.2 46.8h0.9M333.5 37.2h0.9M336.9 42.6h0.9M339.7 45h0.9M339.2 45.6h0.9M338.8 44.9h0.9M338.6 51.6h0.9M338.6 43.9h0.9M335.9 47.5h0.9M339.6 44.2h0.9M335.6 43.3h0.9M341.7 47.9h0.9M338.5 46.2h0.9M342.1 48.6h0.9M337.5 50.2h0.9M339.1 46.5h0.9M336.9 47.2h0.9M340.9 43.8h0.9M333.9 48.9h0.9M340.1 50.7h0.9M339 43.6h0.9M339.6 47.6h0.9M335.4 43.3h0.9M334.2 47.4h0.9M334.8 48.1h0.9M337.4 48.8h0.9" stroke="#000" stroke-width="0.9" stroke-opacity="0.6" fill="none"/><path d="M340.9 44.6h0.9M335.7 51.7h0.9M334.6 52.8h0.9M339.7 52.3h0.9M334.7 51.9h0.9M336.4 49.5h0.9M339.9 46.1h0.9M337.1 38.4h0.9M334.4 51.2h0.9M332.7 39.5h0.9M331.3 47.2h0.9M340 50.8h0.9M331.3 50.2h0.9M332.1 53.2h0.9M338.9 45.8h0.9M335.3 48.2h0.9M334.8 53.5h0.9M338.5 46.1h0.9M339.1 42.6h0.9M337.9 47.1h0.9M334.9 48.3h0.9M338.2 42.3h0.9M338.8 61.1h0.9M340.5 46h0.9M338.7 55.6h0.9M332.8 55.6h0.9M335.8 56.6h0.9M333.8 53h0.9M334.9 53.9h0.9M340.9 49.9h0.9M333.8 53h0.9M338.8 43.9h0.9M339.5 47.8h0.9M336.8 44.3h0.9M338.1 52.2h0.9M333.8 51.9h0.9M329.8 49h0.9M338.3 44.4h0.9M337.9 42.9h0.9M344.9 50.2h0.9M341.7 44.5h0.9M328 48.1h0.9M342.7 47.8h0.9M342 50.2h0.9M338.6 53h0.9M334.8 46.7h0.9M341.7 50.5h0.9M335 43.9h0.9M343.3 34.6h0.9M340.9 47.9h0.9M332 50.2h0.9M339.2 58.3h0.9M338.4 37.7h0.9M333.5 51.8h0.9M335.3 48.2h0.9M336.9 54.6h0.9M338.6 47.8h0.9M334.6 52.8h0.9M334.4 50.3h0.9M338.9 51.7h0.9M340.4 49.7h0.9M345.2 51.9h0.9M334.2 44.6h0.9M334.4 54.2h0.9M332.8 55.2h0.9M338.9 46h0.9M333.2 48.1h0.9M340.3 48.2h0.9M340.1 49.2h0.9M342.7 46.4h0.9M336.7 43.7h0.9M336 44.2h0.9M331.2 47.5h0.9M339.9 38.9h0.9M332.1 42.5h0.9M338.7 50.9h0.9M338.5 47.7h0.9M334.2 49.3h0.9M333.8 47.5h0.9M338.8 47.4h0.9M342 39.2h0.9M330.9 52.8h0.9M335 46.5h0.9M335 48.2h0.9M336.6 50h0.9M340.9 56.4h0.9M328.8 48h0.9M333.7 49.4h0.9M333.2 48.8h0.9M338.3 48.3h0.9M338.1 51.3h0.9M333 48.3h0.9M341.4 52.5h0.9M341.1 44.9h0.9M334.6 52.7h0.9M337.2 49.7h0.9M335.8 52.4h0.9M337.9 44.2h0.9M338.7 47h0.9M336.2 50.9h0.9M337.8 46h0.9M332.6 46.6h0.9M336.7 43.4h0.9M334.8 58.4h0.9M334.7 48.8h0.9M332.4 47.1h0.9M338.2 49.2h0.9M330.5 48.6h0.9M333.4 53.1h0.9M336.8 55.3h0.9M338.6 43.5h0.9M341 46.4h0.9M336.8 48.9h0.9M332.1 53.5h0.9M337.8 44.1h0.9M331.8 50.5h0.9M342 50.2h0.9M338.4 46.7h0.9M341.5 50.8h0.9M334.1 45.9h0.9M328.7 53.4h0.9M349 48h0.9M338.9 51.8h0.9M336.4 57.6h0.9M333.2 44.9h0.9M343.6 52.4h0.9M340.2 48.1h0.9M337 49.1h0.9M338.9 45.9h0.9M341.3 55.9h0.9M335.1 44.4h0.9M337.7 59h0.9M333.4 54.2h0.9M334.6 45.3h0.9M341.5 47.8h0.9M337 51.5h0.9M341.7 49.5h0.9M343.4 45.6h0.9M335.2 51.4h0.9M339.8 41.1h0.9M336 51.4h0.9M336.6 56.2h0.9M331 49.4h0.9M333.9 41.7h0.9M336.3 48.3h0.9M335.6 45.8h0.9M340.6 44.1h0.9M334.8 42.6h0.9M341.8 42.3h0.9M344 44.6h0.9M337 55.4h0.9M333 54.1h0.9M332.1 46.6h0.9M339.4 50h0.9M338.5 49.9h0.9M343.4 41.7h0.9M334.5 52.2h0.9M331.4 45.6h0.9M346.9 54.3h0.9M339.2 48.9h0.9M336.6 44.8h0.9M333.8 44.4h0.9M332.2 49.1h0.9M338.9 44.6h0.9M337.7 42.9h0.9M338.7 47.2h0.9M336.9 49.4h0.9M342.4 49.5h0.9M334.6 49.2h0.9M338.8 50.8h0.9M341.4 45.1h0.9M332.5 51.2h0.9M332.7 50.5h0.9M348 53.9h0.9M331.4 45.1h0.9M338.8 47.4h0.9M340 49.6h0.9M338.5 50.9h0.9M331 53.4h0.9M331.6 44.8h0.9M327.6 48.6h0.9M338.8 47h0.9M332.5 39.3h0.9M339.4 43.7h0.9M335.8 49.6h0.9M336.9 50.3h0.9M343.8 51.6h0.9M333.2 48.4h0.9M336.3 44.9h0.9M339.8 46.9h0.9M338.1 51.3h0.9M345.6 46h0.9M340.1 57.7h0.9M343.6 49.9h0.9M334.3 49.3h0.9M334.7 46.8h0.9M330.3 47.4h0.9M329.2 52.8h0.9M339.3 46.9h0.9M337.4 49.1h0.9M336.2 49.8h0.9M336.5 50.5h0.9M334 48.9h0.9M343.9 45.2h0.9M334 52.6h0.9M338.5 49.3h0.9M338 46.9h0.9M335.1 50.8h0.9M337.9 51.3h0.9M339 58.1h0.9M337.6 54.6h0.9M337.8 58.2h0.9M341.1 45.4h0.9M343.6 46.2h0.9M341.3 45.4h0.9M338.7 49.3h0.9M342.9 39.5h0.9M329.5 52.8h0.9M340.2 46.5h0.9M337.6 41.2h0.9M335.7 45.8h0.9M340.8 49.7h0.9M336.6 53.6h0.9M334.6 51.9h0.9M336.3 50.6h0.9M336.1 54.6h0.9M335.5 57.2h0.9M340.4 45.1h0.9M335.5 54.4h0.9M343.1 43.5h0.9M337.9 51.3h0.9M346.8 51.5h0.9M336.4 52.6h0.9M337.6 45h0.9M337.1 47.7h0.9M336.4 49h0.9M338.7 45.4h0.9M339.9 42h0.9M339.9 50.8h0.9M338.9 42.4h0.9M335.2 49.6h0.9M339.1 51.9h0.9M331.1 48.8h0.9M341.6 43.8h0.9M332.4 46.7h0.9M336.2 47.6h0.9M342.3 49.9h0.9M329.6 52.1h0.9M337.6 52.4h0.9M337.1 54.6h0.9M337.8 46.7h0.9M332.4 52.7h0.9M336.7 41.3h0.9M340.6 54.3h0.9M328.8 51.2h0.9M339.9 56.1h0.9M342.2 45.6h0.9M339.1 51.9h0.9M331.3 54.9h0.9M339.2 52.3h0.9" stroke="#000" stroke-width="0.9" stroke-opacity="0.3" fill="none"/><path d="M325.2 67.2h0.9M328.8 58h0.9M329.2 63.3h0.9M322.5 60.5h0.9M330.6 47.5h0.9M331.9 60.5h0.9M324.6 51.6h0.9M323.8 67.7h0.9M325.3 62.1h0.9M327.1 67.8h0.9M334.5 68h0.9M331.9 69.2h0.9M336.4 53.5h0.9M330.2 55.3h0.9M329.2 58.8h0.9M329.5 66.3h0.9M323.4 39.6h0.9M330.2 69.1h0.9M327.3 72.5h0.9M338.8 61.2h0.9M328.1 64.8h0.9M332.3 48.5h0.9M331.2 44h0.9M324.4 62.4h0.9M330.4 51h0.9M329.2 71h0.9M321.9 65.2h0.9M334.5 49.8h0.9M334.2 64.2h0.9M327.7 60.8h0.9M328.9 60.9h0.9M328.2 54.7h0.9M333 74.4h0.9M328.2 72.1h0.9M325.7 50.3h0.9M331.8 62.6h0.9M331 52.9h0.9M327.3 68.9h0.9M335.9 62.7h0.9M330.7 39.4h0.9M326.2 71.2h0.9M337.3 54h0.9M318.1 64.7h0.9M323.4 57.3h0.9M326.4 57.7h0.9M324.9 66h0.9M330.3 50h0.9M331.5 62.4h0.9M324.5 61.7h0.9M330.4 54.8h0.9M329.6 57h0.9M320.1 49.5h0.9M326.3 56.4h0.9M330.9 74.1h0.9M327.1 61.6h0.9M328 47h0.9M328.7 59h0.9M325.4 66.8h0.9M330.7 58.2h0.9M325.2 63.1h0.9M325.5 53.8h0.9M326.8 68.4h0.9M327.8 59.4h0.9M327.5 65.5h0.9M328.3 67.4h0.9M328.3 67.5h0.9M327.7 54.7h0.9M330.7 59.1h0.9M327 72.4h0.9M326.8 54.4h0.9M327.5 72.4h0.9M323.2 70.2h0.9M331.2 57.5h0.9M327.5 54.8h0.9M320.2 53.2h0.9M322.9 47.7h0.9M327 65.5h0.9M324.9 58h0.9M325.6 59.1h0.9M330.6 70.6h0.9M331.5 63.8h0.9M334.8 66.6h0.9M331 65.4h0.9M332.4 52.4h0.9M325.1 61.5h0.9M321.2 58.6h0.9M327.4 63.3h0.9M331.8 71.4h0.9M318.7 62.5h0.9M330.3 72.4h0.9M326.2 64.2h0.9M328.2 53.1h0.9M329.9 68.6h0.9M327.3 61.5h0.9M333.5 59.2h0.9M327.5 63.2h0.9M330.7 64.1h0.9M334.1 64.4h0.9M323.7 47.6h0.9M328.4 74.4h0.9M329 57.2h0.9M330 65.1h0.9M334.1 50.4h0.9M332.1 62.3h0.9M332.3 69.6h0.9M319.3 68.3h0.9M330.9 54.4h0.9M328.3 69.3h0.9M322.4 67.9h0.9M332.2 75h0.9M325.2 55.8h0.9M333.1 58.5h0.9M330.5 39.6h0.9M339 45.7h0.9M321.7 64.9h0.9M330.9 54.2h0.9M319.3 65.2h0.9M329.8 53.3h0.9M329.3 56.1h0.9M324.4 66.5h0.9M328.8 61.1h0.9M323.5 55h0.9M327.6 55.9h0.9M330.2 61h0.9M327.8 59.4h0.9M330.5 69h0.9M324.1 68.5h0.9M332.6 67.2h0.9M326.4 62.5h0.9M337.8 49.9h0.9M332.3 58.7h0.9M335.9 61.9h0.9M332.4 55.7h0.9M326.6 73.9h0.9M323.3 56.5h0.9M327.7 50.6h0.9M331.4 50.8h0.9M329 58.8h0.9M319.3 62h0.9M322.1 61h0.9M318.8 56.4h0.9M332.3 63h0.9M333.6 74h0.9M331.9 59.2h0.9M328.2 65.9h0.9M323.4 52.3h0.9M328.7 75h0.9M324 62.8h0.9M325.7 66.6h0.9M330.2 60.5h0.9M332.6 58.7h0.9M328.3 63.3h0.9M332.1 54.1h0.9M326.7 54.6h0.9M331.2 64h0.9M329.6 50.1h0.9M325.2 48.9h0.9M322.9 54.7h0.9M330 64.8h0.9M321 65.9h0.9M330.3 73.7h0.9M332.4 48.5h0.9M330.8 62.6h0.9M330.1 54.7h0.9M334.9 61.5h0.9" stroke="#000" stroke-width="0.9" stroke-opacity="0.3" fill="none"/><path d="M331.1 40.9h0.9M333.6 44.5h0.9M324.3 69.1h0.9M335 63.7h0.9M344 61.7h0.9M332.3 46.1h0.9M334.3 56.7h0.9M334.4 53.2h0.9M336.6 43.9h0.9M343.6 46h0.9M336.5 48.5h0.9M345.9 51.1h0.9M328.5 52.7h0.9M342.3 45.6h0.9M325.6 51.3h0.9M341.3 31.6h0.9M342.6 74.3h0.9M334.2 63.4h0.9M334.6 40.4h0.9M332.3 60.8h0.9M327 53.3h0.9M330.5 58.9h0.9M354.5 56.4h0.9M325.6 69.4h0.9M333.3 52.2h0.9M339.4 62h0.9M337.2 58.6h0.9M336.9 45.7h0.9M341.5 62.9h0.9M329.5 41.2h0.9M330.9 57.2h0.9M346.4 57.5h0.9M310.6 50.6h0.9M336 57.7h0.9M323.9 52.7h0.9M336.6 61.4h0.9M341.8 69.3h0.9M330.3 52.1h0.9M332.1 59.7h0.9M350.9 57.2h0.9M336.8 48.1h0.9M325.7 70.4h0.9M334.9 67.4h0.9M341.9 51.6h0.9M337.5 48.2h0.9M340.4 54.4h0.9M341.6 66h0.9M331 62.3h0.9M338.9 51.3h0.9M337.7 65.9h0.9M336.8 63.7h0.9M338.2 66.1h0.9M334.6 52.9h0.9M340.5 36.7h0.9M331.6 68.4h0.9M329.9 71h0.9M348 51.5h0.9M329.8 58.9h0.9M342.6 70.2h0.9M347.4 49.8h0.9" stroke="#000" stroke-width="0.9" stroke-opacity="0.25" fill="none"/></g></g>
<line x1="333.8" y1="25.8" x2="333.8" y2="77.4" stroke="#555" stroke-width="0.9"/>
<line x1="306" y1="54.3" x2="365" y2="54.3" stroke="#333" stroke-width="0.9"/>
<path d="M306 25.8H365V77.4" fill="none" stroke="#999" stroke-width="0.9"/>
<path d="M306 25.8V77.4H365" fill="none" stroke="#555" stroke-width="1"/>
<path d="M306 31.5h-2.2M306 33.6h-1M306 35.7h-1M306 37.8h-1M306 39.9h-1M306 42h-1M306 44.2h-2.2M306 46.3h-1M306 48.4h-1M306 50.5h-1M306 52.6h-1M306 54.7h-1M306 57h-2.2M306 59.1h-1M306 61.2h-1M306 63.3h-1M306 65.4h-1M306 67.5h-1M306 69.8h-2.2M306 71.9h-1M306 74h-1M306 76.1h-1M306 78.2h-1M306 80.3h-1" stroke="#333" stroke-width="0.7"/>
<path d="M316 77.4v2.2M318.1 77.4v1M320.2 77.4v1M322.3 77.4v1M324.4 77.4v1M326.5 77.4v1M329 77.4v2.2M331.1 77.4v1M333.2 77.4v1M335.3 77.4v1M337.4 77.4v1M339.5 77.4v1M342 77.4v2.2M344.1 77.4v1M346.2 77.4v1M348.3 77.4v1M350.4 77.4v1M352.5 77.4v1M355 77.4v2.2M357.1 77.4v1M359.2 77.4v1M361.3 77.4v1M363.4 77.4v1M365.5 77.4v1" stroke="#333" stroke-width="0.7"/>
<text x="303.2" y="33.5" font-family='"Liberation Serif", serif' font-size="3.6" font-weight="normal" font-style="normal" text-anchor="end" fill="#333" class="t">10</text>
<text x="303.2" y="46" font-family='"Liberation Serif", serif' font-size="3.6" font-weight="normal" font-style="normal" text-anchor="end" fill="#333" class="t">10</text>
<text x="303.2" y="59" font-family='"Liberation Serif", serif' font-size="3.6" font-weight="normal" font-style="normal" text-anchor="end" fill="#333" class="t">10</text>
<text x="303.2" y="71.8" font-family='"Liberation Serif", serif' font-size="3.6" font-weight="normal" font-style="normal" text-anchor="end" fill="#333" class="t">10</text>
<text x="314" y="83" font-family='"Liberation Serif", serif' font-size="3.6" font-weight="normal" font-style="normal" text-anchor="middle" fill="#333" class="t">10</text>
<text x="327" y="83" font-family='"Liberation Serif", serif' font-size="3.6" font-weight="normal" font-style="normal" text-anchor="middle" fill="#333" class="t">10</text>
<text x="340" y="83" font-family='"Liberation Serif", serif' font-size="3.6" font-weight="normal" font-style="normal" text-anchor="middle" fill="#333" class="t">10</text>
<text x="353" y="83" font-family='"Liberation Serif", serif' font-size="3.6" font-weight="normal" font-style="normal" text-anchor="middle" fill="#333" class="t">10</text>
<text x="310.7" y="34" font-family='"Liberation Serif", serif' font-size="8" font-weight="normal" font-style="normal" text-anchor="start" fill="#222" class="t">5</text>
<text x="364" y="34" font-family='"Liberation Serif", serif' font-size="8" font-weight="normal" font-style="normal" text-anchor="end" fill="#222" class="t">80</text>
<text x="310.7" y="73.2" font-family='"Liberation Serif", serif' font-size="8" font-weight="normal" font-style="normal" text-anchor="start" fill="#222" class="t">8</text>
<text x="362.5" y="73.2" font-family='"Liberation Serif", serif' font-size="8" font-weight="normal" font-style="normal" text-anchor="end" fill="#222" class="t">7</text>
<path d="M291.6 79V91.9H304" fill="none" stroke="#000" stroke-width="1.4"/>
<path d="M291.6 74.8L289.1 80.4L294.1 80.4Z" fill="#000"/>
<path d="M308.8 91.9L303.2 89.4L303.2 94.4Z" fill="#000"/>
<text x="0" y="0" font-family='"Liberation Serif", serif' font-size="9.6" font-weight="bold" font-style="normal" text-anchor="middle" fill="#000" transform="translate(294.3 60.5) rotate(-90)">CD28</text>
<text x="310.2" y="95.3" font-family='"Liberation Serif", serif' font-size="9.6" font-weight="bold" font-style="normal" text-anchor="start" fill="#000" >CD71</text>
<text x="426.5" y="13.8" font-family='"Liberation Serif", serif' font-size="9.8" font-weight="normal" font-style="normal" text-anchor="start" fill="#000" class="t"><tspan>CD3</tspan><tspan font-size="5.8" dy="-3.9">-</tspan><tspan dy="3.9">CD8&#945;</tspan><tspan font-size="5.8" dy="-3.9">-</tspan><tspan dy="3.9"> thymocytes</tspan></text>
<clipPath id="c6"><rect x="445.4" y="24.3" width="57.2" height="52.6"/></clipPath><g clip-path="url(#c6)"><g filter="url(#bl)"><path d="M458.4 49.8h1M459.5 53.6h1M461.2 51.5h1M458.3 46.8h1M449.6 53.8h1M454.8 55.3h1M465.4 49.4h1M448.5 47.6h1M451.3 56.4h1M456.1 50.6h1M457.5 51.1h1M455.5 51.7h1M447.7 55h1M455.2 60.6h1M454.8 49.4h1M455.2 48.9h1M454.1 50.3h1M455.9 48.1h1M453.8 50.2h1M449.6 51.5h1M457.7 54.7h1M455.8 51.3h1M458.9 50.7h1M457.6 44.9h1M448.5 48.9h1M459.8 50.7h1M456.6 47.4h1M447 62.9h1M462.4 58.7h1M454.4 49.1h1M455.6 50.8h1M452.1 42h1M455.4 43h1M451.9 45.7h1M464.1 46.7h1M452.4 53.2h1M452.8 52.7h1M458.9 49.2h1M456.9 51.2h1M447.9 52.9h1M449.1 55.9h1M454.4 52.4h1M459.2 48.4h1M450.5 57.4h1M457.9 53.5h1M449.7 49.3h1M446.4 45.2h1M452.2 53.2h1M451.9 51h1M454.8 57.1h1M451.5 52.2h1M467.9 51.6h1M458.4 47h1M449.2 49.9h1M469.5 49.2h1M461.3 49.7h1M448.2 44.2h1M455.2 55.9h1M450.5 50.1h1M448.9 48.8h1M459.4 49.5h1M449.2 54.1h1M455.7 51.5h1M464.6 52.9h1M460.2 46.8h1M454.1 56.7h1M458.1 55.3h1M447.1 50.6h1M462.8 57.5h1M461.2 54.9h1M461.1 40.6h1M454.9 54.9h1M460.6 47.8h1M459.7 54.8h1M451.8 58h1M460.8 55.2h1M452.1 52.8h1M454.3 58.3h1M466.8 48.3h1M464.5 53.4h1M451 48.8h1M462.2 53h1M451.1 50.9h1M452.5 51.2h1M463.6 49h1M452.9 39.6h1M457 55.4h1M464.9 49.2h1M453 50.1h1M448.2 51.7h1M450.5 50.8h1M455.2 54.7h1M454.8 61.2h1M456.2 53.8h1M457.1 51.3h1M459.4 52.3h1M447.6 49.6h1M462 45.3h1M463.5 52.1h1M455.8 56.6h1M455.6 49.8h1M448.5 54.4h1M455 47.9h1M460.5 55.2h1M465.8 52.7h1M448.2 52.1h1M458.4 55.2h1M447.7 53.5h1M457.9 53.2h1M446.2 49.8h1M453.9 50.7h1M459.2 50.1h1M456.9 48.4h1M454.3 56h1M451.8 51.5h1M447.1 46.8h1M457.5 56.2h1M451.1 50.9h1M456.2 49.9h1M454.9 50h1M457.6 49.6h1M452.1 46.2h1M450.5 45.7h1M453.8 55.6h1M447.9 48.2h1M450.6 53.4h1M452.9 50.3h1M449.6 50.5h1M452.7 48.4h1M461.7 53.5h1M453.7 52.8h1M466.3 54h1M451.8 51.5h1M460.4 53.4h1M453.1 52h1M448.8 50.3h1M452.4 50.6h1M461.5 51.7h1M460.5 51.6h1M446.8 56.4h1M451.7 51.1h1M460.2 57.1h1M455.3 56.6h1M452 54.1h1M449.8 55.4h1M451.6 54.1h1M448.3 57.2h1M462.9 50.5h1M454.8 47.8h1M453.5 45.9h1M458.2 51.3h1M460.5 51.6h1M453.3 48.3h1M457.8 51.1h1M448.4 45.7h1M459.4 51.1h1M454.2 49.4h1M451.8 51.5h1M455.5 46.9h1M467.2 55.1h1M460.3 49h1M447.5 53.7h1M451.3 51.5h1M463 51.6h1M461.4 48.5h1M452.5 54.2h1M456.8 43.8h1M448.8 49.8h1M450.8 49h1M452.8 52.2h1M446.8 47.9h1M449.8 56.2h1M453.6 45.7h1M457 55.2h1M446.2 46.8h1M456.8 51.7h1M457.6 57.8h1M457.9 55.4h1M452 57h1M450.9 52.9h1M458.5 47.9h1M452.1 43.1h1M452.7 46.4h1M454.8 49.6h1M451 50.2h1M452.4 51.5h1M453.1 56h1M459.9 41.7h1M461.4 50.7h1M456.3 48h1M457.6 53.7h1M451.6 47.1h1M457.2 53.2h1M449.9 43.2h1M448.8 53.1h1M461 47.7h1M451.6 47.3h1M456.3 48.4h1M463.1 53.8h1M453.5 49.9h1M459.7 50h1M452.5 51.9h1M459.9 57h1M452.8 46.7h1M449.9 50.8h1M457.8 41.3h1M457.8 53.1h1M455.6 45.7h1M455 49.5h1M449.8 53.8h1M460.9 52.2h1M457.5 55.3h1M454.7 49.8h1M462.2 49.1h1M453 52.8h1M452.5 47.8h1M460.1 51.4h1M451.1 49.2h1M457.6 54.6h1M455.6 55.9h1M454.5 57.6h1M459.2 47h1M454.1 52.7h1M454.5 47.7h1M457 51.2h1M447.1 46.5h1M452.7 55h1M454.4 52.2h1M459.4 50.6h1M454.7 51.2h1M459.2 48.9h1M456.6 48.7h1M455.1 55.7h1M450.7 53.3h1M455 52.3h1M457.3 51.8h1M457.2 58.4h1M451.2 47.3h1M458.4 53h1M464.6 49.1h1M458.3 49.4h1M452.3 49.2h1M450.6 47.8h1M453.1 50.8h1M455 54.6h1M450.2 51.1h1M450.4 54.6h1M450.2 50.1h1M450.8 55.6h1M448.7 47.1h1M452.8 50.1h1M450.1 55.8h1M452 43.5h1M453.7 46.4h1M451.5 49.6h1M450.2 49.9h1M452.7 53.8h1M467.1 48.8h1M452.4 55.8h1M463 54.5h1M453.4 58.9h1M455.1 56h1M452 46.7h1M461.3 48.1h1M449.6 52h1M450.1 54h1M455.1 50.7h1M451.9 57.1h1M461.4 55.8h1M448.3 57.8h1M455.2 58h1M457.3 48.9h1M446.6 48.9h1M460.6 49.7h1M462.8 46.6h1M457.8 51h1M447.9 52.9h1M452.7 50.4h1M451.4 50.9h1M450.6 59.3h1M452.7 52.3h1M453.1 56.3h1M457.5 55.3h1M447.2 52.1h1M453.9 53.9h1M451.4 52h1M449.8 50.1h1M456.4 49.5h1M450.5 50.9h1M456.2 53.1h1M448.9 49.8h1M448.9 47.6h1M466.3 56.1h1M458.1 50.4h1M458.8 57.4h1M460.7 54.3h1M449.8 60.7h1M458.4 54.8h1M456.3 52.9h1M452.7 45h1M463.3 61.4h1M457 54.1h1M454.5 54.4h1M453.9 51.2h1M457.7 44.9h1M461.5 50h1M457.3 53.8h1M462.4 58h1M448.2 47.8h1M455.4 45.2h1M457.6 51h1M450.7 54.7h1M450 48.6h1M454.5 54.8h1M453.6 50.2h1M455.5 50.1h1M456.9 55.7h1M455.1 53.3h1M446.3 46.2h1M451.1 56.6h1M456.6 49.8h1M454 48.4h1M452.3 52.8h1M457.8 49.6h1M446.7 55.9h1M449 54.2h1M447 48h1M456.6 63.4h1M463.6 52h1M455.7 52.9h1M455.2 47.6h1M452.9 58.7h1M451.7 50h1M448.5 49.1h1M460.3 52.9h1M451.9 50.1h1M458.4 49.3h1M450.4 50.3h1M450.4 54.4h1M454.3 55.4h1M451.7 61h1M457.1 50.7h1M455.9 43.5h1M448.7 43.6h1M453 59.8h1M456 45.9h1M446.7 52.9h1M457.4 50.7h1M461.5 52.4h1M464.3 54.7h1M464.5 41.3h1M458.1 54.5h1M461.7 53.8h1M456.3 52.7h1M455.3 53.7h1M462.3 45.3h1M452.1 45.9h1M451.4 52.6h1M455.2 53h1M457.9 53.2h1M452.7 51h1M449.1 49.8h1M453.8 52.9h1M446.5 55.7h1M453.9 45.5h1M453.5 53.7h1M454.8 49.9h1M449.9 52.3h1M455.1 52.6h1M452.4 56.2h1M446.2 44h1M455.2 54.7h1M452.8 53.2h1M453.4 55.9h1M451.3 53.5h1M455.9 45.5h1M460 49.3h1M448.6 49h1M458.5 49.9h1M458.1 47.9h1M455.5 44.9h1M452.8 56.4h1M451.6 52.2h1M453.1 53.2h1M452.3 47.5h1M452.5 50.2h1M449.1 50.9h1M449.4 49.6h1M455.7 52.3h1M453 53.1h1M462.6 52.8h1M454.8 51.1h1M455.8 53.9h1M458.9 53.3h1M451.2 51.1h1M450.4 56.6h1M450.8 45.3h1M453.1 48.2h1M455.1 52h1M450 45.6h1M452.5 46.6h1M453.2 52.1h1M452.2 52.1h1M452.1 57.7h1M459.6 46.8h1M457.1 50.6h1M454.1 46.1h1M452.1 50.9h1M451.9 43h1M454.8 50.1h1M446.7 55.8h1M453.4 47.2h1M449.7 52.6h1M451.3 54.1h1M447.9 52.4h1M456.2 53.4h1M450.1 47.9h1M448.5 51.8h1M452.7 56h1M452.4 56.4h1M452.7 55.2h1M458.8 52.5h1M447.9 53h1M454.7 50.3h1M452.9 54h1M461.8 48.9h1M459.9 49.7h1M452.5 50.1h1M453.8 48.6h1M451.1 50.6h1M449.5 51.2h1M458.9 48.3h1M454.9 48.6h1M448.4 51.4h1M452.6 55.1h1M457.3 51.8h1M450.8 56.5h1M447.6 48.6h1M457.4 52.9h1M456.9 50.6h1M457.4 55.8h1M458.6 47.6h1M449.3 52.8h1M456.9 51.3h1M446.1 52.2h1M453.4 50h1M458.9 43.4h1M454.4 49.2h1M456.7 50.2h1M462.2 52.1h1M451.3 45.3h1M452.6 51.2h1M461.5 52.8h1M454.8 48h1M454.9 47.8h1M447.2 53.1h1M451.8 46.4h1M459.4 55.9h1M456.1 45.3h1M449.9 47.8h1M455.1 64h1M458.3 51h1M449.9 46.2h1M450.4 52h1M452.8 53.3h1M456.5 47.2h1M458 51.5h1M461.7 50.9h1M452.2 50.9h1M459.9 53.3h1M459.6 55.2h1M455.5 60h1M453.5 50.5h1M459.4 47.1h1M455.5 55.1h1M449.7 44.3h1M447.2 55.6h1M466 48.1h1M447.7 46.7h1M461.5 54.2h1M457.3 48.7h1M457.2 48.6h1M456.8 48.6h1M447.9 49.7h1M456 52.6h1M451.4 54.8h1M446.3 44.1h1M456.9 50.8h1M453.9 49.7h1M456.6 52.2h1M460.7 47.8h1M448 50.9h1M452.8 50.2h1M462.2 52.7h1M460 53.6h1M455.4 52.8h1M459.4 53.1h1M457.3 51.1h1M450.5 52.7h1M452.2 53.5h1M460.5 57h1M456 47.4h1M452.2 47h1M456.1 51.4h1M455 44.5h1M446.9 43.2h1M461 53.2h1M454.5 50h1M452.2 48.2h1M459.1 43.8h1M455 54.4h1M458.1 45.8h1M461.1 50.8h1M452.9 52.6h1M459.5 51.8h1M452.6 52.2h1M456.1 59h1M454.4 47.9h1M463.6 56.9h1M461.5 47.8h1M451.4 46.2h1M453.7 56.3h1M458.9 51.5h1M455.5 53.2h1M453.6 47.4h1M450.9 57.5h1M449.7 47.1h1M457.1 50.1h1M452.7 52h1M453.7 45.2h1M459 52.2h1M462.8 54.5h1M451.5 49.7h1M450.9 43.1h1M458 48.8h1M459.2 52h1M453.8 57.4h1M449.8 57.9h1M452.6 59.4h1M460.1 49.4h1M463.1 53h1M456.2 49.9h1M454.2 49.8h1M452.8 54.4h1M458.5 56h1M460.4 51.1h1M458.2 50.5h1M457.3 53.7h1M456.4 48.4h1M448.7 57.8h1M450.6 49.1h1M456.4 50h1M456.6 56.5h1M446.9 51.8h1M457.5 46.2h1M458.1 56.9h1M454.7 53.2h1M453.1 55.1h1M452 51.4h1M451.2 48.7h1M460.2 51.2h1M458.9 45.5h1M448.7 48.1h1M463.9 55.8h1M465.5 49.8h1M457.5 52.8h1M453.3 53.7h1M454.4 53.2h1M449.6 57.7h1M458.9 47.8h1M457 49.3h1M449 48h1M469.2 51.8h1M454.1 56.1h1M455.9 47.3h1M465.1 59.7h1M458.5 48.3h1M454.3 51.9h1M449.1 61.3h1M454.6 49.4h1M453.2 50.2h1M460.3 52.3h1M456.7 51.2h1M446 53.6h1M457.9 47.6h1M449 49.3h1M448.1 42.2h1M452.6 49.2h1M455.1 55.9h1M450.1 45.6h1M454 53.9h1M461.6 54.9h1M455.2 51.6h1M446.1 54h1M458.4 51.1h1M453.1 53h1M456.7 53.4h1M456.6 45.7h1M451.8 45.3h1M458.5 61h1M450.7 50.9h1M455.8 48.8h1M462.9 52.2h1M465.1 59.9h1M456.9 48.6h1M461 50.4h1M450.6 50.7h1M460.1 48.4h1M453.4 54.7h1M453.2 54.7h1M460.6 49.6h1M448.7 47h1M460.8 53.5h1M454.9 50h1M459.8 49.6h1M467.9 52.6h1M446.6 55.4h1M455.8 51.4h1M453.6 55.9h1M452.1 57.2h1M450.8 54.8h1M447.2 55h1M449.7 50.5h1M458.2 48.5h1M457.1 51.4h1M460.9 54.7h1M455.7 50.7h1M450.1 56.6h1M453.3 46.7h1M450.6 44.4h1M450.2 49.7h1M455.7 54.8h1M458.6 44.7h1M452.1 53.6h1M456.2 51.3h1M450.6 54h1M454 50.5h1M453.9 50.5h1M456 55.5h1M454.8 49h1M453.9 50.8h1M456.9 54.2h1M462.5 54.7h1M446.1 48.2h1M448.3 52.5h1M466 53.1h1M451.7 56.5h1M457.5 48.4h1M449.7 56.8h1M458.2 43.6h1M450.8 53.5h1M447.8 51.4h1M450.1 45.2h1M451.9 49.4h1M455.8 45h1M455.7 50h1M446.6 55.8h1M452.2 52.9h1M462.1 52.9h1M459 52.2h1M451.5 52.1h1M446.6 53.2h1M458.5 53h1M451.1 46.9h1M450.7 50.3h1M447.4 58.5h1M450.4 51.9h1M452.1 51.8h1M454.2 51.2h1M456.3 49.4h1M458.4 52.2h1" stroke="#000" stroke-width="1" stroke-opacity="0.45" fill="none"/><path d="M454.5 46.9h1M462.1 46.4h1M465.6 47.8h1M456.5 46.7h1M456.9 50.8h1M450.5 53.6h1M472.6 51.4h1M455.6 39.7h1M449.5 39.5h1M456.6 40.7h1M465.9 43h1M448.6 38.7h1M454.1 45.4h1M461.2 40.4h1M457.1 55h1M452.8 31.5h1M456.4 55.7h1M457.5 46.8h1M453.5 36.3h1M452.5 48.1h1M455.1 38.8h1M471.4 57.6h1M461.7 52.3h1M452 36.4h1M446 56.1h1M455.3 61h1M458 41.9h1M460.9 40.9h1M452.9 51.3h1M455.9 49.2h1M456.3 55.8h1M448.9 29.1h1M448.4 25.5h1M468.3 40.9h1M454.5 49.6h1M449.4 42.3h1M456.6 46.8h1M460.4 44.6h1M450.1 33.9h1M456.9 43.1h1M459.2 36.2h1M452.4 44.6h1M449.6 44.2h1M456.7 67.7h1M454.8 53h1M460.5 38.4h1M458.1 43.1h1M461 41.6h1M462.2 38.8h1M451.5 54.1h1M461.8 54.3h1M468.6 55.7h1M454.7 54.9h1M449 53.8h1M457.5 45.4h1M449.7 56h1M451.7 39.4h1M450.5 49.2h1M468.4 62h1M453.4 43h1M459 39.3h1M451.9 60.1h1M457.1 33.9h1M456.8 51h1M455.2 34.7h1M460.3 62.5h1M459.2 46.5h1M457.4 56.7h1M451.1 57.9h1M456.5 48.5h1M457.8 49.4h1M448.3 60.4h1M451.4 44.3h1M458.7 45.8h1M454 43.4h1M459 41h1M449.2 49.5h1M464.8 51.7h1M450 35h1M460.5 51.1h1M454.4 52.2h1M458.9 51.2h1M464 33.1h1M450.2 42h1M447.8 64.1h1M457.2 50.4h1M460.3 44.6h1M460.6 44.9h1M460 51.6h1M463.8 33.3h1M448.4 40h1M449 50.1h1M461.5 43.6h1M462.2 54.5h1M450.7 52.5h1M464.7 42.5h1M456.8 52.2h1M458.4 46.3h1M454.7 39.6h1M468.4 60.4h1M453.8 39.2h1M457.8 60.8h1M455.1 39.5h1M461.3 49h1M449.3 44.8h1M455.9 36.9h1M456.8 58h1M462.1 57.8h1M460 46h1M459.1 57.6h1M455.1 51.4h1M450.5 46.9h1M451.5 37.3h1M457.6 66.4h1M456.2 40.3h1M456 54.3h1M458.9 51.9h1M467.5 48.6h1M463.5 41.8h1M448.6 42.1h1M451.9 54.7h1M460.1 47h1M448.7 48.1h1M452 43.6h1M458.9 73.2h1M473.5 47.3h1M470.2 43.2h1M474.2 46.4h1M460.5 62.1h1M461.7 62.6h1M456.2 33.4h1M456 39.1h1M460.7 28h1M448.1 36.6h1M455.7 56.1h1M452.8 35.3h1M451.4 45.5h1M463 48h1M467.3 66.5h1M451.3 71h1M445.9 41.5h1M458.4 49h1M457 45.3h1M449 38h1M451.7 31.7h1M454.1 51.3h1M451.5 58.8h1M456.4 55.2h1M448.7 48.8h1M456.6 65.9h1M457.1 43.6h1M462.3 47.9h1M455 48.1h1M461.7 61.3h1M451.7 47.1h1M471.4 44.9h1M451.6 38.7h1M470.4 64.9h1M462.1 49.2h1M449.9 60h1M453.2 49h1M453.7 48.4h1M446 27.4h1M446.8 42.5h1M453.6 46.2h1M451.9 56.3h1M453.3 39.1h1M464.6 45.8h1M462.6 51.8h1M453 55.7h1M452.1 25.4h1M451.9 45.1h1M463.7 52.3h1M456.4 58.8h1M455.7 58h1M461.1 65.9h1M462.4 41.8h1M459.2 57h1M459.6 66.6h1M457 43.2h1M461.1 57.2h1M454.9 51.6h1M455.9 49.2h1M457.5 43.3h1M460.1 50.2h1M467.1 49.6h1M455.8 35.9h1M470.8 44.8h1M451.4 44.4h1M455 46h1M466.8 42.6h1M453.4 42.9h1M459.2 32.2h1M461.9 43.6h1M455.1 40.9h1M460.3 46.2h1M450.9 55.5h1M455.2 47.5h1M448.9 34.5h1M451.7 49.4h1M452.1 49.6h1M453.2 44.7h1M454.6 50h1M453.5 42.8h1M461.8 57.2h1M463 53.3h1M458.1 48h1M460.2 40.9h1M454 49.6h1M453.9 35.6h1M454.3 43h1M450.4 52.3h1M462.5 47.5h1M446.9 45.2h1M453.6 37.3h1M450.7 48h1M450.8 50.7h1M450 47.8h1M455.1 42.1h1M462.2 30.8h1M456.3 52.4h1M453.2 46.1h1M446.9 46.3h1M456.1 41.3h1M455 43.4h1M447.7 45.9h1M449.4 54.4h1M449.4 59.1h1M454.7 46.4h1M449.7 50.4h1M447.7 32.9h1M457.9 28h1M462.9 41.9h1M465.9 48.7h1M466.4 33.6h1M451.8 48.9h1M450.9 47.2h1M453.7 52.4h1M464.9 27.4h1M459.3 36.3h1M466.4 33.5h1M449 51.1h1M453.7 52.6h1M457.5 39.7h1M453.3 45.6h1M452.7 44.2h1M449.7 47h1M456.6 35.5h1M461 41.7h1M453.7 42.1h1M457.7 45.9h1M451 39.8h1M458 49.8h1M451.8 50.1h1M456.1 28.6h1M450.7 48.6h1M463.8 50h1M446.1 54.4h1M452.9 53.8h1M463.3 48.7h1M456.1 45.5h1M456.2 37.5h1M463.6 53.6h1M461.7 45.8h1M460.8 55.1h1M472.6 56.1h1M449.6 39.5h1M461 50.9h1M458.8 47h1M449.1 47.8h1M471 52.9h1M448.8 38.9h1M472 52.2h1M451.2 51.6h1M452.6 37.2h1M455.9 51h1M464.1 35.5h1M465.4 44.4h1M462 51.2h1M460.8 38.6h1M458.6 32.1h1M450.2 68.8h1M466.7 50h1M458.5 47.3h1M459.4 48.3h1M448.3 43.4h1M453.7 49.9h1M470.8 32.2h1M469.9 42.8h1M451.9 45.8h1M470.5 37h1M452.2 51.4h1M461.7 50h1M455.8 55.2h1M448 60.4h1M451.4 49.9h1M448.3 41.2h1M462 51.6h1M453.6 53.7h1M478 25h1M449 46.5h1M449 64.7h1M465.9 31.6h1M459.7 43.9h1M465.5 49.5h1M449.6 42.8h1M455.3 61.5h1" stroke="#000" stroke-width="1" stroke-opacity="0.28" fill="none"/><path d="M456.1 64.5h1M452.8 70.5h1M453.4 74.5h1M461.3 67.5h1M456.2 65.3h1M465.5 65.9h1M457.3 60.9h1M454.1 67.6h1M454.9 67h1M462.1 69.9h1M460.7 64.3h1M452.1 66.8h1M457.7 66.8h1M456 72h1M453.9 61.1h1M459.9 73h1M461.9 67h1M452.5 71.1h1M451.1 66.5h1M447.1 67.6h1M463.7 68.8h1M446.9 64.6h1M450.4 60.3h1M460.4 69h1M454.3 73.3h1M460.3 64.2h1M455.7 66.2h1M455.4 72.6h1M463.9 62.6h1M468.5 59.8h1M460 72h1M456.4 69.1h1M451.1 73.3h1M454.1 64.5h1M458.7 67h1M467 69.6h1M457.7 63.4h1M459.1 60.5h1M450.5 72.9h1M457.3 61.8h1M451.3 66.3h1M457.6 67.7h1M460.9 53.8h1M460.3 58.6h1M452.5 67.4h1M462.5 64.1h1M446.6 63.2h1M447.3 64.6h1M450.8 71.8h1M459.3 66.2h1M457.5 73.8h1M453.6 61.9h1M455.7 61.5h1M457 70.7h1M453.1 71h1M463.6 75h1M453.2 69.5h1M460.9 70.5h1M461.9 69.1h1M460.2 71h1M458.8 69.5h1M457.4 66.6h1M455.8 64.5h1M452.6 72.4h1M453.8 57h1M452.1 66.4h1M463.8 68.3h1M459 64.6h1M451.8 60h1M459.8 67h1M450.8 67.2h1M462.9 71h1M460.9 72h1M457.2 67h1M455.6 69.1h1M455.8 63.1h1M451.9 72h1M453 66.5h1M465.4 62.7h1M455.3 65.1h1M452.1 66.2h1M459.2 65.8h1M461.8 70.2h1M448.5 67.2h1M454.4 61.3h1M457.5 72.3h1M465.9 70.3h1M458 72.6h1M454.7 65.2h1M462 69.8h1M452.2 65.1h1M447.2 76.1h1M453.1 64.8h1M451.6 64.7h1M456.4 67.1h1M460.8 56h1M456.5 74.3h1M455.9 64.4h1M468.7 64.7h1M460.1 68h1M454.6 62.6h1M456.6 67.8h1M467.5 60.3h1M453.4 71.9h1M465.3 63.1h1M449.7 66.2h1M466.1 66.1h1M460.7 66.2h1M448.5 68.1h1M458.2 63.7h1M468.3 66.9h1M458.4 60.5h1M452.2 67.9h1M460.4 69.5h1M446.3 60.4h1M448.1 71.8h1M456.3 66.7h1M455.1 63.3h1M457.7 66.4h1M454.2 67.9h1M454 66.1h1M462.9 70h1M456 67.5h1M464.4 61.1h1M456.9 67.8h1M453.2 63.6h1M450.1 66.7h1M461.6 65.6h1M448 68.7h1M463.4 68.3h1M452.5 65.2h1M453.4 62.3h1M461.5 65.5h1M468.1 72.2h1M452.3 63.5h1M458 65.3h1M454.7 68.9h1M450.3 66.6h1M453.7 73.5h1M459.8 66.4h1M448.7 66.3h1M450.2 65.3h1M457.7 70.4h1M462.1 64.4h1M456.7 66.7h1M462.1 70.8h1M457.1 69.2h1M454.5 66.7h1M457.2 61.7h1M453 70.5h1M460.1 67.7h1M459 63.5h1M465.3 58h1M453.2 63.6h1M452.5 67.9h1M456.2 71.1h1M467.9 69.1h1M449.4 67h1M450.5 63.5h1M452.8 71h1M450.3 68.4h1M450.6 70.7h1M463 60.7h1M460.3 63.2h1M457.7 66.5h1M461 61.5h1M467.9 68.4h1M451.3 72.4h1M464.3 69.2h1M452.2 63.5h1M449.7 73.9h1M455.9 66.8h1M453.1 72.3h1M453.2 70.7h1M457.7 62.8h1M468 58.1h1M458 69.3h1M458.4 66.7h1M457.3 64.3h1M455.4 74.8h1M455.4 71.7h1M464.3 64.5h1M468 60.5h1M452.2 66.6h1M453.8 69.6h1M454.8 69.5h1M450.2 60.1h1M467.3 68.1h1M458.1 61.9h1M458.5 66.8h1M458.7 67.5h1M462.3 73h1M453.2 65.3h1M460.2 60.7h1M450.9 65.4h1M453.8 66.1h1M447.8 69.3h1M452.6 61.8h1M457.7 73.6h1M469.6 66.1h1M450.9 73.9h1M457 71h1M466.2 69.8h1M457.6 75.4h1M454.1 64.3h1M454.4 58.8h1M454.2 68.8h1M453 66.9h1M462.3 61.2h1M452.6 68.5h1M452.8 66.8h1M456.9 59h1M460.4 69h1M449.2 66.2h1M454.9 65.8h1M455.8 60.4h1M455.9 68.8h1M458 68.9h1M451.8 67.6h1M461.8 67.3h1M456.9 67.3h1M459 61.4h1M455.1 70.7h1M449.7 69.5h1M452.5 65.2h1M448.2 63h1M463.1 60.7h1M456.4 61.1h1M468.6 70.1h1M450.3 62h1M453.7 68.5h1M466.3 73.3h1M449.1 68h1M461.5 63.9h1M452.4 71h1M446.5 67.2h1M455 65.7h1M455.6 59.9h1M460.8 65h1M468.2 75.6h1M452.5 75.4h1M464.7 63.5h1M453.8 72.3h1M450.8 65.5h1M447.9 63.9h1M450.8 68.1h1M457.1 65.4h1M446.6 68.1h1M459.5 66.8h1M464.4 65h1M461 68.2h1M464.1 74.1h1M448 59.1h1M462.2 68.4h1M457.7 65.1h1M450.6 72.2h1M458.6 64.7h1M455.8 68.3h1M447 64.3h1M458.8 67.6h1M446.6 68.4h1M468.4 69.7h1M447 65h1M451.5 63.6h1M450.1 64.5h1M454.9 61.6h1M461.5 68.4h1M468.1 70.7h1M461.7 69.3h1M454.8 62.3h1M459.8 67.4h1M451.3 68.8h1M457.6 64.2h1M464.9 64.9h1M456.3 71.7h1M452.1 65.7h1M458.5 65.6h1M452.3 62.1h1M457 65.4h1M460.9 71.4h1M455.4 70.4h1M451 74h1M451.9 66.5h1M453.1 64.9h1M460.7 67h1M449.8 70.4h1M455.8 69.5h1M456.9 65.1h1M449.8 72.3h1M454.1 73.4h1M470.4 72.1h1M470.9 63h1M452.3 62.5h1M446.9 61.5h1M461.3 63.6h1M453.4 69.6h1M452.9 73.8h1M463.2 70.2h1M466.3 69.4h1M456.7 71.8h1M462.3 61.2h1M462.7 71.5h1M456.6 73.2h1M448 68h1M451.1 63.5h1M457.3 60.8h1M455.4 70.1h1M450.7 62.4h1M459.2 71.1h1M461.4 64.8h1M452.9 73h1M461.2 68.5h1M457 66.4h1M459.5 70.1h1M455.8 68.3h1M446.6 66.5h1M465.8 68h1M446.7 65.1h1M456.1 73.3h1M469.3 66.9h1M454.6 67.7h1M448.4 72.8h1M447.8 70.3h1M452.6 62.6h1M457.7 74.3h1M447.7 68.1h1M451.1 71.7h1M446.1 61.6h1M453.1 61.5h1M461.8 60.7h1M455.9 65h1M461.9 64.8h1M454.3 74.4h1M459.7 72.5h1M464.7 69.3h1M457.5 59.9h1M457.4 71.9h1M450.6 65.7h1M468.9 62.3h1M454.3 66.7h1M451 73.6h1M465.5 58.5h1M457.8 64h1M458.4 66.3h1M453 67.5h1M463.4 62h1M461 68.3h1M454.2 64h1M457.7 70.6h1M449.5 70.3h1M455.7 70.7h1M457.3 66.3h1M456.9 69.9h1M446.2 67.2h1M452.4 67.2h1M461.9 71.1h1M464.7 71.2h1M454.1 63.7h1M472.1 64.2h1M453.2 69h1M450.2 67.8h1M456.9 64.8h1M448.9 67.3h1M458.3 62.9h1M456.4 67.6h1M449.8 68.9h1M446.7 71h1M450.9 71.5h1M456.2 67.4h1M446.9 70.4h1M458.3 68h1M455.7 70.1h1M458.5 68.8h1M461.1 66.5h1M465.9 60.6h1M455.4 60.6h1M447.8 64h1M463.7 69.9h1M456.4 61.8h1M451.6 64.6h1M455.8 69.6h1M451 64.9h1M457.3 74.1h1M458.2 65.6h1M461.5 66.5h1M446.7 70h1M466.1 62.3h1M460.5 61.8h1M455 66.6h1M453.3 66.6h1M459.9 64.9h1M454.1 65.8h1M457.3 64.3h1M460.6 68.4h1M451.7 61.6h1M453.8 71.5h1M459.6 67.2h1M468.6 73.8h1M458.9 73.1h1M453.9 65.5h1M457 59h1M455.7 64.9h1M464.2 69.6h1M465.6 65.2h1M465.1 67.8h1M458.9 68.9h1M447.4 71h1M452.6 69.9h1M455.2 62.9h1M453.5 68.4h1M453.6 74.4h1M463.3 67.5h1M453.2 73.3h1M455.8 72.1h1M446.8 58.5h1M460.5 71.1h1M454.5 66.4h1M458.5 69.4h1M455.1 67.2h1M457.1 71.8h1M460.1 55.9h1M457.8 65.8h1M462.5 70.2h1M452.2 66.7h1M448.5 67.6h1M450.9 72.4h1M463.9 65.5h1M449.8 72.7h1M446.9 65.6h1M453.1 68.2h1M455.9 63.1h1M461.2 68.7h1M457.7 73.9h1M467.7 68.2h1M452.9 65.9h1M454.8 62.4h1M451 64.9h1M458.9 70.3h1M451.6 62.4h1M455.4 59.5h1M454 67.9h1M458.1 65.2h1M458.3 70.3h1M453.3 62.5h1M452.2 68.3h1M457.3 59.8h1M467.2 68.9h1M456.7 61.9h1M459.5 56.4h1M465.9 68.8h1M455.2 68.2h1M461.3 58.4h1M457.4 61.5h1M452.9 66.2h1M452.8 63.8h1M456.6 65.3h1M457.3 70.3h1M450 66.2h1M450 70.6h1M460.2 71.5h1M462.4 67.6h1M449.1 63.8h1M463.4 67.6h1M460.7 64.6h1M454.1 75.4h1M461.9 60.2h1M451.1 67.7h1M462.3 71.3h1M461 72.4h1M460 70.7h1M449.9 61.8h1M452.2 72.6h1M464.3 62.4h1M453.7 67.4h1M459.3 68.5h1M465.1 68.2h1M454.1 66h1M462.6 66h1M458.9 65.3h1M448 57.8h1M453.6 63.6h1M460.8 65.4h1M449.5 70.2h1M452.8 76.1h1M452.6 67.4h1M450.5 73.7h1M457.4 66.1h1M454.9 58h1M463.6 67.1h1M463 63.4h1M464.8 64.2h1M455.7 75.8h1M452.3 67.2h1M454.5 67.5h1M456.5 66.4h1M458.3 65.2h1M464.1 70h1M448.2 64.8h1M453.4 71.2h1M450 65.6h1M460.6 71.1h1M454.8 66.2h1M449.2 72.1h1M460 75h1M453.5 69h1M451.5 68h1M452.1 68.9h1M454.7 62.9h1M455.2 70.2h1M462.7 71.3h1M468.8 71.4h1M467.1 70.5h1M457.6 59.6h1M461.8 66.5h1M453 61.3h1M463.7 67h1M452.7 63.7h1M454.9 69h1M459.4 67.5h1M456.9 67.3h1M452.8 72h1M454.6 64.6h1M466.6 63h1M452.6 67.6h1M454.4 66.7h1M461.7 71.4h1M446.9 75.2h1M447.9 62.6h1M459.9 62.7h1M447.8 70.7h1M458.8 68.7h1M464.6 71.6h1M452.5 65h1M458.2 65.2h1M457.2 70.9h1M457.2 61h1M466.1 66.8h1M457.8 60h1M455.3 61.5h1M465.7 65h1M446.6 66.5h1M449.5 67.3h1M449.4 59.6h1M454.3 65.8h1M450.3 70h1M460.9 66.6h1M455 68.6h1M461.4 67.8h1M448.3 69.8h1M470.9 69.8h1M457.6 64.6h1M459.2 69h1M456.5 72.6h1M454.8 58.9h1M454.6 67.8h1M460.5 69.5h1M460 69h1M457.4 62h1M453.4 71.4h1M466.1 55.6h1M454.6 65.2h1M461 58.6h1M451.9 67.9h1M450.3 59.6h1M467.5 66h1M455.9 69.7h1M467.8 64h1M454.5 65.6h1M461.6 71.1h1M465.7 65.2h1M447.7 64.3h1M448.7 68.9h1M465 66.5h1M454.6 67.2h1M451.4 68.5h1M453.8 67.7h1M450.2 69.3h1M457.6 63.3h1M455 61h1M446.3 62.2h1M458.1 65.3h1M455.2 68.2h1M453.6 66.3h1M451.8 76.4h1M450.1 69.7h1M453.8 74.8h1M448 66.6h1M458 64.9h1M469.2 68.2h1M458.1 59.8h1" stroke="#000" stroke-width="1" stroke-opacity="0.4" fill="none"/><path d="M474.5 40.1h1M474.9 43.3h1M473.2 41.4h1M471.4 41.2h1M477.3 40.9h1M472.7 43.3h1M470.1 41.7h1M476.3 43h1M474.9 44h1M473.4 37.8h1M475.4 43.7h1M467.6 42.1h1M477 40.2h1M475.8 45.4h1M473.2 42h1M471 43.8h1M474.1 43.6h1M473.3 42.6h1M472 44.7h1M473.1 45h1M475.7 41h1M470.7 44.6h1M474.4 41.8h1M476.1 38.4h1M474.9 41.8h1M475.3 41.4h1M472.3 43.9h1M474.4 39.6h1M474.8 43.9h1M469.4 40.6h1M470.6 40.5h1M471.7 46.3h1M471 40.6h1M472.8 45.2h1M472.5 44.4h1M476 41.7h1M474.4 44.5h1M474 45.8h1M474.4 45.7h1M471 43h1M467.5 39.7h1M472.1 41.7h1M472.9 43.6h1M469.8 39.1h1M475.3 43.1h1M475.8 44.2h1M474.2 41.5h1M474.7 40.6h1M470.2 41.8h1M479 40.6h1M476.8 42.2h1M477.7 41.5h1M470.5 41.2h1M473 43.6h1M471.7 42.9h1M479.3 42.6h1M475.1 47.8h1M471.6 42.5h1M472.6 43.1h1M471.5 41.9h1M475.3 42.5h1M468.7 44.8h1M474.4 46.4h1M471.4 43.2h1M471.2 44.1h1M472 45.1h1M473.7 38.1h1M470.6 43.8h1M475.3 44.5h1M474.7 41.6h1M473.8 42.6h1M473.5 44.5h1M471.1 41.9h1M476.7 42.2h1M474.8 41.4h1M473.6 45.1h1M477.4 42.6h1M471.9 45.5h1M468.7 42.1h1M475.2 47.3h1M476 42.2h1M473.3 42.4h1M471.1 41.7h1M474.2 39.1h1M471.4 36.5h1M475.8 42.7h1M469.3 39.5h1M471.7 45.8h1M474.6 40.3h1M472.2 39.2h1M471 39h1M477.9 43.9h1M476.7 43.4h1M471.6 44.5h1M474.6 41.1h1M469.3 42.4h1M470.4 41.9h1M468.3 38.8h1M475.8 43.6h1M473.8 42h1M473.9 40.6h1M475.4 45.7h1M471.9 39.4h1M473.5 39h1M478.4 42.3h1M474.5 42.9h1M472.2 41h1M470.7 46.5h1M473.6 44.7h1M477.2 41.9h1M472.1 41.7h1M474.3 40.5h1M475.8 42h1M471.5 43.9h1M477 40.7h1M473 42.1h1M474.7 44.1h1M473.1 40.6h1M471.9 44.3h1M478.1 42.9h1M471.4 47.6h1M476.3 41h1M470.2 40.6h1M480.9 45h1M470.9 40.9h1M472.5 39.8h1M474.9 40.2h1M472.8 43.7h1M472.8 44.5h1M472.1 44.9h1M471.8 41.3h1M469.7 43.2h1M475.1 42.5h1M477 43.8h1M474.3 39.1h1M473 43.2h1M470.4 45.5h1M474.2 45.5h1M470.3 46.1h1M476.9 42.8h1M472.5 45.8h1M471 42h1M476.3 42.3h1M471.4 40.1h1M472.2 45.1h1M480.3 40.5h1M470.4 43.7h1M473 41.6h1M473 45.2h1M475.4 40.9h1M474.7 40h1M476.3 38.3h1M472.3 44.3h1M477.8 43.5h1M468.4 42.1h1M475.8 43.8h1M474.4 41.3h1M468.5 41.5h1M473.8 41.1h1M471.3 43.3h1" stroke="#000" stroke-width="1" stroke-opacity="0.38" fill="none"/><path d="M472.2 47.8h1M479.3 43.4h1M478.9 41.4h1M478.3 48.9h1M476.4 50.5h1M474.9 38.4h1M482.4 48h1M474.9 47.2h1M475.8 45.8h1M467.1 41.1h1M482.8 49.9h1M468.4 54.8h1M475.3 41.5h1M469.9 43.7h1M479.6 50.6h1M472.6 45.7h1M470.3 47.5h1M468.6 51.3h1M473.4 51.6h1M481.8 48.4h1M478.3 31.9h1M469.2 48.2h1M469.4 52.2h1M472.2 46h1M463.2 50.3h1M471.3 53.3h1M476.5 46.7h1M478.3 45.6h1M469.7 46.7h1M472.7 52.3h1M470.4 41.6h1M480.7 51.3h1M472 47.5h1M465.7 55.1h1M471.1 36.3h1M473.2 49.4h1M477.2 48.1h1M475.1 46.1h1M473.5 45.8h1M486.5 47.3h1M474.6 36.7h1M473.7 49.7h1M477.5 39.3h1M473.5 54.8h1M472.9 46h1M476.9 46.5h1M471.2 43.7h1M465.1 47.8h1M476.8 49.9h1M470.1 49h1M468.6 38.9h1M477.1 40.6h1M466.8 45.3h1M472.2 54.6h1M479.1 57.3h1M474.8 38.8h1M467.4 48.3h1M466.9 49.1h1M479.2 49.9h1M465.3 52.5h1M482.6 52.1h1M485.9 42.9h1M473.2 51.2h1M479 54.3h1M473.1 43.5h1M472.9 43.4h1M474.4 45.3h1M477.8 43.5h1M478.6 43.1h1M480.1 53h1M473.8 45.9h1M475.7 49.2h1M468.7 50.4h1M464.5 41.1h1M467.8 47.9h1M469.7 35.2h1M479.4 44.1h1M472.2 48.6h1M475.7 49.9h1M467.4 48.5h1M478.8 50.7h1M481.4 39.7h1M480 39.8h1M468.2 47.9h1M485.8 52.9h1M473.2 47.4h1M479.5 40.8h1M472.1 44h1M480 49.7h1M475.5 53h1" stroke="#000" stroke-width="1" stroke-opacity="0.25" fill="none"/><path d="M467.9 62.3h1M472.7 58.7h1M470.1 65.9h1M462.4 66.7h1M465.4 71.4h1M472.1 69.6h1M473 66h1M473.5 68.4h1M471.3 70.2h1M477 59.3h1M467.1 60.1h1M463.9 68.7h1M465 65.1h1M466.7 69.9h1M475.5 66.4h1M466.2 63.7h1M468.2 59.5h1M464 66.7h1M470 66.7h1M470.4 63h1M468.5 62h1M469.9 58h1M471.1 66.9h1M467.3 66.6h1M473.1 66.2h1M476.8 70.8h1M469.5 65.2h1M464.2 61.7h1M469.8 66.5h1M470.4 72.6h1M470.7 67.6h1M468.1 61.6h1M467.1 65.6h1M471.9 68.7h1M464.9 65.6h1M472.1 60.3h1M468 60.2h1M466.2 70.6h1M470.5 74.6h1M464.8 69.6h1M468.3 59.6h1M469.8 66.9h1M467.9 70.8h1M467.7 68.9h1M469 63.9h1M470.6 70.2h1M474.8 70.7h1M462.2 60.7h1M468 70.7h1M461.4 66.5h1M464.2 69.1h1M473.2 64.9h1M474.5 69h1M468.4 71.8h1M477.6 65.7h1M470.1 67.3h1M472.3 64.4h1M468.1 70.7h1M468.6 71.3h1M470.2 72.8h1M475 61.4h1M471.9 65.1h1M466.7 69.5h1M473.3 68.1h1M473.5 72.5h1M470.5 68.5h1M471 72h1M465.6 65.8h1M464.2 63.8h1M470.5 64.6h1M466.1 65.1h1M473.6 74.3h1M469.6 63.2h1M469.9 63.6h1M470.4 68.8h1M476.9 63.1h1M468.6 62.8h1M473.4 62.3h1M474.3 73.2h1M462.3 70.4h1M478.3 66.5h1M468.9 74.1h1M468.3 65.7h1M465.5 68.7h1M474.4 63h1M472.5 68.1h1M475.4 65.7h1M466.1 67h1M471 65h1M465.4 68.6h1M462.7 61.5h1M468.7 60.7h1M471.1 59.7h1M468.4 67.8h1M474.6 62.8h1M470.2 70.9h1M465.9 67.6h1M473.7 70.5h1M468.9 67.5h1M466.3 68.3h1M470.8 64h1M478.7 68.7h1M465.8 66.3h1M471.1 62h1M465.5 69.1h1M468.8 65.9h1M473.3 65.1h1M463.2 61.7h1M468.5 65.3h1M467.6 62.6h1" stroke="#000" stroke-width="1" stroke-opacity="0.3" fill="none"/></g></g>
<rect x="445.4" y="24.3" width="57.2" height="52.6" fill="none" stroke="#111" stroke-width="1.3"/>
<line x1="467" y1="24.3" x2="467" y2="76.9" stroke="#111" stroke-width="1.4"/>
<line x1="445.4" y1="58.7" x2="502.6" y2="58.7" stroke="#111" stroke-width="1.4"/>
<text x="451.6" y="32.9" font-family='"Liberation Sans", sans-serif' font-size="6.9" font-weight="bold" font-style="normal" text-anchor="start" fill="#333" >31</text>
<text x="499.3" y="32.9" font-family='"Liberation Sans", sans-serif' font-size="6.9" font-weight="bold" font-style="normal" text-anchor="end" fill="#333" >7</text>
<text x="500" y="72.6" font-family='"Liberation Sans", sans-serif' font-size="6.9" font-weight="bold" font-style="normal" text-anchor="end" fill="#333" >5</text>
<path d="M426.2 80V93.4H439" fill="none" stroke="#000" stroke-width="1.4"/>
<path d="M426.2 75.4L423.7 81L428.7 81Z" fill="#000"/>
<path d="M444.2 93.4L438.6 90.9L438.6 95.9Z" fill="#000"/>
<text x="0" y="0" font-family='"Liberation Serif", serif' font-size="9.6" font-weight="bold" font-style="normal" text-anchor="middle" fill="#000" transform="translate(428.6 65.3) rotate(-90)">CD4</text>
<text x="447" y="97" font-family='"Liberation Serif", serif' font-size="9.6" font-weight="bold" font-style="normal" text-anchor="start" fill="#000" >CD28</text>
<path d="M312.7 170.4L316 152L318 145L319.3 142.3L320.4 145L321.4 144L322.5 149L323.5 151L324.4 151.5L325.5 156L327 159.5L328.2 162L329.5 165.5L331.5 170.4Z" fill="#7d7d7d"/>
<path d="M310.8 170.4L313 150L314.8 126.2L315.8 134L316.8 146L318 155L317.5 170.4Z" fill="#000"/>
<rect x="294.5" y="122.6" width="76.3" height="47.8" fill="none" stroke="#000" stroke-width="1.6"/>
<path d="M295.5 170.4v1.3M298.5 170.4v1.3M301.5 170.4v1.3M304.5 170.4v1.3M307.5 170.4v1.3M310.5 170.4v1.3M313.5 170.4v1.3M316.5 170.4v1.3M319.5 170.4v1.3M322.5 170.4v1.3M325.5 170.4v1.3M328.5 170.4v1.3M331.5 170.4v1.3M334.5 170.4v1.3M337.5 170.4v1.3M340.5 170.4v1.3M343.5 170.4v1.3M346.5 170.4v1.3M349.5 170.4v1.3M352.5 170.4v1.3M355.5 170.4v1.3M358.5 170.4v1.3M361.5 170.4v1.3M364.5 170.4v1.3M367.5 170.4v1.3M370.5 170.4v1.3" stroke="#000" stroke-width="0.6"/>
<text x="300.5" y="130.5" font-family='"Liberation Serif", serif' font-size="6.2" font-weight="normal" font-style="normal" text-anchor="start" fill="#222" ><tspan>CD4</tspan><tspan font-size="4.6" dy="-2.6">+</tspan><tspan dy="2.6">CD28</tspan><tspan font-size="4.6" dy="-2.6">-</tspan></text>
<text x="329" y="158.2" font-family='"Liberation Serif", serif' font-size="6.2" font-weight="normal" font-style="normal" text-anchor="start" fill="#222" ><tspan>CD4</tspan><tspan font-size="4.6" dy="-2.6">+</tspan><tspan dy="2.6">CD28</tspan><tspan font-size="4.6" dy="-2.6">+</tspan></text>
<line x1="287" y1="123.5" x2="287" y2="131.5" stroke="#000" stroke-width="1.3"/>
<path d="M287 119L285.2 124L288.8 124Z" fill="#000"/>
<line x1="287" y1="158" x2="287" y2="171" stroke="#000" stroke-width="1.3"/>
<text x="0" y="0" font-family='"Liberation Serif", serif' font-size="7.1" font-weight="bold" font-style="normal" text-anchor="middle" fill="#000" class="t" transform="translate(289.6 145.6) rotate(-90)">Counts</text>
<text x="323.8" y="183.3" font-family='"Liberation Serif", serif' font-size="10.2" font-weight="bold" font-style="normal" text-anchor="start" fill="#000" >FSC</text>
<line x1="345.5" y1="180.6" x2="366.1" y2="180.6" stroke="#000" stroke-width="1.6"/><path d="M372.2 180.6L365.6 177.8L365.6 183.4Z" fill="#000"/>
<path d="M479.5 165.5L479.8 164.8L480.1 163.9L480.4 162.9L480.8 161.6L481.1 160.1L481.4 158.3L481.7 156.4L482 154.2L482.3 151.8L482.6 149.4L482.9 146.8L483.2 144.2L483.6 141.7L483.9 139.3L484.2 137.2L484.5 135.3L484.8 133.9L485.1 132.9L485.4 132.4L485.8 132.4L486.1 132.9L486.4 133.8L486.7 135.3L487 137.1L487.3 139.2L487.6 141.6L487.9 144.1L488.2 146.7L488.6 149.3L488.9 151.7L489.2 154.1L489.5 156.3L489.8 158.2L490.1 160L490.4 161.5L490.8 162.8L491.1 163.9L491.4 164.8L491.7 165.5L492 166.1Z" fill="#7d7d7d"/>
<path d="M461.3 167.8L463 162L465 157L466.5 155L468 153.5L469 154.5L470 152.2L471 153L472 152.5L473 154L474 156L475 155L476 153L477 154.5L478 160L479.5 167.8Z" fill="#000"/>
<rect x="436.2" y="122.8" width="74.6" height="45" fill="none" stroke="#000" stroke-width="1.6"/>
<text x="440.2" y="150.5" font-family='"Liberation Serif", serif' font-size="6.2" font-weight="normal" font-style="normal" text-anchor="start" fill="#222" ><tspan>CD4</tspan><tspan font-size="4.6" dy="-2.6">+</tspan><tspan dy="2.6">CD28</tspan><tspan font-size="4.6" dy="-2.6">-</tspan></text>
<text x="479" y="131.5" font-family='"Liberation Serif", serif' font-size="6.2" font-weight="normal" font-style="normal" text-anchor="start" fill="#222" ><tspan>CD4</tspan><tspan font-size="4.6" dy="-2.6">+</tspan><tspan dy="2.6">CD28</tspan><tspan font-size="4.6" dy="-2.6">+</tspan></text>
<line x1="429.5" y1="123.5" x2="429.5" y2="132" stroke="#000" stroke-width="1.3"/>
<path d="M429.5 118.5L427.7 123.5L431.3 123.5Z" fill="#000"/>
<line x1="429.5" y1="158" x2="429.5" y2="167.5" stroke="#000" stroke-width="1.3"/>
<text x="0" y="0" font-family='"Liberation Serif", serif' font-size="7.1" font-weight="bold" font-style="normal" text-anchor="middle" fill="#000" class="t" transform="translate(431.9 145.3) rotate(-90)">Counts</text>
<text x="464.8" y="183.3" font-family='"Liberation Serif", serif' font-size="10.2" font-weight="bold" font-style="normal" text-anchor="start" fill="#000" >CD4</text>
<line x1="484.5" y1="180.6" x2="506.4" y2="180.6" stroke="#000" stroke-width="1.6"/><path d="M512.5 180.6L505.9 177.8L505.9 183.4Z" fill="#000"/>
<text x="69.1" y="222.3" font-family='"Liberation Serif", serif' font-size="9.3" font-weight="bold" font-style="italic" text-anchor="middle" fill="#000" >RAG1</text><line x1="30.1" y1="239.3" x2="30.1" y2="315.6" stroke="#8a8a8a" stroke-width="0.9"/><line x1="30.1" y1="315.6" x2="105.1" y2="315.6" stroke="#8a8a8a" stroke-width="0.9"/><path d="M48.8 315.6v1.6M67.4 315.6v1.6M86 315.6v1.6M104.7 315.6v1.6M30.1 239.3h-1.6M30.1 258.4h-1.6M30.1 277.5h-1.6M30.1 296.5h-1.6M30.1 315.6h-1.6" stroke="#8a8a8a" stroke-width="0.8"/><text x="27.5" y="241.4" font-family='"Liberation Sans", sans-serif' font-size="7.5" font-weight="normal" font-style="normal" text-anchor="end" fill="#333" class="t2" textLength="5.5" lengthAdjust="spacingAndGlyphs">0,4</text><text x="27.5" y="260.5" font-family='"Liberation Sans", sans-serif' font-size="7.5" font-weight="normal" font-style="normal" text-anchor="end" fill="#333" class="t2" textLength="5.5" lengthAdjust="spacingAndGlyphs">0,3</text><text x="27.5" y="279.6" font-family='"Liberation Sans", sans-serif' font-size="7.5" font-weight="normal" font-style="normal" text-anchor="end" fill="#333" class="t2" textLength="5.5" lengthAdjust="spacingAndGlyphs">0,2</text><text x="27.5" y="298.6" font-family='"Liberation Sans", sans-serif' font-size="7.5" font-weight="normal" font-style="normal" text-anchor="end" fill="#333" class="t2" textLength="5.5" lengthAdjust="spacingAndGlyphs">0,1</text><text x="27.5" y="317.7" font-family='"Liberation Sans", sans-serif' font-size="7.5" font-weight="normal" font-style="normal" text-anchor="end" fill="#333" class="t2" textLength="2.4" lengthAdjust="spacingAndGlyphs">0</text><rect x="35" y="313.2" width="8.3" height="2.4" fill="#1c1c1c" stroke="#000" stroke-width="1"/><path d="M58 298.6V289.3M56.9 289.3h2.2" stroke="#111" stroke-width="1.1" fill="none"/><rect x="53.8" y="298.6" width="8.3" height="17" fill="#5e5e5e" stroke="#000" stroke-width="1"/><path d="M76.6 277.1V260.6M75.5 260.6h2.2" stroke="#111" stroke-width="1.1" fill="none"/><rect x="72.4" y="277.1" width="8.3" height="38.5" fill="#c4c4c4" stroke="#000" stroke-width="1"/><path d="M94.5 305.4V303.5M93.4 303.5h2.2" stroke="#111" stroke-width="1.1" fill="none"/><rect x="90.4" y="305.4" width="8.2" height="10.2" fill="#ffffff" stroke="#000" stroke-width="1"/>
<text x="155.6" y="222.3" font-family='"Liberation Serif", serif' font-size="9.3" font-weight="bold" font-style="italic" text-anchor="middle" fill="#000" >RAG2</text><line x1="120.6" y1="239.3" x2="120.6" y2="315.6" stroke="#8a8a8a" stroke-width="0.9"/><line x1="120.6" y1="315.6" x2="195.6" y2="315.6" stroke="#8a8a8a" stroke-width="0.9"/><path d="M139.2 315.6v1.6M157.9 315.6v1.6M176.5 315.6v1.6M195.2 315.6v1.6M120.6 239.3h-1.6M120.6 254.6h-1.6M120.6 269.9h-1.6M120.6 285h-1.6M120.6 300.3h-1.6M120.6 315.6h-1.6" stroke="#8a8a8a" stroke-width="0.8"/><text x="118" y="241.4" font-family='"Liberation Sans", sans-serif' font-size="7.5" font-weight="normal" font-style="normal" text-anchor="end" fill="#333" class="t2" textLength="5.5" lengthAdjust="spacingAndGlyphs">0,1</text><text x="118" y="256.7" font-family='"Liberation Sans", sans-serif' font-size="7.5" font-weight="normal" font-style="normal" text-anchor="end" fill="#333" class="t2" textLength="7.9" lengthAdjust="spacingAndGlyphs">0,08</text><text x="118" y="272" font-family='"Liberation Sans", sans-serif' font-size="7.5" font-weight="normal" font-style="normal" text-anchor="end" fill="#333" class="t2" textLength="7.9" lengthAdjust="spacingAndGlyphs">0,06</text><text x="118" y="287.1" font-family='"Liberation Sans", sans-serif' font-size="7.5" font-weight="normal" font-style="normal" text-anchor="end" fill="#333" class="t2" textLength="7.9" lengthAdjust="spacingAndGlyphs">0,04</text><text x="118" y="302.4" font-family='"Liberation Sans", sans-serif' font-size="7.5" font-weight="normal" font-style="normal" text-anchor="end" fill="#333" class="t2" textLength="7.9" lengthAdjust="spacingAndGlyphs">0,02</text><text x="118" y="317.7" font-family='"Liberation Sans", sans-serif' font-size="7.5" font-weight="normal" font-style="normal" text-anchor="end" fill="#333" class="t2" textLength="2.4" lengthAdjust="spacingAndGlyphs">0</text><rect x="125.7" y="311.3" width="8.3" height="4.3" fill="#1c1c1c" stroke="#000" stroke-width="1"/><path d="M148.2 294.9V284.8M147.1 284.8h2.2" stroke="#111" stroke-width="1.1" fill="none"/><rect x="144" y="294.9" width="8.4" height="20.7" fill="#5e5e5e" stroke="#000" stroke-width="1"/><path d="M166.8 270V243.5M165.7 243.5h2.2" stroke="#111" stroke-width="1.1" fill="none"/><rect x="162.5" y="270" width="8.5" height="45.6" fill="#c4c4c4" stroke="#000" stroke-width="1"/><path d="M184.8 302.5V300M183.7 300h2.2" stroke="#111" stroke-width="1.1" fill="none"/><rect x="180.6" y="302.5" width="8.3" height="13.1" fill="#ffffff" stroke="#000" stroke-width="1"/>
<text x="250.6" y="222.3" font-family='"Liberation Serif", serif' font-size="9.3" font-weight="bold" font-style="italic" text-anchor="middle" fill="#000" >pTCRa</text><line x1="210.2" y1="239.3" x2="210.2" y2="315.6" stroke="#8a8a8a" stroke-width="0.9"/><line x1="210.2" y1="315.6" x2="285.2" y2="315.6" stroke="#8a8a8a" stroke-width="0.9"/><path d="M228.8 315.6v1.6M247.5 315.6v1.6M266.1 315.6v1.6M284.8 315.6v1.6M210.2 239.3h-1.6M210.2 254.6h-1.6M210.2 269.9h-1.6M210.2 285h-1.6M210.2 300.3h-1.6M210.2 315.6h-1.6" stroke="#8a8a8a" stroke-width="0.8"/><text x="207.6" y="241.4" font-family='"Liberation Sans", sans-serif' font-size="7.5" font-weight="normal" font-style="normal" text-anchor="end" fill="#333" class="t2" textLength="5.5" lengthAdjust="spacingAndGlyphs">0,1</text><text x="207.6" y="256.7" font-family='"Liberation Sans", sans-serif' font-size="7.5" font-weight="normal" font-style="normal" text-anchor="end" fill="#333" class="t2" textLength="7.9" lengthAdjust="spacingAndGlyphs">0,08</text><text x="207.6" y="272" font-family='"Liberation Sans", sans-serif' font-size="7.5" font-weight="normal" font-style="normal" text-anchor="end" fill="#333" class="t2" textLength="7.9" lengthAdjust="spacingAndGlyphs">0,06</text><text x="207.6" y="287.1" font-family='"Liberation Sans", sans-serif' font-size="7.5" font-weight="normal" font-style="normal" text-anchor="end" fill="#333" class="t2" textLength="7.9" lengthAdjust="spacingAndGlyphs">0,04</text><text x="207.6" y="302.4" font-family='"Liberation Sans", sans-serif' font-size="7.5" font-weight="normal" font-style="normal" text-anchor="end" fill="#333" class="t2" textLength="7.9" lengthAdjust="spacingAndGlyphs">0,02</text><text x="207.6" y="317.7" font-family='"Liberation Sans", sans-serif' font-size="7.5" font-weight="normal" font-style="normal" text-anchor="end" fill="#333" class="t2" textLength="2.4" lengthAdjust="spacingAndGlyphs">0</text><rect x="215.2" y="312" width="8.3" height="3.6" fill="#1c1c1c" stroke="#000" stroke-width="1"/><path d="M238.1 295.2V294M237 294h2.2" stroke="#111" stroke-width="1.1" fill="none"/><rect x="234.1" y="295.2" width="8.1" height="20.4" fill="#5e5e5e" stroke="#000" stroke-width="1"/><path d="M256.6 274.8V253.3M255.5 253.3h2.2" stroke="#111" stroke-width="1.1" fill="none"/><rect x="252.5" y="274.8" width="8.1" height="40.8" fill="#c4c4c4" stroke="#000" stroke-width="1"/><path d="M274.8 310.8V309.8M273.7 309.8h2.2" stroke="#111" stroke-width="1.1" fill="none"/><rect x="270.6" y="310.8" width="8.4" height="4.8" fill="#ffffff" stroke="#000" stroke-width="1"/>
<text x="334.8" y="222.3" font-family='"Liberation Serif", serif' font-size="9.3" font-weight="bold" font-style="italic" text-anchor="middle" fill="#000" >TCR-Ca</text><line x1="300.2" y1="239.3" x2="300.2" y2="315.6" stroke="#8a8a8a" stroke-width="0.9"/><line x1="300.2" y1="315.6" x2="375.2" y2="315.6" stroke="#8a8a8a" stroke-width="0.9"/><path d="M318.8 315.6v1.6M337.5 315.6v1.6M356.1 315.6v1.6M374.8 315.6v1.6M300.2 239.3h-1.6M300.2 258.4h-1.6M300.2 277.5h-1.6M300.2 296.5h-1.6M300.2 315.6h-1.6" stroke="#8a8a8a" stroke-width="0.8"/><text x="297.6" y="241.4" font-family='"Liberation Sans", sans-serif' font-size="7.5" font-weight="normal" font-style="normal" text-anchor="end" fill="#333" class="t2" textLength="7.9" lengthAdjust="spacingAndGlyphs">0,04</text><text x="297.6" y="260.5" font-family='"Liberation Sans", sans-serif' font-size="7.5" font-weight="normal" font-style="normal" text-anchor="end" fill="#333" class="t2" textLength="7.9" lengthAdjust="spacingAndGlyphs">0,03</text><text x="297.6" y="279.6" font-family='"Liberation Sans", sans-serif' font-size="7.5" font-weight="normal" font-style="normal" text-anchor="end" fill="#333" class="t2" textLength="7.9" lengthAdjust="spacingAndGlyphs">0,02</text><text x="297.6" y="298.6" font-family='"Liberation Sans", sans-serif' font-size="7.5" font-weight="normal" font-style="normal" text-anchor="end" fill="#333" class="t2" textLength="7.9" lengthAdjust="spacingAndGlyphs">0,01</text><text x="297.6" y="317.7" font-family='"Liberation Sans", sans-serif' font-size="7.5" font-weight="normal" font-style="normal" text-anchor="end" fill="#333" class="t2" textLength="2.4" lengthAdjust="spacingAndGlyphs">0</text><rect x="304.8" y="315" width="8.1" height="0.6" fill="#1c1c1c" stroke="#000" stroke-width="1"/><rect x="323.5" y="314.6" width="7.8" height="1" fill="#5e5e5e" stroke="#000" stroke-width="1"/><path d="M346 311.7V310.2M344.9 310.2h2.2" stroke="#111" stroke-width="1.1" fill="none"/><rect x="341.9" y="311.7" width="8.3" height="3.9" fill="#c4c4c4" stroke="#000" stroke-width="1"/><path d="M364.6 263.8V250.9M363.5 250.9h2.2" stroke="#111" stroke-width="1.1" fill="none"/><rect x="360.3" y="263.8" width="8.6" height="51.8" fill="#ffffff" stroke="#000" stroke-width="1"/>
<text x="69.2" y="345.8" font-family='"Liberation Serif", serif' font-size="9.3" font-weight="bold" font-style="italic" text-anchor="middle" fill="#000" >Notch1</text><line x1="30.8" y1="357.6" x2="30.8" y2="433.3" stroke="#8a8a8a" stroke-width="0.9"/><line x1="30.8" y1="433.3" x2="105.8" y2="433.3" stroke="#8a8a8a" stroke-width="0.9"/><path d="M49.5 433.3v1.6M68.1 433.3v1.6M86.8 433.3v1.6M105.4 433.3v1.6M30.8 357.6h-1.6M30.8 382.8h-1.6M30.8 408.1h-1.6M30.8 433.3h-1.6" stroke="#8a8a8a" stroke-width="0.8"/><text x="28.2" y="359.7" font-family='"Liberation Sans", sans-serif' font-size="7.5" font-weight="normal" font-style="normal" text-anchor="end" fill="#333" class="t2" textLength="7.9" lengthAdjust="spacingAndGlyphs">0,15</text><text x="28.2" y="384.9" font-family='"Liberation Sans", sans-serif' font-size="7.5" font-weight="normal" font-style="normal" text-anchor="end" fill="#333" class="t2" textLength="5.5" lengthAdjust="spacingAndGlyphs">0,1</text><text x="28.2" y="410.2" font-family='"Liberation Sans", sans-serif' font-size="7.5" font-weight="normal" font-style="normal" text-anchor="end" fill="#333" class="t2" textLength="7.9" lengthAdjust="spacingAndGlyphs">0,05</text><text x="28.2" y="435.4" font-family='"Liberation Sans", sans-serif' font-size="7.5" font-weight="normal" font-style="normal" text-anchor="end" fill="#333" class="t2" textLength="2.4" lengthAdjust="spacingAndGlyphs">0</text><path d="M40 401.7V391.4M38.9 391.4h2.2" stroke="#111" stroke-width="1.1" fill="none"/><rect x="35.7" y="401.7" width="8.5" height="31.6" fill="#1c1c1c" stroke="#000" stroke-width="1"/><path d="M58.5 397.7V395.4M57.4 395.4h2.2" stroke="#111" stroke-width="1.1" fill="none"/><rect x="54.4" y="397.7" width="8.3" height="35.6" fill="#5e5e5e" stroke="#000" stroke-width="1"/><path d="M76.8 391.4V370.1M75.8 370.1h2.2" stroke="#111" stroke-width="1.1" fill="none"/><rect x="72.8" y="391.4" width="8.1" height="41.9" fill="#c4c4c4" stroke="#000" stroke-width="1"/><path d="M95.8 422.4V420.4M94.8 420.4h2.2" stroke="#111" stroke-width="1.1" fill="none"/><rect x="91.9" y="422.4" width="7.9" height="10.9" fill="#ffffff" stroke="#000" stroke-width="1"/>
<text x="162.8" y="345.8" font-family='"Liberation Serif", serif' font-size="9.3" font-weight="bold" font-style="italic" text-anchor="middle" fill="#000" >Notch3</text><line x1="123.8" y1="357.6" x2="123.8" y2="433.3" stroke="#8a8a8a" stroke-width="0.9"/><line x1="123.8" y1="433.3" x2="198.8" y2="433.3" stroke="#8a8a8a" stroke-width="0.9"/><path d="M142.4 433.3v1.6M161.1 433.3v1.6M179.7 433.3v1.6M198.3 433.3v1.6M123.8 357.6h-1.6M123.8 376.5h-1.6M123.8 395.4h-1.6M123.8 414.4h-1.6M123.8 433.3h-1.6" stroke="#8a8a8a" stroke-width="0.8"/><text x="121.2" y="359.7" font-family='"Liberation Sans", sans-serif' font-size="7.5" font-weight="normal" font-style="normal" text-anchor="end" fill="#333" class="t2" textLength="7.9" lengthAdjust="spacingAndGlyphs">0,08</text><text x="121.2" y="378.6" font-family='"Liberation Sans", sans-serif' font-size="7.5" font-weight="normal" font-style="normal" text-anchor="end" fill="#333" class="t2" textLength="7.9" lengthAdjust="spacingAndGlyphs">0,06</text><text x="121.2" y="397.5" font-family='"Liberation Sans", sans-serif' font-size="7.5" font-weight="normal" font-style="normal" text-anchor="end" fill="#333" class="t2" textLength="7.9" lengthAdjust="spacingAndGlyphs">0,04</text><text x="121.2" y="416.5" font-family='"Liberation Sans", sans-serif' font-size="7.5" font-weight="normal" font-style="normal" text-anchor="end" fill="#333" class="t2" textLength="7.9" lengthAdjust="spacingAndGlyphs">0,02</text><text x="121.2" y="435.4" font-family='"Liberation Sans", sans-serif' font-size="7.5" font-weight="normal" font-style="normal" text-anchor="end" fill="#333" class="t2" textLength="2.4" lengthAdjust="spacingAndGlyphs">0</text><path d="M133.4 417.5V413.1M132.3 413.1h2.2" stroke="#111" stroke-width="1.1" fill="none"/><rect x="129.3" y="417.5" width="8.2" height="15.8" fill="#1c1c1c" stroke="#000" stroke-width="1"/><path d="M151.5 398V390.3M150.4 390.3h2.2" stroke="#111" stroke-width="1.1" fill="none"/><rect x="147.5" y="398" width="8" height="35.3" fill="#5e5e5e" stroke="#000" stroke-width="1"/><path d="M170.3 379.1V366.9M169.2 366.9h2.2" stroke="#111" stroke-width="1.1" fill="none"/><rect x="166.2" y="379.1" width="8.3" height="54.2" fill="#c4c4c4" stroke="#000" stroke-width="1"/><rect x="184.5" y="414.5" width="8.5" height="18.8" fill="#ffffff" stroke="#000" stroke-width="1"/>
<text x="252.3" y="345.8" font-family='"Liberation Serif", serif' font-size="9.3" font-weight="bold" font-style="italic" text-anchor="middle" fill="#000" >HES1</text><line x1="213.8" y1="357.6" x2="213.8" y2="433.3" stroke="#8a8a8a" stroke-width="0.9"/><line x1="213.8" y1="433.3" x2="288.8" y2="433.3" stroke="#8a8a8a" stroke-width="0.9"/><path d="M232.4 433.3v1.6M251.1 433.3v1.6M269.7 433.3v1.6M288.4 433.3v1.6M213.8 357.6h-1.6M213.8 376.5h-1.6M213.8 395.4h-1.6M213.8 414.4h-1.6M213.8 433.3h-1.6" stroke="#8a8a8a" stroke-width="0.8"/><text x="211.2" y="359.7" font-family='"Liberation Sans", sans-serif' font-size="7.5" font-weight="normal" font-style="normal" text-anchor="end" fill="#333" class="t2" textLength="7.9" lengthAdjust="spacingAndGlyphs">0,02</text><text x="211.2" y="378.6" font-family='"Liberation Sans", sans-serif' font-size="7.5" font-weight="normal" font-style="normal" text-anchor="end" fill="#333" class="t2" textLength="10.2" lengthAdjust="spacingAndGlyphs">0,015</text><text x="211.2" y="397.5" font-family='"Liberation Sans", sans-serif' font-size="7.5" font-weight="normal" font-style="normal" text-anchor="end" fill="#333" class="t2" textLength="7.9" lengthAdjust="spacingAndGlyphs">0,01</text><text x="211.2" y="416.5" font-family='"Liberation Sans", sans-serif' font-size="7.5" font-weight="normal" font-style="normal" text-anchor="end" fill="#333" class="t2" textLength="10.2" lengthAdjust="spacingAndGlyphs">0,005</text><text x="211.2" y="435.4" font-family='"Liberation Sans", sans-serif' font-size="7.5" font-weight="normal" font-style="normal" text-anchor="end" fill="#333" class="t2" textLength="2.4" lengthAdjust="spacingAndGlyphs">0</text><path d="M223.9 409V392.7M222.8 392.7h2.2" stroke="#111" stroke-width="1.1" fill="none"/><rect x="219.9" y="409" width="8" height="24.3" fill="#1c1c1c" stroke="#000" stroke-width="1"/><path d="M242.5 401.2V388.3M241.4 388.3h2.2" stroke="#111" stroke-width="1.1" fill="none"/><rect x="238.6" y="401.2" width="7.8" height="32.1" fill="#5e5e5e" stroke="#000" stroke-width="1"/><path d="M260.5 400.5V375M259.4 375h2.2" stroke="#111" stroke-width="1.1" fill="none"/><rect x="256.3" y="400.5" width="8.3" height="32.8" fill="#c4c4c4" stroke="#000" stroke-width="1"/><path d="M278.6 426V424.3M277.5 424.3h2.2" stroke="#111" stroke-width="1.1" fill="none"/><rect x="274.5" y="426" width="8.3" height="7.3" fill="#ffffff" stroke="#000" stroke-width="1"/>
<text x="338.2" y="344.5" font-family='"Liberation Serif", serif' font-size="9.3" font-weight="bold" font-style="italic" text-anchor="middle" fill="#000" >Legend</text><line x1="299.6" y1="357.6" x2="299.6" y2="433.3" stroke="#8a8a8a" stroke-width="0.9"/><line x1="299.6" y1="433.3" x2="374.6" y2="433.3" stroke="#8a8a8a" stroke-width="0.9"/><path d="M318.2 433.3v1.6M336.9 433.3v1.6M355.6 433.3v1.6M374.2 433.3v1.6M299.6 357.6h-1.6M299.6 376.5h-1.6M299.6 395.4h-1.6M299.6 414.4h-1.6" stroke="#8a8a8a" stroke-width="0.8"/><rect x="305.2" y="414.5" width="8.5" height="18.8" fill="#1c1c1c" stroke="#000" stroke-width="1"/><rect x="323.4" y="414.5" width="8.2" height="18.8" fill="#5e5e5e" stroke="#000" stroke-width="1"/><rect x="341.4" y="414.5" width="8.5" height="18.8" fill="#c4c4c4" stroke="#000" stroke-width="1"/><rect x="359.8" y="414.5" width="8.3" height="18.8" fill="#ffffff" stroke="#000" stroke-width="1"/>
<text x="0" y="0" font-family='"Liberation Serif", serif' font-size="5.7" font-weight="bold" font-style="normal" text-anchor="start" fill="#000" transform="translate(310.9 410.6) rotate(-90)" textLength="43" lengthAdjust="spacingAndGlyphs"><tspan>CD34</tspan><tspan font-size="3.9" dy="-2.5">+</tspan><tspan dy="2.5"> CD1</tspan><tspan font-size="3.9" dy="-2.5">-</tspan><tspan dy="2.5"> CD4</tspan><tspan font-size="3.9" dy="-2.5">-</tspan></text>
<text x="0" y="0" font-family='"Liberation Serif", serif' font-size="5.7" font-weight="bold" font-style="normal" text-anchor="start" fill="#000" transform="translate(329 410.6) rotate(-90)" textLength="43" lengthAdjust="spacingAndGlyphs"><tspan>CD34</tspan><tspan font-size="3.9" dy="-2.5">+</tspan><tspan dy="2.5"> CD1</tspan><tspan font-size="3.9" dy="-2.5">+</tspan><tspan dy="2.5"> CD4</tspan><tspan font-size="3.9" dy="-2.5">-</tspan></text>
<text x="0" y="0" font-family='"Liberation Serif", serif' font-size="5.7" font-weight="bold" font-style="normal" text-anchor="start" fill="#000" transform="translate(347.3 410.6) rotate(-90)" textLength="59" lengthAdjust="spacingAndGlyphs"><tspan>CD4</tspan><tspan font-size="3.9" dy="-2.5">+</tspan><tspan dy="2.5"> CD8&#945;</tspan><tspan font-size="3.9" dy="-2.5">-</tspan><tspan dy="2.5"> CD3</tspan><tspan font-size="3.9" dy="-2.5">-</tspan><tspan dy="2.5"> CD28</tspan><tspan font-size="3.9" dy="-2.5">-</tspan></text>
<text x="0" y="0" font-family='"Liberation Serif", serif' font-size="5.7" font-weight="bold" font-style="normal" text-anchor="start" fill="#000" transform="translate(365.1 410.6) rotate(-90)" textLength="59" lengthAdjust="spacingAndGlyphs"><tspan>CD4</tspan><tspan font-size="3.9" dy="-2.5">+</tspan><tspan dy="2.5"> CD8&#945;</tspan><tspan font-size="3.9" dy="-2.5">-</tspan><tspan dy="2.5"> CD3</tspan><tspan font-size="3.9" dy="-2.5">-</tspan><tspan dy="2.5"> CD28</tspan><tspan font-size="3.9" dy="-2.5">+</tspan></text>
</g>
</svg>
</body></html>
